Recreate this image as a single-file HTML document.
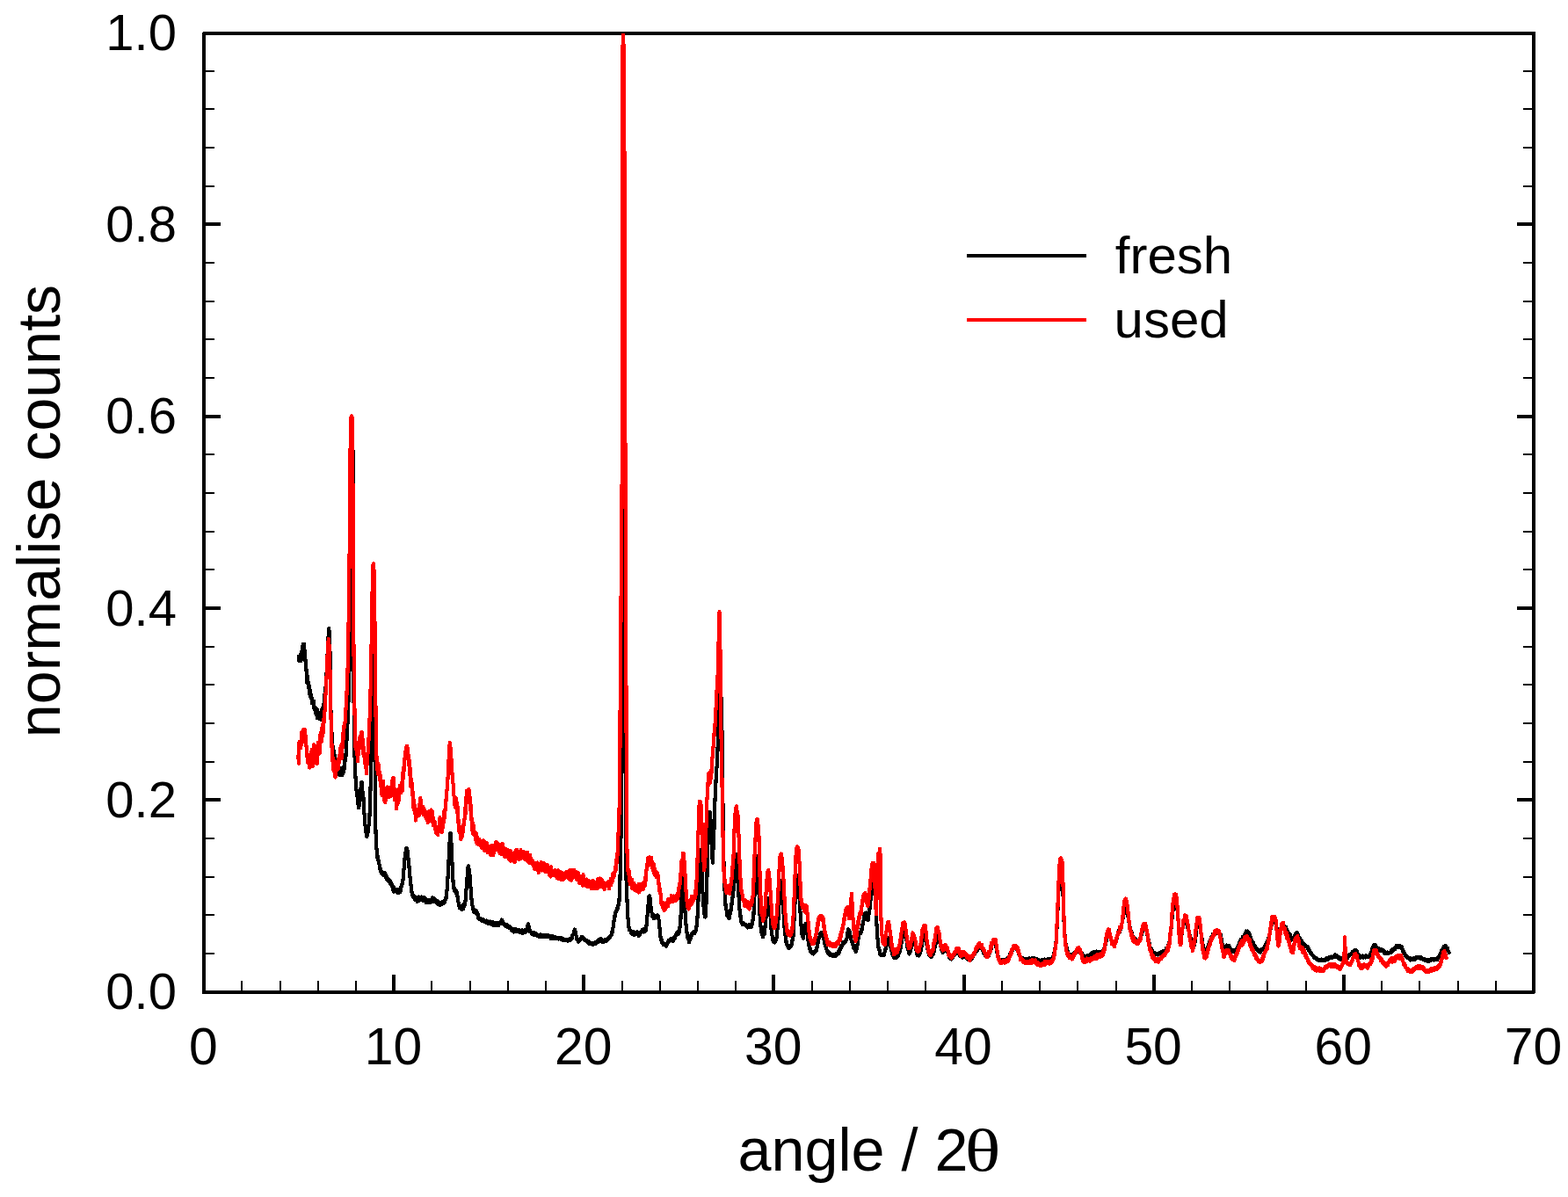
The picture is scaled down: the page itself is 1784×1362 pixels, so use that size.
<!DOCTYPE html>
<html lang="en">
<head>
<meta charset="utf-8">
<title>XRD pattern: fresh vs used</title>
<style>html,body{margin:0;padding:0;background:#fff;}body{width:1784px;height:1362px;overflow:hidden;}svg{display:block;}</style>
</head>
<body>
<svg width="1784" height="1362" viewBox="0 0 1784 1362" role="img" aria-label="XRD patterns: fresh and used">
<rect width="1784" height="1362" fill="#fff"/>
<g stroke="#000" fill="none" shape-rendering="crispEdges"><path d="M232.0 1129.0v-20" stroke-width="4"/><path d="M275.2 1129.0v-12.7" stroke-width="2"/><path d="M318.5 1129.0v-12.7" stroke-width="2"/><path d="M361.7 1129.0v-12.7" stroke-width="2"/><path d="M404.9 1129.0v-12.7" stroke-width="2"/><path d="M448.1 1129.0v-20" stroke-width="4"/><path d="M491.4 1129.0v-12.7" stroke-width="2"/><path d="M534.6 1129.0v-12.7" stroke-width="2"/><path d="M577.8 1129.0v-12.7" stroke-width="2"/><path d="M621.1 1129.0v-12.7" stroke-width="2"/><path d="M664.3 1129.0v-20" stroke-width="4"/><path d="M707.5 1129.0v-12.7" stroke-width="2"/><path d="M750.7 1129.0v-12.7" stroke-width="2"/><path d="M794.0 1129.0v-12.7" stroke-width="2"/><path d="M837.2 1129.0v-12.7" stroke-width="2"/><path d="M880.4 1129.0v-20" stroke-width="4"/><path d="M923.7 1129.0v-12.7" stroke-width="2"/><path d="M966.9 1129.0v-12.7" stroke-width="2"/><path d="M1010.1 1129.0v-12.7" stroke-width="2"/><path d="M1053.3 1129.0v-12.7" stroke-width="2"/><path d="M1096.6 1129.0v-20" stroke-width="4"/><path d="M1139.8 1129.0v-12.7" stroke-width="2"/><path d="M1183.0 1129.0v-12.7" stroke-width="2"/><path d="M1226.3 1129.0v-12.7" stroke-width="2"/><path d="M1269.5 1129.0v-12.7" stroke-width="2"/><path d="M1312.7 1129.0v-20" stroke-width="4"/><path d="M1355.9 1129.0v-12.7" stroke-width="2"/><path d="M1399.2 1129.0v-12.7" stroke-width="2"/><path d="M1442.4 1129.0v-12.7" stroke-width="2"/><path d="M1485.6 1129.0v-12.7" stroke-width="2"/><path d="M1528.9 1129.0v-20" stroke-width="4"/><path d="M1572.1 1129.0v-12.7" stroke-width="2"/><path d="M1615.3 1129.0v-12.7" stroke-width="2"/><path d="M1658.5 1129.0v-12.7" stroke-width="2"/><path d="M1701.8 1129.0v-12.7" stroke-width="2"/><path d="M1745.0 1129.0v-20" stroke-width="4"/><path d="M232.0 1084.9h12.0M1745.0 1084.9h-12.0" stroke-width="2"/><path d="M232.0 1041.3h12.0M1745.0 1041.3h-12.0" stroke-width="2"/><path d="M232.0 997.6h12.0M1745.0 997.6h-12.0" stroke-width="2"/><path d="M232.0 953.9h12.0M1745.0 953.9h-12.0" stroke-width="2"/><path d="M232.0 910.3h19.2M1745.0 910.3h-19.2" stroke-width="4"/><path d="M232.0 866.6h12.0M1745.0 866.6h-12.0" stroke-width="2"/><path d="M232.0 823.0h12.0M1745.0 823.0h-12.0" stroke-width="2"/><path d="M232.0 779.3h12.0M1745.0 779.3h-12.0" stroke-width="2"/><path d="M232.0 735.6h12.0M1745.0 735.6h-12.0" stroke-width="2"/><path d="M232.0 692.0h19.2M1745.0 692.0h-19.2" stroke-width="4"/><path d="M232.0 648.3h12.0M1745.0 648.3h-12.0" stroke-width="2"/><path d="M232.0 604.6h12.0M1745.0 604.6h-12.0" stroke-width="2"/><path d="M232.0 561.0h12.0M1745.0 561.0h-12.0" stroke-width="2"/><path d="M232.0 517.3h12.0M1745.0 517.3h-12.0" stroke-width="2"/><path d="M232.0 473.6h19.2M1745.0 473.6h-19.2" stroke-width="4"/><path d="M232.0 430.0h12.0M1745.0 430.0h-12.0" stroke-width="2"/><path d="M232.0 386.3h12.0M1745.0 386.3h-12.0" stroke-width="2"/><path d="M232.0 342.6h12.0M1745.0 342.6h-12.0" stroke-width="2"/><path d="M232.0 299.0h12.0M1745.0 299.0h-12.0" stroke-width="2"/><path d="M232.0 255.3h19.2M1745.0 255.3h-19.2" stroke-width="4"/><path d="M232.0 211.7h12.0M1745.0 211.7h-12.0" stroke-width="2"/><path d="M232.0 168.0h12.0M1745.0 168.0h-12.0" stroke-width="2"/><path d="M232.0 124.3h12.0M1745.0 124.3h-12.0" stroke-width="2"/><path d="M232.0 80.7h12.0M1745.0 80.7h-12.0" stroke-width="2"/></g>
<rect x="232.0" y="38.0" width="1513.0" height="1091.0" fill="none" stroke="#000" stroke-width="4" stroke-linejoin="round" shape-rendering="crispEdges"/>
<polyline shape-rendering="crispEdges" fill="none" stroke="#000" stroke-width="4.2" stroke-linejoin="round" stroke-linecap="round" points="340.0,751.0 340.0,746.9 340.2,749.2 340.5,752.2 340.8,748.1 341.0,746.3 341.2,748.9 341.5,749.1 341.8,751.7 342.0,744.4 342.2,744.7 342.5,751.9 342.8,749.0 343.0,750.5 343.2,746.6 343.5,740.9 343.8,739.3 344.0,747.8 344.2,737.3 344.5,734.6 344.8,732.9 345.0,735.9 345.2,735.4 345.5,733.0 345.8,733.2 346.0,732.8 346.2,736.1 346.5,740.0 346.8,743.8 347.0,742.7 347.2,744.9 347.5,752.0 347.8,754.1 348.0,759.8 348.2,756.9 348.4,763.3 348.7,762.5 348.9,767.3 349.1,776.3 349.3,769.8 349.6,774.3 349.8,769.2 350.0,774.1 350.2,778.1 350.5,776.8 350.7,779.2 350.9,779.4 351.1,777.0 351.4,782.9 351.6,779.7 351.8,788.9 352.0,782.7 352.3,787.3 352.5,786.3 352.7,789.9 353.0,786.0 353.2,791.6 353.4,789.1 353.6,794.0 353.9,792.9 354.1,792.2 354.3,790.3 354.5,795.7 354.8,795.6 355.0,799.9 355.2,794.6 355.5,798.0 355.7,798.5 355.9,798.6 356.1,799.0 356.4,799.6 356.6,798.0 356.8,797.5 357.0,800.0 357.3,803.5 357.5,806.9 357.7,805.9 358.0,806.7 358.2,806.4 358.4,806.8 358.6,805.9 358.9,808.1 359.1,811.6 359.3,806.1 359.5,805.6 359.8,813.8 360.0,809.4 360.2,812.0 360.5,812.1 360.7,806.9 360.9,817.4 361.1,816.0 361.4,812.0 361.6,814.1 361.8,812.7 362.0,810.4 362.3,813.0 362.5,814.8 362.7,817.1 363.0,816.2 363.2,814.6 363.4,818.4 363.6,812.8 363.9,817.3 364.1,818.4 364.3,814.8 364.5,810.8 364.8,813.5 365.0,816.9 365.2,817.2 365.5,819.4 365.7,811.7 365.9,814.0 366.1,815.2 366.4,812.4 366.6,805.6 366.8,814.0 367.0,817.7 367.3,813.4 367.5,807.4 367.7,806.8 367.9,806.6 368.2,811.2 368.4,803.8 368.6,800.3 368.9,802.6 369.1,795.8 369.3,799.5 369.5,790.0 369.8,789.0 370.0,788.7 370.2,787.4 370.5,782.7 370.8,779.0 371.0,771.2 371.2,771.9 371.5,767.0 371.8,762.1 372.0,758.0 372.2,752.3 372.5,746.7 372.8,740.0 373.0,733.6 373.2,727.6 373.5,725.3 373.8,723.2 374.0,717.0 374.2,715.0 374.5,717.6 374.8,718.1 375.0,728.0 375.2,727.6 375.5,746.2 375.8,765.0 376.0,783.7 376.2,802.5 376.5,810.7 376.8,819.3 377.0,826.9 377.2,834.8 377.5,833.0 377.8,843.5 378.0,843.9 378.2,843.3 378.5,849.6 378.8,849.1 379.0,859.7 379.2,858.9 379.5,858.8 379.7,858.1 379.9,854.5 380.1,860.6 380.4,858.4 380.6,864.7 380.8,859.4 381.0,863.5 381.3,869.7 381.5,871.9 381.7,865.8 382.0,865.5 382.2,871.7 382.4,872.1 382.7,868.4 382.9,869.6 383.1,870.2 383.3,869.6 383.6,871.3 383.8,876.3 384.0,875.5 384.3,879.2 384.5,874.8 384.7,875.1 385.0,873.6 385.2,876.0 385.4,873.7 385.7,873.1 385.9,879.1 386.1,881.2 386.3,880.3 386.6,881.8 386.8,879.8 387.0,878.0 387.3,880.3 387.5,879.7 387.7,877.7 388.0,876.2 388.2,876.4 388.4,879.5 388.7,879.6 388.9,877.9 389.1,882.0 389.4,878.9 389.6,879.6 389.8,880.8 390.1,875.9 390.3,873.0 390.5,879.0 390.8,875.4 391.0,878.7 391.2,875.1 391.4,875.4 391.7,873.5 391.9,865.6 392.1,870.8 392.3,866.2 392.6,864.7 392.8,864.1 393.0,865.7 393.2,863.4 393.5,859.6 393.8,853.0 394.0,850.1 394.2,844.4 394.5,842.8 394.8,839.6 395.0,834.7 395.2,828.9 395.5,822.6 395.8,816.7 396.0,809.6 396.2,803.4 396.5,797.3 396.8,788.9 397.0,779.8 397.2,770.5 397.5,761.6 397.8,752.5 398.0,740.0 398.2,727.5 398.5,715.0 398.8,702.3 399.0,690.0 399.2,656.7 399.5,623.3 399.8,590.0 400.0,565.0 400.2,540.0 400.5,515.0 400.8,503.3 401.0,492.0 401.2,503.5 401.5,515.0 401.8,590.0 402.0,690.0 402.2,765.0 402.5,790.0 402.8,815.0 403.0,833.6 403.2,852.5 403.5,858.8 403.8,865.3 404.0,872.0 404.2,878.9 404.5,885.0 404.8,888.0 405.0,890.6 405.2,894.5 405.5,899.0 405.8,900.6 406.0,902.9 406.2,905.9 406.5,906.8 406.8,907.7 407.0,914.2 407.2,914.2 407.5,914.5 407.8,919.4 408.0,916.7 408.2,918.1 408.5,916.9 408.8,910.9 409.0,909.6 409.2,909.5 409.5,911.3 409.8,908.8 410.0,902.2 410.2,902.5 410.5,897.4 410.8,894.4 411.0,893.4 411.2,893.5 411.5,889.9 411.8,891.3 412.0,890.3 412.2,896.4 412.5,902.2 412.8,905.4 413.0,901.9 413.2,903.8 413.5,909.1 413.8,913.1 414.0,919.4 414.2,922.9 414.5,925.3 414.8,930.4 415.0,933.5 415.2,935.0 415.5,939.5 415.8,941.5 416.0,943.8 416.2,945.9 416.5,946.9 416.8,949.7 417.0,950.3 417.2,949.1 417.4,952.4 417.7,949.8 417.9,949.2 418.1,945.1 418.3,946.8 418.6,947.8 418.8,943.5 419.0,946.4 419.2,941.6 419.5,939.7 419.8,936.1 420.0,933.6 420.2,932.0 420.5,927.4 420.8,920.3 421.0,912.3 421.2,904.8 421.5,897.7 421.8,889.9 422.0,877.5 422.2,865.1 422.5,852.6 422.8,839.9 423.0,823.4 423.2,806.8 423.5,790.1 423.8,777.5 424.0,764.9 424.2,752.5 424.5,746.9 424.8,743.5 425.0,739.5 425.2,744.5 425.5,749.7 425.8,755.0 426.0,785.0 426.2,815.0 426.5,852.5 426.8,890.0 427.0,915.0 427.2,940.0 427.5,946.2 427.8,952.2 428.0,958.7 428.2,965.5 428.5,966.1 428.8,968.8 429.0,972.7 429.2,974.1 429.5,976.1 429.8,977.3 430.0,974.1 430.2,976.8 430.5,979.2 430.8,980.7 431.0,983.1 431.2,983.2 431.5,983.4 431.8,985.1 432.0,986.0 432.2,987.8 432.5,989.7 432.7,988.7 433.0,988.6 433.2,989.0 433.4,992.0 433.6,992.7 433.9,992.8 434.1,993.1 434.3,993.5 434.5,992.8 434.8,994.2 435.0,992.4 435.2,993.6 435.5,993.0 435.7,995.0 435.9,993.4 436.1,994.2 436.4,995.0 436.6,996.3 436.8,993.6 437.0,993.5 437.3,996.0 437.5,993.6 437.7,995.8 438.0,994.7 438.2,995.5 438.4,993.5 438.6,997.1 438.9,995.7 439.1,995.4 439.3,999.5 439.5,998.0 439.8,1000.5 440.0,998.0 440.2,997.5 440.5,998.5 440.7,1000.9 440.9,999.3 441.1,1000.3 441.4,1000.9 441.6,999.5 441.8,1001.3 442.0,1001.0 442.3,1000.5 442.5,1003.6 442.7,1003.7 443.0,1003.3 443.2,1002.4 443.4,1001.4 443.6,1004.8 443.9,1004.4 444.1,1002.8 444.3,1005.2 444.5,1003.7 444.8,1005.9 445.0,1006.4 445.2,1007.1 445.5,1007.4 445.7,1007.8 445.9,1006.7 446.1,1008.1 446.4,1008.4 446.6,1009.2 446.8,1010.2 447.0,1011.1 447.3,1012.7 447.5,1008.3 447.7,1011.9 448.0,1011.5 448.2,1014.6 448.4,1013.2 448.6,1010.5 448.9,1013.1 449.1,1012.2 449.3,1014.2 449.5,1012.1 449.8,1013.4 450.0,1013.6 450.2,1013.7 450.4,1013.2 450.7,1011.8 450.9,1014.5 451.1,1015.1 451.3,1013.9 451.5,1012.9 451.8,1014.3 452.0,1014.8 452.2,1014.0 452.4,1014.2 452.6,1015.9 452.9,1013.0 453.1,1013.7 453.3,1012.2 453.5,1013.7 453.8,1013.7 454.0,1013.1 454.2,1013.1 454.4,1015.7 454.7,1013.1 454.9,1012.9 455.1,1015.3 455.3,1012.4 455.6,1010.1 455.8,1012.3 456.0,1010.5 456.2,1013.2 456.5,1008.9 456.8,1008.8 457.0,1006.7 457.2,1007.8 457.5,1005.6 457.8,1005.8 458.0,1004.5 458.2,1001.7 458.5,1001.2 458.8,998.7 459.0,995.1 459.2,991.3 459.5,988.9 459.8,987.4 460.0,986.6 460.2,980.8 460.5,977.5 460.8,974.7 461.0,971.3 461.2,969.8 461.5,969.8 461.8,971.1 462.0,967.7 462.2,965.7 462.5,965.2 462.8,965.7 463.0,967.5 463.2,968.1 463.5,967.2 463.8,968.4 464.0,971.9 464.2,975.5 464.5,976.9 464.8,978.3 465.0,979.7 465.2,983.2 465.5,985.8 465.8,990.9 466.0,990.6 466.2,994.2 466.5,998.7 466.8,999.5 467.0,1003.9 467.2,1004.3 467.5,1006.8 467.8,1008.5 468.0,1009.6 468.2,1011.1 468.4,1015.8 468.7,1014.9 468.9,1015.8 469.1,1017.2 469.3,1017.7 469.6,1019.2 469.8,1018.7 470.0,1019.8 470.2,1021.3 470.5,1020.1 470.7,1019.2 470.9,1020.7 471.1,1020.5 471.4,1022.0 471.6,1020.8 471.8,1020.7 472.0,1021.7 472.3,1024.0 472.5,1022.4 472.7,1022.8 473.0,1022.7 473.2,1023.2 473.4,1024.0 473.6,1024.6 473.9,1021.4 474.1,1024.8 474.3,1023.4 474.5,1023.2 474.8,1026.2 475.0,1023.6 475.2,1025.7 475.4,1024.6 475.7,1022.3 475.9,1023.9 476.1,1024.0 476.3,1023.0 476.5,1020.5 476.8,1022.6 477.0,1022.6 477.2,1021.5 477.4,1024.6 477.6,1022.3 477.9,1022.0 478.1,1022.0 478.3,1021.4 478.5,1021.3 478.8,1022.1 479.0,1022.4 479.2,1021.5 479.4,1022.0 479.6,1020.6 479.9,1022.7 480.1,1021.4 480.3,1022.4 480.5,1021.3 480.7,1021.7 481.0,1022.5 481.2,1021.0 481.4,1025.0 481.6,1022.3 481.8,1022.3 482.1,1021.6 482.3,1024.2 482.5,1024.0 482.7,1023.0 482.9,1021.4 483.2,1022.5 483.4,1023.9 483.6,1022.8 483.8,1022.3 484.0,1022.5 484.3,1023.1 484.5,1024.1 484.7,1023.6 484.9,1024.5 485.1,1027.3 485.4,1026.7 485.6,1023.9 485.8,1025.5 486.0,1025.4 486.2,1025.4 486.5,1026.6 486.7,1025.2 486.9,1025.3 487.1,1025.3 487.4,1025.6 487.6,1027.1 487.8,1026.6 488.0,1024.4 488.2,1025.4 488.5,1025.1 488.7,1026.8 488.9,1026.3 489.1,1027.0 489.3,1026.1 489.6,1024.2 489.8,1026.7 490.0,1026.5 490.2,1026.6 490.5,1024.4 490.7,1025.7 490.9,1024.6 491.1,1024.4 491.4,1025.3 491.6,1025.0 491.8,1023.5 492.0,1022.4 492.3,1021.3 492.5,1023.1 492.7,1025.0 493.0,1023.8 493.2,1021.6 493.4,1023.1 493.6,1024.5 493.9,1025.9 494.1,1025.5 494.3,1024.7 494.5,1024.6 494.8,1023.3 495.0,1024.0 495.2,1024.3 495.4,1024.0 495.7,1025.1 495.9,1024.8 496.1,1025.7 496.3,1027.1 496.5,1026.5 496.8,1026.4 497.0,1025.8 497.2,1024.7 497.4,1026.3 497.6,1027.2 497.9,1025.7 498.1,1028.3 498.3,1026.8 498.5,1027.7 498.8,1027.2 499.0,1026.2 499.2,1029.6 499.4,1026.3 499.6,1028.5 499.9,1026.9 500.1,1027.8 500.3,1026.7 500.5,1027.1 500.7,1028.5 501.0,1029.5 501.2,1026.6 501.4,1027.5 501.6,1028.5 501.8,1026.8 502.1,1028.2 502.3,1026.7 502.5,1028.1 502.7,1027.9 503.0,1028.6 503.2,1027.6 503.4,1025.9 503.7,1027.7 503.9,1025.8 504.1,1027.6 504.3,1028.3 504.6,1027.3 504.8,1026.0 505.0,1027.7 505.3,1026.5 505.5,1024.9 505.7,1025.5 505.9,1026.9 506.2,1024.7 506.4,1024.7 506.6,1023.8 506.8,1021.9 507.1,1022.8 507.3,1023.3 507.5,1022.7 507.8,1019.8 508.0,1015.1 508.2,1016.4 508.5,1013.3 508.8,1011.2 509.0,1008.0 509.2,1002.8 509.5,998.3 509.8,994.1 510.0,990.2 510.2,984.4 510.5,979.9 510.8,974.7 511.0,970.2 511.2,965.6 511.5,959.9 511.8,955.6 512.0,953.9 512.2,950.5 512.5,947.8 512.8,949.1 513.0,954.8 513.2,956.4 513.5,960.2 513.8,965.2 514.0,971.6 514.2,976.5 514.5,982.8 514.8,986.9 515.0,993.0 515.2,997.4 515.5,1002.0 515.8,1007.4 516.0,1009.2 516.2,1008.8 516.5,1010.7 516.8,1012.8 517.0,1013.6 517.2,1010.8 517.5,1013.2 517.8,1014.1 518.0,1013.9 518.2,1014.7 518.5,1012.7 518.8,1016.4 519.0,1014.7 519.2,1014.5 519.5,1015.6 519.8,1015.8 520.0,1015.1 520.2,1016.3 520.5,1020.1 520.8,1021.5 521.0,1021.0 521.2,1023.8 521.5,1026.7 521.8,1027.6 522.0,1029.0 522.2,1030.7 522.5,1031.4 522.7,1033.0 523.0,1031.0 523.2,1031.3 523.4,1032.2 523.6,1032.8 523.9,1033.0 524.1,1033.8 524.3,1032.0 524.5,1033.8 524.8,1033.3 525.0,1032.0 525.2,1032.8 525.5,1034.9 525.7,1033.5 525.9,1032.2 526.1,1030.2 526.4,1031.7 526.6,1031.7 526.8,1032.3 527.0,1034.5 527.3,1032.8 527.5,1032.3 527.7,1030.3 527.9,1029.2 528.2,1029.5 528.4,1028.4 528.6,1030.7 528.8,1026.9 529.1,1025.9 529.3,1027.0 529.5,1025.1 529.8,1021.1 530.0,1020.0 530.2,1015.8 530.5,1011.9 530.8,1010.2 531.0,1006.8 531.2,1002.8 531.5,1000.0 531.8,996.5 532.0,991.9 532.2,988.3 532.5,986.4 532.8,988.0 533.0,988.4 533.2,985.2 533.5,988.4 533.8,990.8 534.0,993.2 534.2,992.5 534.5,996.7 534.8,998.5 535.0,1003.4 535.2,1006.7 535.5,1009.9 535.8,1012.6 536.0,1015.1 536.2,1019.1 536.5,1023.0 536.8,1024.7 537.0,1027.3 537.2,1027.8 537.5,1030.5 537.8,1031.0 538.0,1034.1 538.2,1034.0 538.4,1034.9 538.7,1034.4 538.9,1034.3 539.1,1035.5 539.3,1037.3 539.6,1038.2 539.8,1036.8 540.0,1038.3 540.2,1038.4 540.5,1038.2 540.7,1036.5 540.9,1038.4 541.2,1037.3 541.4,1039.5 541.6,1039.2 541.9,1039.2 542.1,1036.4 542.3,1039.5 542.6,1039.7 542.8,1038.0 543.0,1040.3 543.2,1039.6 543.5,1040.1 543.8,1040.4 544.0,1040.9 544.2,1042.2 544.5,1045.7 544.8,1044.4 545.0,1045.2 545.2,1044.5 545.5,1044.7 545.7,1044.8 545.9,1044.7 546.1,1046.3 546.4,1045.4 546.6,1046.6 546.8,1044.9 547.0,1046.8 547.3,1046.1 547.5,1046.8 547.7,1046.3 548.0,1045.7 548.2,1047.7 548.4,1046.3 548.6,1046.7 548.9,1046.2 549.1,1047.2 549.3,1046.8 549.5,1047.5 549.8,1047.7 550.0,1046.9 550.2,1046.4 550.5,1048.1 550.7,1048.6 550.9,1048.6 551.1,1047.1 551.4,1048.7 551.6,1048.6 551.8,1048.7 552.0,1048.9 552.3,1048.4 552.5,1048.9 552.7,1049.6 553.0,1048.4 553.2,1047.7 553.4,1048.9 553.6,1049.2 553.9,1047.5 554.1,1048.6 554.3,1049.7 554.5,1049.1 554.8,1049.4 555.0,1048.3 555.2,1050.2 555.5,1051.0 555.7,1049.4 555.9,1049.0 556.1,1048.7 556.4,1050.5 556.6,1049.9 556.8,1049.2 557.0,1050.9 557.3,1050.6 557.5,1050.5 557.7,1048.6 558.0,1050.0 558.2,1050.7 558.4,1049.2 558.6,1051.1 558.9,1051.6 559.1,1051.3 559.3,1049.8 559.5,1049.9 559.8,1051.4 560.0,1051.5 560.2,1051.7 560.5,1051.8 560.7,1050.7 560.9,1050.5 561.1,1049.3 561.4,1051.6 561.6,1052.9 561.8,1050.7 562.0,1050.7 562.3,1051.7 562.5,1051.6 562.7,1050.1 563.0,1050.6 563.2,1050.3 563.4,1053.0 563.6,1050.6 563.9,1052.0 564.1,1052.9 564.3,1052.8 564.5,1052.4 564.8,1052.6 565.0,1050.2 565.2,1051.0 565.5,1050.6 565.7,1051.0 565.9,1053.4 566.1,1049.8 566.4,1051.7 566.6,1050.2 566.8,1052.4 567.0,1052.3 567.3,1050.8 567.5,1053.0 567.7,1051.1 568.0,1051.9 568.2,1050.8 568.4,1049.9 568.6,1049.8 568.9,1049.8 569.1,1050.2 569.3,1049.5 569.5,1051.2 569.8,1048.8 570.0,1048.3 570.2,1047.8 570.5,1047.5 570.8,1046.6 571.0,1046.7 571.2,1048.0 571.5,1047.9 571.8,1048.2 572.0,1049.3 572.2,1050.4 572.5,1050.6 572.8,1051.3 573.0,1050.8 573.2,1051.2 573.4,1051.0 573.7,1051.8 573.9,1051.3 574.1,1051.9 574.3,1052.3 574.6,1052.4 574.8,1052.6 575.0,1052.6 575.2,1054.2 575.4,1053.0 575.7,1052.5 575.9,1053.6 576.1,1052.7 576.3,1052.8 576.5,1053.9 576.8,1052.6 577.0,1052.0 577.2,1054.4 577.4,1055.1 577.6,1053.0 577.9,1053.8 578.1,1055.1 578.3,1053.2 578.5,1054.2 578.8,1054.0 579.0,1055.0 579.2,1053.7 579.4,1056.2 579.7,1055.6 579.9,1056.1 580.1,1055.8 580.3,1054.5 580.6,1056.2 580.8,1055.5 581.0,1056.7 581.2,1056.2 581.5,1056.8 581.7,1057.0 581.9,1058.0 582.2,1058.2 582.4,1056.9 582.6,1057.9 582.8,1059.2 583.1,1058.6 583.3,1057.8 583.5,1058.5 583.8,1058.5 584.0,1059.5 584.2,1058.8 584.4,1059.0 584.7,1060.4 584.9,1057.6 585.1,1057.9 585.3,1057.3 585.6,1057.4 585.8,1059.3 586.0,1058.9 586.2,1059.9 586.5,1057.1 586.7,1057.9 586.9,1059.7 587.2,1059.4 587.4,1059.3 587.6,1059.2 587.8,1058.6 588.1,1058.5 588.3,1058.5 588.5,1059.2 588.8,1058.4 589.0,1058.8 589.2,1059.8 589.4,1057.8 589.7,1058.2 589.9,1059.3 590.1,1058.7 590.3,1058.9 590.6,1060.7 590.8,1059.4 591.0,1058.9 591.2,1060.1 591.5,1061.3 591.7,1058.5 591.9,1058.9 592.2,1059.6 592.4,1059.1 592.6,1061.3 592.8,1060.1 593.1,1059.5 593.3,1060.2 593.5,1059.3 593.8,1059.5 594.0,1060.1 594.2,1061.8 594.4,1058.3 594.7,1060.3 594.9,1061.0 595.1,1060.6 595.3,1061.5 595.6,1060.3 595.8,1060.1 596.0,1059.9 596.2,1059.3 596.5,1061.3 596.7,1059.1 596.9,1059.9 597.2,1059.6 597.4,1059.4 597.6,1058.3 597.8,1059.7 598.1,1060.1 598.3,1060.1 598.5,1060.6 598.8,1059.9 599.0,1058.5 599.2,1058.2 599.5,1057.4 599.8,1055.1 600.0,1053.6 600.2,1052.9 600.5,1054.1 600.8,1053.5 601.0,1051.3 601.2,1051.6 601.5,1053.4 601.8,1055.0 602.0,1054.6 602.2,1056.1 602.5,1058.6 602.8,1060.0 603.0,1059.9 603.2,1058.4 603.5,1060.2 603.8,1060.3 604.0,1060.6 604.2,1060.2 604.4,1060.5 604.6,1061.0 604.9,1062.5 605.1,1061.7 605.3,1061.6 605.5,1061.5 605.7,1061.0 606.0,1061.5 606.2,1062.7 606.4,1062.5 606.6,1063.5 606.8,1062.3 607.1,1062.2 607.3,1061.2 607.5,1062.8 607.7,1061.3 608.0,1063.9 608.2,1062.4 608.4,1063.0 608.6,1062.1 608.9,1062.8 609.1,1062.6 609.3,1064.2 609.5,1063.7 609.8,1062.8 610.0,1062.3 610.2,1063.8 610.5,1063.6 610.7,1063.3 610.9,1064.6 611.1,1064.2 611.4,1064.5 611.6,1064.1 611.8,1064.2 612.0,1064.4 612.3,1063.7 612.5,1065.5 612.7,1065.3 613.0,1063.7 613.2,1065.0 613.4,1065.8 613.6,1065.1 613.9,1065.9 614.1,1064.7 614.3,1064.9 614.5,1064.0 614.8,1064.2 615.0,1063.5 615.2,1064.2 615.5,1065.0 615.7,1065.2 615.9,1065.7 616.1,1064.9 616.4,1064.1 616.6,1065.1 616.8,1064.7 617.0,1066.1 617.3,1066.2 617.5,1065.5 617.7,1063.9 618.0,1064.4 618.2,1064.9 618.4,1064.3 618.6,1065.2 618.9,1065.3 619.1,1065.4 619.3,1065.0 619.5,1064.2 619.8,1064.2 620.0,1064.8 620.2,1065.9 620.5,1066.0 620.7,1065.6 620.9,1065.2 621.1,1065.4 621.4,1065.5 621.6,1065.9 621.8,1065.6 622.0,1063.9 622.3,1065.7 622.5,1065.3 622.7,1064.7 623.0,1065.5 623.2,1065.4 623.4,1065.2 623.6,1064.1 623.9,1065.4 624.1,1065.8 624.3,1065.4 624.5,1064.4 624.8,1065.9 625.0,1066.1 625.2,1065.8 625.5,1066.0 625.7,1065.5 625.9,1065.4 626.1,1066.3 626.4,1065.7 626.6,1066.2 626.8,1067.9 627.0,1066.6 627.3,1066.3 627.5,1065.1 627.7,1066.4 628.0,1066.9 628.2,1065.9 628.4,1066.3 628.6,1064.9 628.9,1067.0 629.1,1066.2 629.3,1067.2 629.5,1067.7 629.8,1066.7 630.0,1067.6 630.2,1067.1 630.5,1066.8 630.7,1066.8 630.9,1066.5 631.1,1068.1 631.4,1067.8 631.6,1066.6 631.8,1067.9 632.0,1066.9 632.3,1066.4 632.5,1068.3 632.7,1066.6 632.9,1068.3 633.2,1067.6 633.4,1068.1 633.6,1067.8 633.8,1068.2 634.0,1067.6 634.3,1067.8 634.5,1067.5 634.7,1068.1 634.9,1067.1 635.1,1068.0 635.4,1068.4 635.6,1067.2 635.8,1067.6 636.0,1066.9 636.2,1067.0 636.5,1067.5 636.7,1067.2 636.9,1066.9 637.1,1067.6 637.4,1067.8 637.6,1068.0 637.8,1068.4 638.0,1066.7 638.2,1069.0 638.5,1068.0 638.7,1067.7 638.9,1068.0 639.1,1068.7 639.3,1069.1 639.6,1068.3 639.8,1068.8 640.0,1067.6 640.2,1068.9 640.5,1068.8 640.7,1068.6 640.9,1069.6 641.1,1070.3 641.4,1069.8 641.6,1068.6 641.8,1070.3 642.0,1069.0 642.3,1069.3 642.5,1069.0 642.7,1069.7 643.0,1069.9 643.2,1069.6 643.4,1069.5 643.6,1069.6 643.9,1069.4 644.1,1070.4 644.3,1069.5 644.5,1069.8 644.8,1069.8 645.0,1069.5 645.2,1069.8 645.5,1068.9 645.7,1070.1 645.9,1070.1 646.1,1069.5 646.4,1070.7 646.6,1069.0 646.8,1069.9 647.0,1069.8 647.3,1069.1 647.5,1069.2 647.7,1069.9 648.0,1069.3 648.2,1069.4 648.4,1070.1 648.6,1069.2 648.9,1067.9 649.1,1068.5 649.3,1069.5 649.5,1068.8 649.8,1068.1 650.0,1067.4 650.2,1068.4 650.4,1068.7 650.7,1066.2 650.9,1065.0 651.1,1066.3 651.3,1065.0 651.6,1064.6 651.8,1064.1 652.0,1063.1 652.2,1063.1 652.5,1062.4 652.8,1061.0 653.0,1059.3 653.2,1059.6 653.5,1058.5 653.8,1058.8 654.0,1057.5 654.2,1058.5 654.5,1060.0 654.8,1061.8 655.0,1062.2 655.2,1063.9 655.5,1064.6 655.8,1066.5 656.0,1067.4 656.2,1068.5 656.5,1068.3 656.8,1068.7 657.0,1069.6 657.2,1069.7 657.4,1069.6 657.6,1070.7 657.9,1071.1 658.1,1070.9 658.3,1071.6 658.5,1071.3 658.8,1070.6 659.0,1070.5 659.2,1070.3 659.4,1070.6 659.6,1070.4 659.9,1069.5 660.1,1069.8 660.3,1068.2 660.5,1068.3 660.8,1069.0 661.0,1068.1 661.2,1068.4 661.5,1066.1 661.8,1066.1 662.0,1066.5 662.2,1067.6 662.5,1067.9 662.7,1066.5 662.9,1066.3 663.2,1066.5 663.4,1066.7 663.6,1067.8 663.8,1067.4 664.1,1069.0 664.3,1068.4 664.5,1067.5 664.8,1068.5 665.0,1068.5 665.2,1069.4 665.5,1069.8 665.8,1069.2 666.0,1070.3 666.2,1070.4 666.5,1070.1 666.7,1070.5 666.9,1070.9 667.1,1070.4 667.4,1070.3 667.6,1071.7 667.8,1071.0 668.0,1070.8 668.2,1071.6 668.5,1070.5 668.7,1071.7 668.9,1070.9 669.1,1071.6 669.3,1070.9 669.6,1071.7 669.8,1072.9 670.0,1072.4 670.2,1071.8 670.4,1073.8 670.7,1072.4 670.9,1073.9 671.1,1072.7 671.3,1072.2 671.5,1074.4 671.8,1073.0 672.0,1073.9 672.2,1074.3 672.4,1072.8 672.6,1073.8 672.9,1073.5 673.1,1074.3 673.3,1074.0 673.5,1073.3 673.8,1074.3 674.0,1074.7 674.2,1073.9 674.4,1074.4 674.6,1073.6 674.9,1073.9 675.1,1074.0 675.3,1073.8 675.5,1074.5 675.7,1074.2 676.0,1074.1 676.2,1073.9 676.4,1073.5 676.6,1072.5 676.8,1073.9 677.1,1074.3 677.3,1073.2 677.5,1072.8 677.7,1072.8 677.9,1073.5 678.2,1072.7 678.4,1071.8 678.6,1072.2 678.8,1071.6 679.0,1071.8 679.3,1071.2 679.5,1071.1 679.7,1072.5 679.9,1072.1 680.1,1070.2 680.4,1070.4 680.6,1070.6 680.8,1070.5 681.0,1069.7 681.2,1071.1 681.5,1069.3 681.7,1070.7 681.9,1070.6 682.2,1069.7 682.4,1069.4 682.6,1069.7 682.8,1069.7 683.1,1068.0 683.3,1068.4 683.5,1069.5 683.8,1068.9 684.0,1068.9 684.2,1068.7 684.4,1069.1 684.7,1069.3 684.9,1071.7 685.1,1069.4 685.3,1071.5 685.6,1071.0 685.8,1071.0 686.0,1071.2 686.2,1071.0 686.5,1072.2 686.7,1071.4 686.9,1071.0 687.1,1070.9 687.4,1071.0 687.6,1070.1 687.8,1070.5 688.0,1070.3 688.2,1071.0 688.5,1070.9 688.7,1069.2 688.9,1070.2 689.1,1071.0 689.3,1069.4 689.6,1069.4 689.8,1070.8 690.0,1069.9 690.2,1069.5 690.4,1068.7 690.7,1069.5 690.9,1068.7 691.1,1069.0 691.3,1069.0 691.5,1068.9 691.8,1068.0 692.0,1067.7 692.2,1067.8 692.4,1067.5 692.6,1067.5 692.9,1066.8 693.1,1066.8 693.3,1066.3 693.5,1066.1 693.8,1066.4 694.0,1066.7 694.2,1065.2 694.4,1065.6 694.7,1065.1 694.9,1064.6 695.1,1064.7 695.3,1063.5 695.6,1063.9 695.8,1063.4 696.0,1061.0 696.2,1062.8 696.5,1061.5 696.8,1061.1 697.0,1057.4 697.2,1056.9 697.5,1055.6 697.8,1053.2 698.0,1053.5 698.2,1051.0 698.5,1048.1 698.8,1045.9 699.0,1044.6 699.2,1045.2 699.5,1043.2 699.8,1038.3 700.0,1038.2 700.2,1039.7 700.5,1038.3 700.8,1037.1 701.0,1037.5 701.2,1036.3 701.5,1036.0 701.8,1035.4 702.0,1033.6 702.2,1035.4 702.5,1033.1 702.8,1034.1 703.0,1033.2 703.2,1031.3 703.5,1030.1 703.8,1028.7 704.0,1025.6 704.2,1025.9 704.5,1025.1 704.8,1018.5 705.0,1012.2 705.2,1006.5 705.5,1000.0 705.8,987.4 706.0,975.0 706.2,962.5 706.5,950.0 706.8,931.2 707.0,912.5 707.2,893.7 707.5,875.0 707.8,816.7 708.0,758.3 708.3,700.0 708.7,400.0 709.0,100.0 709.2,48.0 709.5,100.0 709.8,200.0 710.0,300.0 710.3,400.0 710.5,475.0 710.8,550.0 711.0,625.0 711.2,700.0 711.5,766.7 711.7,833.3 712.0,900.0 712.2,950.0 712.5,1000.0 712.8,1006.1 713.0,1012.4 713.2,1018.6 713.5,1025.1 713.8,1029.7 714.0,1034.6 714.2,1039.8 714.5,1045.2 714.8,1047.1 715.0,1050.5 715.2,1053.1 715.5,1054.6 715.8,1058.1 716.0,1058.2 716.2,1058.0 716.4,1057.8 716.7,1058.6 716.9,1058.0 717.1,1059.0 717.4,1059.1 717.6,1060.1 717.8,1060.4 718.1,1059.9 718.3,1061.3 718.5,1061.9 718.8,1061.3 719.0,1060.8 719.2,1061.8 719.4,1059.7 719.6,1061.1 719.9,1062.1 720.1,1063.2 720.3,1061.2 720.5,1063.0 720.7,1063.6 721.0,1063.4 721.2,1060.3 721.4,1063.0 721.6,1062.4 721.8,1063.0 722.1,1062.2 722.3,1062.0 722.5,1062.3 722.7,1063.5 723.0,1062.9 723.2,1061.9 723.4,1062.2 723.6,1062.5 723.9,1062.1 724.1,1061.5 724.3,1060.9 724.5,1060.7 724.8,1060.8 725.0,1060.6 725.2,1060.2 725.4,1060.7 725.7,1062.8 725.9,1061.7 726.1,1062.0 726.3,1063.3 726.6,1064.8 726.8,1065.0 727.0,1064.2 727.2,1063.4 727.5,1063.4 727.7,1062.8 727.9,1062.7 728.2,1063.1 728.4,1061.6 728.6,1061.5 728.8,1061.5 729.1,1061.4 729.3,1060.5 729.5,1060.1 729.8,1059.5 730.0,1059.4 730.2,1060.3 730.5,1059.6 730.7,1057.8 730.9,1060.1 731.2,1059.5 731.4,1058.8 731.6,1059.1 731.8,1057.3 732.1,1057.9 732.3,1059.9 732.5,1060.6 732.8,1060.5 733.0,1058.2 733.2,1058.8 733.4,1059.4 733.7,1057.8 733.9,1060.1 734.1,1058.2 734.3,1059.0 734.6,1057.9 734.8,1059.0 735.0,1058.7 735.2,1057.1 735.5,1052.8 735.8,1051.2 736.0,1050.3 736.2,1045.8 736.5,1042.4 736.8,1038.5 737.0,1034.2 737.2,1030.4 737.5,1029.6 737.8,1027.1 738.0,1024.2 738.2,1021.5 738.5,1019.5 738.8,1020.4 739.0,1021.7 739.2,1019.2 739.5,1022.8 739.8,1022.6 740.0,1024.3 740.2,1028.2 740.5,1031.4 740.8,1032.4 741.0,1034.3 741.2,1036.6 741.5,1038.8 741.8,1039.8 742.0,1042.4 742.2,1040.2 742.5,1042.1 742.7,1042.3 742.9,1040.8 743.1,1043.5 743.4,1041.2 743.6,1041.5 743.8,1045.3 744.0,1044.5 744.3,1043.9 744.5,1045.0 744.7,1044.7 745.0,1042.6 745.2,1044.0 745.4,1044.7 745.6,1043.3 745.9,1043.4 746.1,1042.9 746.3,1043.9 746.5,1042.6 746.8,1042.5 747.0,1041.9 747.2,1042.0 747.5,1042.9 747.8,1043.0 748.0,1042.1 748.2,1041.3 748.5,1042.5 748.8,1042.3 749.0,1044.8 749.2,1044.8 749.5,1046.4 749.8,1048.8 750.0,1050.9 750.2,1053.0 750.5,1056.0 750.8,1058.5 751.0,1061.8 751.2,1065.5 751.5,1066.5 751.7,1067.5 751.9,1066.3 752.1,1068.9 752.4,1068.5 752.6,1070.4 752.8,1069.2 753.0,1071.6 753.2,1071.9 753.5,1073.5 753.8,1072.9 754.0,1073.9 754.2,1072.9 754.5,1074.7 754.8,1073.3 755.0,1075.0 755.2,1073.6 755.5,1073.5 755.7,1074.9 755.9,1074.3 756.2,1074.7 756.4,1074.0 756.6,1074.9 756.8,1075.4 757.1,1075.0 757.3,1075.9 757.5,1074.4 757.8,1076.6 758.0,1076.0 758.2,1076.8 758.5,1075.1 758.7,1074.5 758.9,1074.2 759.2,1074.2 759.4,1074.0 759.6,1072.8 759.9,1072.1 760.1,1072.5 760.3,1072.3 760.6,1070.1 760.8,1070.2 761.0,1070.0 761.2,1071.2 761.5,1070.7 761.7,1070.3 761.9,1069.9 762.2,1068.7 762.4,1070.1 762.6,1068.9 762.8,1068.5 763.1,1070.3 763.3,1067.8 763.5,1069.6 763.8,1068.6 764.0,1068.0 764.2,1068.9 764.4,1068.3 764.7,1069.2 764.9,1068.7 765.1,1068.5 765.3,1071.2 765.6,1069.2 765.8,1070.4 766.0,1069.8 766.2,1070.5 766.5,1068.6 766.7,1068.2 766.9,1066.6 767.2,1068.6 767.4,1067.6 767.6,1065.9 767.9,1066.9 768.1,1066.1 768.3,1067.0 768.6,1064.8 768.8,1064.8 769.0,1064.0 769.3,1063.6 769.5,1062.5 769.7,1062.1 770.0,1062.8 770.2,1063.2 770.4,1061.2 770.7,1061.2 770.9,1061.9 771.1,1063.2 771.3,1061.6 771.6,1060.3 771.8,1062.2 772.0,1062.0 772.3,1062.8 772.5,1061.4 772.8,1061.2 773.0,1057.5 773.2,1057.2 773.5,1054.9 773.8,1052.2 774.0,1051.4 774.2,1050.2 774.5,1043.9 774.8,1037.4 775.0,1031.4 775.2,1025.2 775.5,1018.9 775.8,1012.6 776.0,1006.3 776.2,999.8 776.5,998.5 776.8,997.3 777.0,995.8 777.2,996.2 777.5,998.2 777.8,1000.0 778.0,1006.3 778.2,1012.7 778.5,1018.6 778.8,1024.9 779.0,1029.3 779.2,1033.2 779.5,1037.6 779.8,1041.5 780.0,1046.2 780.2,1049.9 780.5,1051.2 780.8,1054.9 781.0,1057.8 781.2,1057.1 781.5,1060.6 781.8,1062.9 782.0,1065.8 782.2,1066.7 782.5,1066.1 782.7,1065.8 782.9,1068.0 783.1,1068.8 783.4,1069.1 783.6,1069.4 783.8,1069.4 784.0,1072.3 784.2,1070.4 784.5,1069.5 784.7,1070.5 784.9,1069.4 785.1,1069.0 785.4,1068.0 785.6,1068.3 785.8,1067.4 786.0,1065.3 786.2,1065.7 786.5,1063.8 786.7,1063.1 786.9,1064.9 787.2,1063.3 787.4,1061.7 787.6,1062.9 787.8,1062.1 788.1,1062.7 788.3,1061.9 788.5,1061.0 788.8,1060.7 789.0,1061.7 789.2,1060.3 789.4,1061.0 789.7,1060.0 789.9,1061.0 790.1,1062.0 790.3,1060.9 790.6,1061.2 790.8,1060.6 791.0,1059.4 791.2,1059.8 791.5,1059.0 791.8,1058.2 792.0,1056.3 792.2,1056.2 792.5,1054.1 792.8,1053.6 793.0,1052.5 793.2,1047.6 793.5,1043.6 793.8,1038.8 794.0,1034.2 794.2,1029.6 794.5,1024.8 794.8,1017.3 795.0,1009.9 795.2,1002.6 795.5,994.9 795.8,987.6 796.0,982.9 796.2,978.8 796.5,974.9 796.8,971.7 797.0,967.0 797.2,968.8 797.5,973.4 797.8,977.1 798.0,980.0 798.2,986.5 798.5,993.2 798.8,999.6 799.0,1005.8 799.2,1012.6 799.5,1015.6 799.8,1019.5 800.0,1024.0 800.2,1028.0 800.5,1031.1 800.8,1034.1 801.0,1037.1 801.2,1037.7 801.5,1040.9 801.8,1040.6 802.0,1039.9 802.2,1043.5 802.5,1043.3 802.8,1040.0 803.0,1036.0 803.2,1031.2 803.5,1028.2 803.8,1025.0 804.0,1015.0 804.2,1005.1 804.5,994.9 804.8,985.0 805.0,975.0 805.2,967.0 805.5,958.8 805.8,950.8 806.0,942.6 806.2,935.1 806.5,933.1 806.8,932.4 807.0,928.6 807.2,929.0 807.5,925.7 807.8,924.1 808.0,924.7 808.2,929.2 808.5,933.4 808.8,937.2 809.0,941.3 809.2,946.6 809.5,950.3 809.8,956.2 810.0,962.5 810.2,969.3 810.5,975.7 810.8,981.8 811.0,977.4 811.2,970.6 811.5,965.7 811.8,960.8 812.0,955.7 812.2,949.7 812.5,941.9 812.8,934.3 813.0,926.3 813.2,918.0 813.5,910.0 813.8,904.5 814.0,900.2 814.2,894.4 814.5,888.9 814.8,884.2 815.0,880.9 815.2,875.6 815.5,873.4 815.8,869.4 816.0,865.0 816.2,860.2 816.5,852.8 816.8,845.1 817.0,837.8 817.2,830.1 817.5,822.7 817.8,815.6 818.0,809.2 818.2,802.6 818.5,796.9 818.8,790.2 819.0,786.3 819.2,784.3 819.5,784.2 819.8,787.3 820.0,783.2 820.2,788.8 820.5,794.3 820.8,799.9 821.0,811.7 821.2,823.5 821.5,835.0 821.8,860.0 822.0,885.0 822.2,901.7 822.5,918.3 822.8,935.0 823.0,951.6 823.2,968.4 823.5,984.9 823.8,991.5 824.0,998.5 824.2,1004.9 824.5,1011.5 824.8,1018.3 825.0,1025.0 825.2,1026.2 825.4,1027.6 825.7,1031.8 825.9,1033.2 826.1,1033.7 826.3,1033.9 826.6,1036.2 826.8,1038.1 827.0,1040.5 827.2,1042.0 827.5,1040.4 827.7,1041.5 827.9,1041.4 828.1,1042.4 828.4,1042.1 828.6,1043.5 828.8,1044.7 829.0,1043.7 829.3,1044.3 829.5,1045.1 829.7,1042.7 830.0,1044.4 830.2,1040.4 830.4,1040.1 830.6,1038.5 830.9,1039.6 831.1,1036.6 831.3,1035.4 831.5,1036.6 831.8,1033.5 832.0,1031.7 832.2,1030.7 832.5,1029.1 832.7,1026.3 832.9,1025.0 833.1,1023.2 833.4,1022.4 833.6,1020.6 833.8,1018.9 834.0,1016.0 834.3,1015.2 834.5,1012.4 834.8,1009.6 835.0,1005.6 835.2,1001.5 835.5,999.0 835.8,993.7 836.0,990.4 836.2,987.0 836.5,984.3 836.8,980.2 837.0,977.1 837.2,973.3 837.5,972.0 837.8,975.2 838.0,977.5 838.2,983.3 838.5,985.1 838.8,987.1 839.0,992.9 839.2,997.5 839.5,1002.8 839.8,1007.2 840.0,1012.8 840.2,1016.7 840.5,1019.4 840.8,1022.8 841.0,1026.6 841.2,1030.5 841.5,1035.1 841.8,1038.4 842.0,1040.3 842.2,1040.1 842.4,1041.4 842.6,1043.4 842.9,1044.2 843.1,1045.4 843.3,1047.0 843.5,1049.4 843.8,1049.9 844.0,1050.4 844.2,1050.1 844.4,1050.3 844.6,1050.3 844.9,1051.8 845.1,1051.1 845.3,1052.3 845.5,1051.0 845.7,1052.2 846.0,1050.3 846.2,1051.3 846.4,1051.7 846.6,1051.4 846.8,1052.0 847.1,1051.4 847.3,1052.2 847.5,1051.9 847.7,1052.6 847.9,1052.4 848.2,1051.9 848.4,1052.5 848.6,1052.9 848.8,1051.9 849.0,1053.1 849.3,1054.1 849.5,1053.0 849.7,1053.7 849.9,1053.8 850.1,1052.7 850.4,1054.6 850.6,1055.6 850.8,1052.8 851.0,1055.5 851.2,1053.2 851.5,1055.0 851.7,1052.3 851.9,1054.7 852.1,1053.9 852.4,1052.7 852.6,1053.1 852.8,1052.9 853.0,1053.0 853.2,1054.1 853.5,1053.6 853.7,1051.7 853.9,1053.5 854.1,1054.1 854.3,1053.8 854.6,1055.2 854.8,1052.2 855.0,1054.0 855.2,1052.9 855.5,1052.6 855.7,1050.0 855.9,1049.1 856.1,1049.2 856.4,1048.6 856.6,1046.0 856.8,1047.1 857.0,1045.9 857.2,1045.1 857.5,1039.1 857.8,1034.3 858.0,1028.6 858.2,1023.2 858.5,1018.1 858.8,1012.9 859.0,1007.1 859.2,1001.6 859.5,996.6 859.8,990.6 860.0,985.4 860.2,979.8 860.5,977.7 860.8,978.5 861.0,980.2 861.2,976.7 861.5,976.2 861.8,974.5 862.0,979.6 862.2,985.1 862.5,989.9 862.8,994.6 863.0,1000.0 863.2,1007.7 863.5,1015.0 863.8,1022.6 864.0,1030.0 864.2,1037.7 864.5,1041.0 864.8,1044.5 865.0,1047.4 865.2,1051.2 865.5,1054.1 865.8,1056.8 866.0,1058.5 866.2,1058.1 866.4,1060.9 866.6,1061.1 866.9,1061.3 867.1,1062.5 867.3,1060.9 867.5,1064.6 867.8,1063.8 868.0,1065.5 868.2,1066.4 868.4,1063.0 868.7,1063.4 868.9,1063.6 869.1,1063.2 869.3,1061.2 869.6,1061.4 869.8,1062.8 870.0,1060.9 870.2,1058.5 870.5,1054.4 870.8,1051.6 871.0,1048.0 871.2,1046.2 871.5,1043.8 871.8,1040.1 872.0,1037.2 872.2,1035.2 872.5,1033.0 872.8,1029.7 873.0,1028.1 873.2,1027.1 873.5,1026.9 873.8,1023.4 874.0,1022.1 874.2,1025.1 874.5,1023.6 874.8,1022.0 875.0,1025.8 875.2,1027.8 875.5,1029.5 875.8,1033.3 876.0,1036.0 876.2,1038.0 876.5,1040.8 876.8,1045.4 877.0,1048.6 877.2,1052.4 877.5,1056.4 877.8,1059.9 878.0,1063.2 878.2,1063.3 878.5,1064.5 878.8,1065.6 879.0,1067.3 879.2,1068.4 879.5,1070.4 879.7,1070.9 879.9,1071.1 880.2,1070.0 880.4,1070.9 880.6,1071.5 880.8,1070.8 881.1,1072.2 881.3,1072.1 881.5,1072.5 881.7,1072.2 881.9,1071.0 882.2,1071.9 882.4,1071.0 882.6,1069.3 882.8,1069.5 883.1,1069.1 883.3,1067.5 883.5,1067.3 883.7,1065.4 883.9,1061.0 884.2,1059.2 884.4,1057.7 884.6,1055.4 884.8,1051.9 885.1,1050.6 885.3,1049.0 885.5,1045.1 885.8,1040.8 886.0,1036.7 886.2,1032.1 886.5,1028.5 886.8,1024.2 887.0,1020.3 887.2,1019.0 887.5,1014.9 887.8,1012.5 888.0,1010.1 888.2,1009.1 888.5,1002.9 888.8,1002.0 889.0,1004.6 889.2,1006.5 889.4,1009.8 889.6,1013.0 889.9,1014.8 890.1,1018.0 890.3,1020.1 890.5,1021.9 890.8,1024.8 891.0,1028.8 891.2,1033.7 891.5,1037.7 891.8,1042.4 892.0,1046.7 892.2,1050.5 892.5,1054.7 892.7,1057.4 892.9,1058.2 893.2,1061.0 893.4,1063.2 893.6,1064.4 893.8,1068.0 894.1,1068.1 894.3,1070.9 894.5,1072.2 894.7,1071.3 895.0,1073.4 895.2,1073.8 895.4,1074.8 895.7,1074.8 895.9,1074.9 896.1,1075.5 896.3,1076.2 896.6,1077.3 896.8,1077.1 897.0,1078.6 897.3,1078.8 897.5,1078.3 897.7,1079.1 898.0,1076.8 898.2,1077.9 898.4,1077.0 898.7,1077.3 898.9,1077.8 899.1,1076.7 899.3,1076.3 899.6,1077.0 899.8,1075.4 900.0,1075.1 900.3,1075.9 900.5,1075.4 900.7,1073.0 900.9,1072.9 901.2,1072.2 901.4,1070.5 901.6,1069.2 901.8,1068.4 902.1,1067.4 902.3,1065.6 902.5,1065.2 902.8,1060.1 903.0,1055.8 903.2,1051.8 903.5,1046.4 903.8,1042.1 904.0,1037.0 904.2,1032.3 904.5,1027.2 904.8,1022.5 905.0,1017.4 905.2,1013.0 905.5,1007.2 905.8,1005.5 906.0,1003.9 906.2,1002.4 906.5,1000.8 906.8,995.8 907.0,995.8 907.2,1000.6 907.5,999.4 907.8,1001.0 908.0,1001.9 908.2,1005.4 908.5,1005.8 908.8,1010.1 909.0,1013.7 909.2,1018.0 909.5,1021.4 909.8,1025.7 910.0,1030.6 910.2,1034.0 910.5,1037.6 910.8,1040.8 911.0,1045.6 911.2,1048.1 911.5,1052.0 911.8,1056.7 912.0,1059.8 912.2,1061.9 912.4,1062.1 912.7,1064.1 912.9,1064.7 913.1,1064.6 913.3,1064.5 913.6,1066.3 913.8,1067.7 914.0,1067.6 914.2,1063.6 914.5,1063.1 914.8,1061.0 915.0,1059.1 915.2,1056.8 915.5,1055.9 915.8,1053.5 916.0,1054.4 916.2,1051.9 916.5,1051.2 916.8,1051.7 917.0,1051.4 917.2,1052.6 917.5,1054.1 917.8,1056.5 918.0,1057.8 918.2,1058.7 918.5,1060.2 918.8,1062.0 919.0,1064.3 919.2,1066.5 919.5,1069.7 919.8,1071.7 920.0,1074.8 920.2,1076.1 920.5,1076.7 920.7,1077.9 920.9,1077.1 921.1,1077.1 921.4,1078.4 921.6,1081.0 921.8,1080.9 922.0,1080.9 922.3,1082.6 922.5,1082.3 922.7,1083.7 923.0,1082.7 923.2,1082.8 923.4,1083.7 923.7,1082.8 923.9,1083.6 924.1,1085.0 924.3,1084.3 924.6,1083.6 924.8,1084.3 925.0,1084.6 925.3,1084.4 925.5,1085.2 925.7,1085.4 926.0,1084.5 926.2,1084.7 926.4,1084.1 926.7,1083.7 926.9,1083.0 927.1,1083.7 927.4,1083.6 927.6,1082.3 927.8,1081.8 928.1,1082.4 928.3,1081.8 928.5,1082.2 928.8,1081.5 929.0,1080.1 929.2,1078.4 929.4,1078.6 929.7,1077.2 929.9,1075.3 930.1,1074.2 930.3,1072.9 930.6,1073.5 930.8,1071.8 931.0,1069.3 931.2,1069.4 931.5,1068.7 931.7,1068.3 931.9,1067.5 932.1,1066.4 932.4,1066.4 932.6,1065.7 932.8,1064.0 933.0,1064.5 933.2,1062.4 933.5,1061.6 933.8,1062.2 934.0,1061.1 934.2,1061.4 934.5,1061.1 934.8,1061.0 935.0,1061.0 935.2,1061.7 935.5,1061.2 935.8,1063.0 936.0,1063.5 936.2,1063.7 936.5,1065.0 936.8,1065.2 937.0,1065.8 937.2,1066.5 937.4,1068.8 937.6,1070.0 937.9,1069.5 938.1,1071.2 938.3,1072.0 938.5,1074.4 938.8,1074.6 939.0,1074.9 939.2,1077.3 939.4,1077.3 939.7,1077.9 939.9,1078.6 940.1,1079.0 940.3,1079.8 940.6,1081.0 940.8,1081.4 941.0,1081.5 941.2,1082.6 941.5,1083.8 941.7,1082.6 941.9,1082.4 942.1,1083.4 942.4,1082.9 942.6,1085.3 942.8,1084.4 943.0,1084.6 943.2,1084.7 943.5,1085.8 943.7,1084.3 943.9,1085.1 944.1,1084.4 944.3,1086.3 944.6,1085.8 944.8,1087.0 945.0,1086.1 945.2,1085.7 945.5,1086.0 945.7,1086.9 945.9,1086.0 946.1,1086.7 946.4,1086.2 946.6,1086.3 946.8,1086.4 947.0,1087.7 947.3,1086.2 947.5,1087.0 947.7,1087.4 948.0,1086.6 948.2,1086.2 948.4,1087.9 948.6,1088.1 948.9,1087.1 949.1,1086.6 949.3,1087.8 949.5,1087.4 949.8,1087.0 950.0,1087.3 950.2,1086.0 950.4,1086.8 950.7,1086.4 950.9,1086.2 951.1,1087.1 951.3,1086.8 951.5,1087.4 951.8,1084.9 952.0,1085.8 952.2,1085.6 952.4,1086.6 952.6,1086.3 952.9,1085.6 953.1,1085.5 953.3,1084.9 953.5,1084.8 953.8,1084.7 954.0,1083.0 954.2,1085.0 954.4,1083.8 954.7,1084.1 954.9,1083.0 955.1,1082.1 955.4,1081.7 955.6,1079.7 955.8,1079.6 956.1,1080.2 956.3,1078.9 956.5,1077.6 956.8,1078.0 957.0,1076.7 957.2,1077.1 957.5,1077.7 957.7,1075.6 957.9,1075.7 958.2,1075.9 958.4,1075.2 958.6,1074.9 958.8,1073.9 959.1,1073.8 959.3,1072.1 959.5,1073.1 959.8,1073.7 960.0,1071.7 960.2,1072.2 960.5,1072.6 960.7,1072.8 960.9,1072.6 961.2,1071.0 961.4,1071.1 961.6,1072.4 961.9,1070.7 962.1,1071.1 962.3,1070.1 962.6,1070.1 962.8,1068.6 963.0,1069.8 963.2,1068.5 963.5,1067.5 963.8,1065.7 964.0,1065.6 964.2,1063.4 964.5,1061.4 964.8,1058.9 965.0,1057.5 965.2,1057.7 965.5,1058.7 965.8,1058.1 966.0,1059.1 966.2,1060.3 966.5,1059.8 966.7,1061.0 967.0,1061.2 967.2,1063.8 967.4,1064.4 967.6,1065.5 967.9,1067.2 968.1,1065.8 968.3,1068.0 968.5,1069.4 968.8,1070.2 969.0,1070.9 969.2,1071.7 969.4,1071.0 969.7,1072.7 969.9,1074.2 970.1,1074.0 970.3,1074.6 970.6,1076.0 970.8,1075.0 971.0,1077.1 971.2,1078.4 971.5,1077.8 971.7,1077.9 971.9,1079.2 972.2,1079.0 972.4,1079.3 972.6,1080.3 972.8,1079.7 973.1,1081.5 973.3,1080.9 973.5,1081.7 973.8,1082.9 974.0,1081.4 974.2,1080.5 974.5,1080.1 974.8,1079.2 975.0,1078.5 975.2,1075.7 975.5,1075.6 975.7,1072.5 975.9,1072.7 976.2,1071.7 976.4,1068.9 976.6,1068.4 976.8,1067.3 977.1,1065.1 977.3,1063.4 977.5,1063.6 977.7,1061.2 978.0,1062.2 978.2,1062.5 978.4,1061.8 978.6,1062.6 978.9,1062.3 979.1,1061.3 979.3,1062.0 979.5,1061.0 979.8,1059.2 980.0,1059.7 980.2,1059.1 980.4,1057.9 980.7,1055.3 980.9,1057.4 981.1,1053.1 981.3,1052.4 981.6,1052.6 981.8,1051.3 982.0,1051.3 982.2,1048.7 982.5,1047.5 982.8,1046.3 983.0,1043.6 983.2,1041.6 983.5,1041.0 983.8,1040.9 984.0,1039.5 984.2,1040.7 984.5,1038.8 984.8,1039.8 985.0,1038.9 985.2,1039.5 985.5,1038.5 985.7,1039.7 985.9,1040.0 986.2,1042.6 986.4,1042.4 986.6,1043.9 986.8,1045.1 987.1,1044.7 987.3,1045.7 987.5,1047.4 987.8,1047.1 988.0,1043.5 988.2,1042.0 988.5,1040.6 988.8,1039.6 989.0,1036.8 989.2,1034.9 989.5,1034.1 989.8,1030.3 990.0,1029.3 990.2,1025.9 990.5,1024.8 990.8,1023.9 991.0,1019.4 991.2,1020.0 991.5,1018.6 991.8,1016.6 992.0,1015.3 992.2,1014.0 992.5,1010.4 992.8,1010.3 993.0,1009.8 993.2,1009.1 993.5,1005.9 993.8,1005.8 994.0,1005.8 994.2,1006.2 994.5,1006.3 994.8,1005.9 995.0,1005.8 995.2,1008.1 995.5,1008.0 995.8,1013.1 996.0,1019.8 996.2,1025.3 996.5,1031.6 996.8,1037.6 997.0,1042.8 997.2,1047.5 997.5,1052.3 997.8,1057.5 998.0,1062.6 998.2,1064.3 998.5,1067.8 998.8,1070.0 999.0,1072.6 999.2,1075.0 999.5,1077.9 999.8,1079.1 1000.0,1079.5 1000.2,1080.5 1000.5,1080.5 1000.8,1082.3 1001.0,1083.0 1001.2,1085.4 1001.5,1084.6 1001.7,1085.1 1001.9,1086.0 1002.2,1086.5 1002.4,1086.8 1002.6,1085.9 1002.8,1086.7 1003.1,1087.4 1003.3,1086.6 1003.5,1087.1 1003.8,1086.8 1004.0,1086.9 1004.2,1087.4 1004.4,1086.9 1004.7,1086.4 1004.9,1086.0 1005.1,1087.0 1005.3,1086.3 1005.6,1085.0 1005.8,1086.7 1006.0,1085.0 1006.2,1084.9 1006.5,1083.8 1006.7,1082.8 1006.9,1082.6 1007.2,1080.5 1007.4,1080.5 1007.6,1079.3 1007.8,1079.7 1008.1,1078.0 1008.3,1077.1 1008.5,1076.2 1008.8,1075.4 1009.0,1074.3 1009.2,1071.9 1009.4,1073.1 1009.7,1071.9 1009.9,1071.8 1010.1,1070.8 1010.3,1069.5 1010.6,1068.5 1010.8,1067.7 1011.0,1067.9 1011.2,1066.9 1011.5,1067.5 1011.8,1069.0 1012.0,1070.7 1012.2,1071.1 1012.5,1072.6 1012.8,1073.4 1013.0,1073.4 1013.2,1076.2 1013.4,1077.3 1013.7,1078.8 1013.9,1080.2 1014.1,1080.1 1014.3,1082.0 1014.6,1082.9 1014.8,1083.9 1015.0,1085.5 1015.2,1085.9 1015.5,1085.2 1015.7,1087.2 1015.9,1086.7 1016.1,1086.9 1016.4,1087.3 1016.6,1088.1 1016.8,1088.0 1017.0,1089.7 1017.3,1089.8 1017.5,1089.5 1017.7,1090.3 1018.0,1089.9 1018.2,1089.7 1018.4,1090.1 1018.7,1089.5 1018.9,1089.3 1019.1,1089.6 1019.3,1088.3 1019.6,1088.5 1019.8,1089.3 1020.0,1089.5 1020.3,1087.9 1020.5,1088.8 1020.7,1087.9 1021.0,1087.7 1021.2,1087.7 1021.4,1087.8 1021.7,1087.5 1021.9,1086.6 1022.1,1086.0 1022.4,1085.3 1022.6,1083.7 1022.8,1084.5 1023.1,1083.1 1023.3,1082.7 1023.5,1083.0 1023.8,1081.6 1024.0,1082.4 1024.2,1080.6 1024.4,1079.4 1024.6,1078.4 1024.9,1077.1 1025.1,1075.9 1025.3,1075.2 1025.5,1073.2 1025.8,1072.7 1026.0,1071.2 1026.2,1070.2 1026.5,1067.4 1026.8,1067.0 1027.0,1065.3 1027.2,1064.4 1027.5,1062.9 1027.8,1062.1 1028.0,1061.8 1028.2,1061.3 1028.5,1061.5 1028.8,1060.2 1029.0,1059.5 1029.2,1060.7 1029.5,1060.4 1029.8,1061.7 1030.0,1063.2 1030.2,1064.2 1030.5,1063.5 1030.8,1065.0 1031.0,1066.6 1031.2,1068.6 1031.5,1070.0 1031.8,1071.9 1032.0,1073.9 1032.2,1075.8 1032.5,1078.1 1032.7,1077.8 1032.9,1078.6 1033.2,1080.5 1033.4,1081.1 1033.6,1081.6 1033.8,1081.8 1034.1,1083.9 1034.3,1083.5 1034.5,1085.6 1034.8,1084.6 1035.0,1083.8 1035.2,1083.3 1035.5,1083.3 1035.8,1082.3 1036.0,1080.8 1036.2,1080.8 1036.5,1078.7 1036.8,1079.0 1037.0,1078.1 1037.2,1076.9 1037.5,1074.1 1037.8,1075.1 1038.0,1073.7 1038.2,1072.1 1038.5,1070.6 1038.8,1071.0 1039.0,1072.0 1039.2,1072.4 1039.5,1070.4 1039.8,1070.1 1040.0,1071.3 1040.2,1073.8 1040.5,1073.2 1040.8,1072.9 1041.0,1073.0 1041.2,1075.4 1041.5,1076.6 1041.7,1076.9 1041.9,1078.2 1042.1,1079.5 1042.4,1080.3 1042.6,1081.3 1042.8,1082.4 1043.0,1083.5 1043.2,1085.7 1043.5,1085.5 1043.7,1086.1 1043.9,1086.8 1044.2,1084.7 1044.4,1086.2 1044.6,1087.0 1044.8,1086.6 1045.0,1086.7 1045.3,1087.5 1045.5,1087.2 1045.7,1086.5 1046.0,1086.2 1046.2,1085.8 1046.4,1085.2 1046.6,1085.2 1046.9,1084.1 1047.1,1083.2 1047.3,1084.4 1047.5,1082.2 1047.8,1081.7 1048.0,1081.2 1048.2,1079.3 1048.4,1077.2 1048.7,1076.8 1048.9,1076.1 1049.1,1072.4 1049.3,1071.6 1049.6,1070.8 1049.8,1068.5 1050.0,1067.9 1050.2,1066.7 1050.5,1065.3 1050.8,1065.2 1051.0,1064.3 1051.2,1064.4 1051.5,1063.2 1051.8,1063.6 1052.0,1064.8 1052.2,1066.0 1052.5,1065.8 1052.8,1066.4 1053.0,1066.5 1053.2,1067.7 1053.5,1068.8 1053.8,1069.5 1054.0,1071.0 1054.2,1071.7 1054.5,1074.9 1054.8,1076.2 1055.0,1078.2 1055.2,1078.6 1055.4,1079.9 1055.7,1079.6 1055.9,1080.3 1056.1,1082.0 1056.3,1083.1 1056.6,1084.5 1056.8,1085.2 1057.0,1086.2 1057.2,1086.5 1057.5,1086.8 1057.7,1087.0 1057.9,1087.3 1058.1,1087.1 1058.4,1087.6 1058.6,1087.0 1058.8,1087.5 1059.0,1088.1 1059.3,1088.7 1059.5,1088.3 1059.7,1087.6 1060.0,1088.6 1060.2,1087.3 1060.4,1086.4 1060.6,1086.5 1060.9,1086.0 1061.1,1085.0 1061.3,1085.8 1061.5,1086.6 1061.8,1084.9 1062.0,1084.5 1062.2,1084.6 1062.5,1083.0 1062.7,1081.9 1062.9,1081.8 1063.1,1079.3 1063.3,1079.0 1063.6,1078.3 1063.8,1077.1 1064.0,1075.2 1064.2,1074.4 1064.5,1074.7 1064.8,1072.1 1065.0,1070.5 1065.2,1070.0 1065.5,1066.6 1065.8,1066.4 1066.0,1063.7 1066.2,1065.7 1066.5,1063.7 1066.8,1064.2 1067.0,1063.6 1067.2,1063.5 1067.5,1064.5 1067.8,1065.6 1068.0,1066.3 1068.2,1067.0 1068.5,1068.3 1068.8,1068.9 1069.0,1069.6 1069.2,1071.5 1069.4,1072.8 1069.7,1072.4 1069.9,1073.8 1070.1,1075.1 1070.3,1076.8 1070.6,1076.9 1070.8,1079.8 1071.0,1080.0 1071.2,1080.5 1071.4,1081.4 1071.7,1080.8 1071.9,1081.9 1072.1,1082.3 1072.3,1083.2 1072.6,1082.3 1072.8,1084.1 1073.0,1084.1 1073.2,1083.3 1073.5,1083.1 1073.8,1081.7 1074.0,1081.1 1074.2,1081.1 1074.5,1079.8 1074.8,1080.4 1075.0,1080.4 1075.2,1079.5 1075.5,1079.2 1075.8,1078.5 1076.0,1078.1 1076.2,1079.4 1076.5,1078.4 1076.8,1079.5 1077.0,1080.2 1077.2,1080.0 1077.5,1080.6 1077.8,1081.1 1078.0,1083.2 1078.2,1083.0 1078.4,1084.3 1078.7,1085.4 1078.9,1085.6 1079.1,1086.5 1079.3,1086.3 1079.6,1086.9 1079.8,1088.8 1080.0,1089.5 1080.2,1088.4 1080.5,1089.8 1080.7,1089.6 1080.9,1090.1 1081.1,1090.4 1081.4,1091.1 1081.6,1090.0 1081.8,1090.6 1082.0,1091.4 1082.3,1090.9 1082.5,1091.5 1082.7,1090.9 1083.0,1089.7 1083.2,1089.9 1083.4,1090.4 1083.6,1089.3 1083.9,1088.4 1084.1,1088.6 1084.3,1088.6 1084.5,1088.5 1084.8,1088.0 1085.0,1087.8 1085.2,1086.6 1085.5,1086.5 1085.7,1086.1 1085.9,1085.9 1086.1,1086.0 1086.4,1086.2 1086.6,1085.0 1086.8,1085.4 1087.0,1085.1 1087.3,1083.4 1087.5,1083.3 1087.7,1083.8 1088.0,1082.9 1088.2,1084.8 1088.4,1082.6 1088.6,1082.9 1088.9,1084.1 1089.1,1083.2 1089.3,1084.0 1089.5,1083.0 1089.8,1084.1 1090.0,1083.2 1090.2,1084.3 1090.5,1084.8 1090.7,1083.8 1090.9,1084.5 1091.1,1084.4 1091.4,1085.1 1091.6,1086.6 1091.8,1086.4 1092.0,1087.3 1092.3,1087.9 1092.5,1088.1 1092.7,1088.0 1093.0,1087.5 1093.2,1087.6 1093.4,1088.1 1093.6,1088.5 1093.9,1088.8 1094.1,1088.5 1094.3,1088.3 1094.5,1088.5 1094.8,1089.5 1095.0,1088.9 1095.2,1089.7 1095.5,1088.1 1095.7,1088.8 1095.9,1088.3 1096.1,1088.5 1096.4,1087.5 1096.6,1088.0 1096.8,1087.6 1097.0,1087.4 1097.3,1086.8 1097.5,1086.5 1097.7,1087.3 1098.0,1088.1 1098.2,1088.2 1098.4,1088.4 1098.6,1088.7 1098.9,1088.1 1099.1,1089.6 1099.3,1089.3 1099.5,1089.1 1099.8,1089.5 1100.0,1090.5 1100.2,1090.3 1100.5,1089.5 1100.7,1091.7 1100.9,1090.0 1101.2,1091.9 1101.4,1091.6 1101.6,1090.9 1101.8,1092.2 1102.1,1092.4 1102.3,1092.5 1102.5,1092.5 1102.8,1092.5 1103.0,1092.6 1103.2,1092.1 1103.5,1092.3 1103.7,1092.6 1103.9,1091.8 1104.2,1092.6 1104.4,1090.7 1104.6,1091.3 1104.9,1090.3 1105.1,1090.0 1105.3,1090.9 1105.6,1090.4 1105.8,1090.1 1106.0,1089.7 1106.2,1089.9 1106.5,1088.7 1106.7,1089.0 1106.9,1088.4 1107.2,1087.5 1107.4,1088.0 1107.6,1086.3 1107.8,1087.1 1108.1,1086.5 1108.3,1086.2 1108.5,1085.6 1108.8,1085.5 1109.0,1084.5 1109.2,1083.7 1109.4,1084.2 1109.7,1083.2 1109.9,1083.1 1110.1,1083.0 1110.3,1082.1 1110.6,1082.9 1110.8,1081.1 1111.0,1082.3 1111.2,1081.3 1111.5,1082.0 1111.7,1081.4 1111.9,1080.9 1112.2,1080.4 1112.4,1080.0 1112.6,1078.8 1112.8,1079.0 1113.1,1078.5 1113.3,1078.4 1113.5,1078.5 1113.8,1077.8 1114.0,1078.3 1114.2,1078.0 1114.4,1077.8 1114.7,1078.2 1114.9,1078.2 1115.1,1077.0 1115.3,1077.6 1115.6,1079.3 1115.8,1077.7 1116.0,1077.9 1116.2,1077.0 1116.5,1078.6 1116.7,1079.4 1116.9,1079.2 1117.2,1079.3 1117.4,1079.8 1117.6,1079.1 1117.8,1081.1 1118.1,1081.0 1118.3,1081.8 1118.5,1082.3 1118.8,1082.6 1119.0,1084.2 1119.2,1084.0 1119.4,1083.5 1119.7,1084.7 1119.9,1085.2 1120.1,1085.3 1120.3,1086.5 1120.6,1086.0 1120.8,1085.7 1121.0,1086.5 1121.2,1087.7 1121.5,1087.1 1121.7,1087.8 1121.9,1087.1 1122.2,1088.2 1122.4,1088.0 1122.6,1087.7 1122.8,1088.0 1123.1,1088.3 1123.3,1089.0 1123.5,1088.8 1123.8,1088.7 1124.0,1088.4 1124.2,1088.3 1124.4,1087.7 1124.7,1087.9 1124.9,1086.1 1125.1,1086.5 1125.3,1085.7 1125.6,1084.8 1125.8,1085.0 1126.0,1084.7 1126.2,1084.3 1126.5,1083.2 1126.7,1081.6 1126.9,1081.4 1127.1,1080.7 1127.4,1080.6 1127.6,1078.8 1127.8,1078.0 1128.0,1078.1 1128.2,1076.3 1128.5,1075.3 1128.8,1075.0 1129.0,1074.6 1129.2,1073.5 1129.5,1071.6 1129.8,1071.7 1130.0,1072.0 1130.2,1070.8 1130.5,1071.7 1130.8,1071.2 1131.0,1070.8 1131.2,1071.5 1131.5,1071.2 1131.8,1070.8 1132.0,1070.9 1132.2,1071.6 1132.5,1073.9 1132.8,1074.3 1133.0,1075.8 1133.2,1076.2 1133.5,1078.0 1133.8,1079.2 1134.0,1080.9 1134.2,1083.3 1134.5,1084.7 1134.8,1085.2 1135.0,1087.8 1135.2,1089.1 1135.5,1088.8 1135.7,1088.4 1135.9,1089.7 1136.1,1089.9 1136.4,1090.1 1136.6,1091.2 1136.8,1091.8 1137.0,1091.3 1137.3,1092.1 1137.5,1092.3 1137.7,1092.6 1138.0,1093.4 1138.2,1092.4 1138.4,1093.0 1138.6,1092.9 1138.9,1092.8 1139.1,1092.3 1139.3,1093.2 1139.5,1092.4 1139.8,1093.3 1140.0,1093.0 1140.2,1093.0 1140.5,1092.7 1140.7,1092.4 1140.9,1092.2 1141.1,1092.7 1141.4,1092.6 1141.6,1092.7 1141.8,1092.3 1142.0,1092.8 1142.3,1092.4 1142.5,1092.3 1142.7,1092.2 1143.0,1092.3 1143.2,1092.7 1143.4,1092.0 1143.6,1091.8 1143.9,1092.6 1144.1,1092.6 1144.3,1092.5 1144.5,1092.6 1144.8,1091.9 1145.0,1092.0 1145.2,1092.3 1145.5,1092.1 1145.7,1091.2 1145.9,1091.8 1146.1,1090.4 1146.4,1091.8 1146.6,1090.4 1146.8,1090.4 1147.0,1089.9 1147.3,1089.6 1147.5,1089.9 1147.7,1088.6 1148.0,1088.9 1148.2,1088.7 1148.4,1088.0 1148.6,1087.7 1148.9,1086.5 1149.1,1085.8 1149.3,1085.7 1149.5,1086.5 1149.8,1085.6 1150.0,1084.0 1150.2,1085.5 1150.5,1084.4 1150.7,1084.1 1150.9,1083.6 1151.1,1083.3 1151.4,1081.0 1151.6,1081.6 1151.8,1080.6 1152.0,1081.7 1152.3,1080.4 1152.5,1079.5 1152.7,1079.2 1153.0,1077.8 1153.2,1079.0 1153.4,1078.2 1153.6,1079.3 1153.9,1078.7 1154.1,1078.0 1154.3,1077.6 1154.5,1078.4 1154.8,1077.3 1155.0,1077.2 1155.2,1078.1 1155.4,1077.7 1155.7,1077.6 1155.9,1078.2 1156.1,1079.2 1156.3,1077.3 1156.6,1078.9 1156.8,1079.1 1157.0,1078.6 1157.2,1080.4 1157.5,1080.6 1157.8,1081.2 1158.0,1081.0 1158.2,1082.7 1158.5,1082.3 1158.8,1084.1 1159.0,1085.5 1159.2,1084.3 1159.4,1086.2 1159.7,1085.3 1159.9,1086.4 1160.1,1087.3 1160.3,1086.7 1160.6,1088.1 1160.8,1088.1 1161.0,1088.7 1161.2,1090.0 1161.5,1089.6 1161.7,1090.0 1161.9,1090.0 1162.2,1090.3 1162.4,1091.1 1162.6,1090.5 1162.8,1090.5 1163.1,1090.8 1163.3,1091.3 1163.5,1091.3 1163.8,1090.2 1164.0,1091.3 1164.2,1091.6 1164.4,1092.7 1164.6,1091.1 1164.9,1091.4 1165.1,1091.0 1165.3,1091.5 1165.5,1090.7 1165.7,1091.2 1166.0,1091.7 1166.2,1091.0 1166.4,1091.7 1166.6,1091.5 1166.8,1092.5 1167.1,1092.7 1167.3,1093.0 1167.5,1092.1 1167.7,1092.3 1167.9,1093.1 1168.2,1091.6 1168.4,1092.8 1168.6,1091.4 1168.8,1092.4 1169.0,1091.0 1169.3,1091.6 1169.5,1091.7 1169.7,1091.6 1169.9,1090.7 1170.2,1091.7 1170.4,1091.5 1170.6,1092.4 1170.8,1091.9 1171.0,1090.5 1171.3,1091.6 1171.5,1092.0 1171.7,1091.4 1171.9,1091.1 1172.1,1090.7 1172.4,1091.2 1172.6,1090.9 1172.8,1091.2 1173.0,1091.1 1173.2,1091.9 1173.5,1090.7 1173.7,1091.3 1173.9,1090.5 1174.2,1091.2 1174.4,1091.5 1174.6,1090.6 1174.9,1090.3 1175.1,1090.8 1175.3,1090.8 1175.6,1090.4 1175.8,1090.8 1176.0,1090.6 1176.2,1090.9 1176.5,1089.9 1176.7,1091.1 1176.9,1091.5 1177.1,1090.6 1177.4,1092.1 1177.6,1091.3 1177.8,1090.7 1178.0,1090.9 1178.2,1091.2 1178.5,1091.4 1178.7,1091.7 1178.9,1092.1 1179.1,1091.9 1179.3,1092.0 1179.6,1091.8 1179.8,1091.4 1180.0,1092.2 1180.2,1092.0 1180.4,1093.1 1180.7,1091.5 1180.9,1093.4 1181.1,1091.6 1181.3,1092.9 1181.5,1093.0 1181.8,1092.6 1182.0,1092.7 1182.2,1093.7 1182.4,1092.8 1182.6,1093.4 1182.9,1093.5 1183.1,1093.9 1183.3,1093.0 1183.5,1094.3 1183.8,1093.7 1184.0,1094.2 1184.2,1092.9 1184.4,1094.1 1184.6,1093.4 1184.9,1093.8 1185.1,1093.0 1185.3,1093.7 1185.5,1093.2 1185.7,1092.2 1186.0,1094.3 1186.2,1092.6 1186.4,1093.1 1186.6,1092.7 1186.8,1092.5 1187.1,1092.5 1187.3,1093.0 1187.5,1093.0 1187.7,1092.9 1187.9,1091.6 1188.2,1092.8 1188.4,1091.6 1188.6,1093.5 1188.8,1092.5 1189.0,1092.9 1189.3,1092.3 1189.5,1092.3 1189.7,1091.9 1189.9,1093.2 1190.1,1092.0 1190.4,1092.7 1190.6,1091.7 1190.8,1092.0 1191.0,1091.8 1191.2,1092.0 1191.5,1091.8 1191.7,1092.3 1191.9,1092.3 1192.1,1091.2 1192.4,1091.8 1192.6,1091.4 1192.8,1092.6 1193.0,1091.4 1193.2,1092.3 1193.5,1092.1 1193.7,1092.0 1193.9,1091.0 1194.1,1092.9 1194.3,1091.9 1194.6,1092.4 1194.8,1092.5 1195.0,1091.5 1195.2,1091.3 1195.5,1092.5 1195.7,1092.4 1195.9,1090.8 1196.2,1091.0 1196.4,1091.3 1196.6,1090.6 1196.8,1091.2 1197.1,1090.6 1197.3,1090.1 1197.5,1090.3 1197.8,1089.5 1198.0,1090.2 1198.2,1088.4 1198.4,1088.7 1198.7,1088.5 1198.9,1085.4 1199.1,1086.6 1199.3,1084.0 1199.6,1084.0 1199.8,1084.4 1200.0,1083.2 1200.2,1081.1 1200.5,1079.2 1200.8,1077.3 1201.0,1075.7 1201.2,1073.5 1201.5,1071.6 1201.8,1069.8 1202.0,1065.3 1202.2,1060.0 1202.5,1055.4 1202.8,1050.2 1203.0,1045.1 1203.2,1039.8 1203.5,1034.5 1203.8,1029.0 1204.0,1023.5 1204.2,1017.9 1204.5,1012.0 1204.8,1008.3 1205.0,1004.4 1205.2,1000.3 1205.5,996.4 1205.8,991.7 1206.0,990.8 1206.2,993.3 1206.5,989.5 1206.8,989.5 1207.0,989.5 1207.2,989.6 1207.5,990.5 1207.8,990.7 1208.0,994.6 1208.2,992.2 1208.5,997.9 1208.8,1002.4 1209.0,1007.6 1209.2,1013.2 1209.5,1017.5 1209.8,1025.0 1210.0,1032.2 1210.2,1040.0 1210.5,1047.5 1210.8,1051.8 1211.0,1056.1 1211.2,1060.0 1211.5,1064.3 1211.8,1068.9 1212.0,1069.8 1212.2,1071.3 1212.4,1073.0 1212.6,1073.8 1212.9,1075.1 1213.1,1075.6 1213.3,1077.5 1213.5,1077.7 1213.8,1081.1 1214.0,1080.1 1214.2,1082.2 1214.4,1081.4 1214.7,1082.2 1214.9,1083.6 1215.1,1083.6 1215.3,1084.1 1215.6,1084.4 1215.8,1085.0 1216.0,1085.3 1216.2,1085.8 1216.5,1085.4 1216.7,1086.3 1216.9,1086.1 1217.1,1087.3 1217.4,1087.8 1217.6,1087.8 1217.8,1086.1 1218.0,1086.7 1218.2,1086.9 1218.5,1086.2 1218.7,1087.9 1218.9,1087.5 1219.1,1087.4 1219.3,1088.4 1219.6,1087.6 1219.8,1087.3 1220.0,1087.7 1220.2,1087.0 1220.5,1087.3 1220.7,1086.1 1220.9,1086.9 1221.2,1086.2 1221.4,1085.9 1221.6,1085.7 1221.8,1085.6 1222.1,1084.5 1222.3,1085.6 1222.5,1084.9 1222.8,1085.8 1223.0,1084.5 1223.2,1084.8 1223.5,1084.1 1223.7,1083.8 1223.9,1082.9 1224.1,1083.1 1224.4,1082.8 1224.6,1081.5 1224.8,1082.5 1225.0,1082.1 1225.3,1082.4 1225.5,1082.6 1225.7,1081.8 1226.0,1082.6 1226.2,1082.6 1226.4,1082.2 1226.6,1081.5 1226.9,1081.7 1227.1,1082.5 1227.3,1082.4 1227.5,1082.1 1227.8,1080.3 1228.0,1079.9 1228.2,1082.6 1228.5,1082.3 1228.7,1083.0 1228.9,1082.8 1229.1,1082.6 1229.4,1083.3 1229.6,1083.3 1229.8,1084.5 1230.0,1084.4 1230.3,1083.7 1230.5,1084.1 1230.7,1085.6 1230.9,1086.0 1231.2,1086.1 1231.4,1086.6 1231.6,1086.2 1231.8,1086.9 1232.1,1088.1 1232.3,1087.3 1232.5,1089.0 1232.7,1089.2 1233.0,1089.4 1233.2,1089.6 1233.4,1090.3 1233.6,1089.5 1233.9,1089.0 1234.1,1088.7 1234.3,1088.5 1234.5,1089.9 1234.8,1090.4 1235.0,1089.2 1235.2,1089.9 1235.5,1089.3 1235.7,1089.3 1235.9,1089.4 1236.2,1089.1 1236.4,1088.2 1236.6,1089.1 1236.8,1088.4 1237.1,1087.3 1237.3,1088.5 1237.5,1088.8 1237.8,1087.5 1238.0,1088.4 1238.2,1086.6 1238.5,1087.3 1238.7,1088.1 1238.9,1088.1 1239.1,1087.6 1239.4,1087.8 1239.6,1087.0 1239.8,1087.6 1240.0,1087.7 1240.3,1087.6 1240.5,1087.2 1240.7,1087.3 1241.0,1086.8 1241.2,1086.7 1241.4,1085.2 1241.7,1086.2 1241.9,1085.1 1242.1,1085.2 1242.4,1085.2 1242.6,1085.1 1242.8,1084.0 1243.1,1084.2 1243.3,1084.4 1243.5,1083.8 1243.8,1083.8 1244.0,1083.9 1244.2,1083.9 1244.4,1083.4 1244.6,1083.8 1244.9,1084.0 1245.1,1083.0 1245.3,1084.1 1245.5,1083.1 1245.7,1083.9 1246.0,1084.0 1246.2,1084.0 1246.4,1082.9 1246.6,1083.1 1246.8,1082.9 1247.1,1083.9 1247.3,1083.6 1247.5,1082.5 1247.7,1084.0 1247.9,1084.3 1248.2,1083.3 1248.4,1083.5 1248.6,1083.8 1248.8,1083.0 1249.0,1083.4 1249.3,1084.0 1249.5,1083.5 1249.7,1083.7 1249.9,1083.8 1250.1,1084.7 1250.4,1083.9 1250.6,1083.9 1250.8,1083.5 1251.0,1084.5 1251.2,1083.8 1251.5,1083.8 1251.7,1084.5 1251.9,1084.6 1252.2,1083.2 1252.4,1083.6 1252.6,1084.5 1252.9,1083.5 1253.1,1084.7 1253.3,1083.7 1253.6,1084.9 1253.8,1083.2 1254.0,1082.7 1254.3,1082.9 1254.5,1084.9 1254.7,1082.9 1255.0,1082.5 1255.2,1081.9 1255.4,1081.3 1255.6,1081.4 1255.8,1080.9 1256.1,1079.9 1256.3,1079.5 1256.5,1080.1 1256.8,1079.4 1257.0,1078.2 1257.2,1077.1 1257.5,1074.9 1257.8,1074.4 1258.0,1073.6 1258.2,1070.7 1258.5,1071.2 1258.8,1067.4 1259.0,1066.7 1259.2,1066.0 1259.5,1065.2 1259.8,1064.2 1260.0,1063.4 1260.2,1064.3 1260.5,1063.0 1260.8,1063.1 1261.0,1062.3 1261.2,1062.0 1261.5,1062.9 1261.8,1063.0 1262.0,1064.8 1262.2,1064.7 1262.5,1063.9 1262.8,1066.3 1263.0,1065.4 1263.2,1066.6 1263.4,1066.7 1263.7,1067.4 1263.9,1068.1 1264.1,1068.2 1264.3,1069.1 1264.6,1070.0 1264.8,1071.2 1265.0,1071.8 1265.2,1072.6 1265.5,1070.4 1265.7,1071.4 1265.9,1072.6 1266.1,1071.1 1266.4,1071.8 1266.6,1072.6 1266.8,1073.2 1267.0,1072.7 1267.3,1072.6 1267.5,1072.4 1267.7,1072.7 1268.0,1072.0 1268.2,1071.9 1268.4,1071.0 1268.6,1071.1 1268.9,1070.3 1269.1,1069.9 1269.3,1069.8 1269.5,1069.5 1269.8,1069.3 1270.0,1069.1 1270.2,1067.7 1270.4,1068.2 1270.7,1067.4 1270.9,1067.5 1271.1,1063.9 1271.3,1063.8 1271.6,1063.4 1271.8,1062.7 1272.0,1062.6 1272.2,1061.3 1272.5,1060.9 1272.8,1061.5 1273.0,1060.2 1273.2,1058.6 1273.5,1060.0 1273.8,1060.5 1274.0,1059.2 1274.2,1057.8 1274.4,1058.6 1274.6,1057.1 1274.9,1056.4 1275.1,1056.5 1275.3,1056.9 1275.5,1055.5 1275.8,1054.8 1276.0,1052.6 1276.2,1052.7 1276.5,1050.4 1276.8,1049.9 1277.0,1047.6 1277.2,1046.8 1277.5,1045.4 1277.8,1044.1 1278.0,1042.0 1278.2,1042.6 1278.5,1040.6 1278.8,1037.9 1279.0,1035.6 1279.2,1036.1 1279.5,1034.5 1279.8,1035.0 1280.0,1035.1 1280.2,1033.5 1280.5,1034.0 1280.8,1033.2 1281.0,1034.1 1281.2,1033.7 1281.5,1034.4 1281.8,1034.4 1282.0,1033.3 1282.2,1035.5 1282.5,1037.9 1282.8,1038.9 1283.0,1041.8 1283.2,1041.2 1283.5,1043.5 1283.8,1043.8 1284.0,1045.3 1284.2,1046.8 1284.5,1049.2 1284.7,1050.7 1284.9,1049.7 1285.1,1053.1 1285.4,1054.5 1285.6,1055.7 1285.8,1055.3 1286.0,1057.7 1286.2,1059.0 1286.5,1058.4 1286.7,1059.1 1286.9,1062.3 1287.2,1060.7 1287.4,1061.5 1287.6,1061.0 1287.8,1062.6 1288.1,1064.7 1288.3,1064.6 1288.5,1064.3 1288.8,1065.5 1289.0,1066.1 1289.2,1066.7 1289.4,1065.9 1289.7,1067.2 1289.9,1066.9 1290.1,1067.3 1290.3,1067.5 1290.6,1067.9 1290.8,1069.1 1291.0,1067.9 1291.2,1069.7 1291.5,1071.3 1291.7,1069.2 1291.9,1069.7 1292.2,1070.0 1292.4,1071.2 1292.6,1069.3 1292.9,1070.8 1293.1,1070.4 1293.3,1072.0 1293.6,1070.6 1293.8,1072.2 1294.0,1070.4 1294.3,1071.4 1294.5,1070.5 1294.7,1070.6 1295.0,1069.8 1295.2,1070.1 1295.4,1071.2 1295.7,1069.5 1295.9,1071.2 1296.1,1070.4 1296.3,1069.2 1296.6,1068.7 1296.8,1068.6 1297.0,1067.6 1297.3,1068.2 1297.5,1067.6 1297.7,1065.3 1297.9,1065.9 1298.2,1065.4 1298.4,1064.2 1298.6,1063.6 1298.8,1062.5 1299.1,1061.3 1299.3,1061.6 1299.5,1061.1 1299.8,1059.1 1300.0,1059.4 1300.2,1057.2 1300.5,1058.4 1300.8,1056.2 1301.0,1056.2 1301.2,1056.3 1301.5,1055.0 1301.8,1055.3 1302.0,1055.9 1302.2,1054.5 1302.5,1055.1 1302.8,1055.5 1303.0,1054.5 1303.2,1055.4 1303.5,1055.3 1303.8,1056.3 1304.0,1057.2 1304.2,1058.1 1304.5,1059.3 1304.8,1058.8 1305.0,1061.2 1305.2,1062.7 1305.5,1064.9 1305.8,1064.0 1306.0,1065.6 1306.2,1068.1 1306.5,1068.5 1306.7,1070.2 1306.9,1070.4 1307.1,1071.0 1307.4,1072.3 1307.6,1074.2 1307.8,1074.8 1308.0,1075.4 1308.2,1076.4 1308.5,1077.5 1308.7,1077.8 1308.9,1078.1 1309.2,1079.0 1309.4,1079.2 1309.6,1079.0 1309.8,1080.8 1310.1,1081.5 1310.3,1082.2 1310.5,1081.9 1310.8,1081.8 1311.0,1082.9 1311.2,1082.6 1311.4,1082.0 1311.7,1083.4 1311.9,1083.0 1312.1,1083.7 1312.4,1083.6 1312.6,1084.5 1312.8,1084.7 1313.1,1084.7 1313.3,1085.3 1313.5,1084.5 1313.8,1086.3 1314.0,1084.1 1314.2,1085.6 1314.4,1085.8 1314.7,1085.1 1314.9,1085.5 1315.1,1084.9 1315.4,1085.4 1315.6,1085.9 1315.8,1085.1 1316.1,1084.8 1316.3,1085.8 1316.5,1085.6 1316.8,1085.6 1317.0,1086.2 1317.2,1085.4 1317.5,1086.6 1317.7,1086.5 1317.9,1085.7 1318.2,1085.3 1318.4,1085.4 1318.6,1085.3 1318.8,1084.7 1319.1,1084.7 1319.3,1085.1 1319.5,1084.3 1319.8,1084.3 1320.0,1084.3 1320.2,1083.8 1320.5,1084.3 1320.7,1083.3 1320.9,1084.4 1321.2,1084.1 1321.4,1083.6 1321.6,1083.9 1321.8,1083.9 1322.1,1082.9 1322.3,1082.9 1322.5,1082.5 1322.8,1082.5 1323.0,1082.3 1323.2,1082.5 1323.5,1082.6 1323.7,1083.5 1323.9,1082.3 1324.2,1082.6 1324.4,1081.8 1324.6,1082.8 1324.9,1081.9 1325.1,1081.6 1325.3,1081.5 1325.6,1081.5 1325.8,1081.2 1326.0,1081.4 1326.2,1082.3 1326.5,1081.0 1326.7,1080.1 1326.9,1079.1 1327.2,1079.8 1327.4,1079.0 1327.6,1078.8 1327.8,1079.0 1328.1,1078.7 1328.3,1078.5 1328.5,1078.5 1328.8,1076.9 1329.0,1076.4 1329.2,1075.6 1329.4,1074.8 1329.6,1074.3 1329.9,1073.5 1330.1,1073.8 1330.3,1072.0 1330.5,1073.4 1330.8,1069.9 1331.0,1069.7 1331.2,1065.9 1331.5,1064.5 1331.8,1061.8 1332.0,1060.5 1332.2,1058.8 1332.5,1056.0 1332.8,1053.1 1333.0,1050.1 1333.2,1047.5 1333.5,1044.8 1333.8,1042.2 1334.0,1040.0 1334.2,1038.9 1334.5,1035.6 1334.8,1032.4 1335.0,1032.1 1335.2,1031.4 1335.5,1027.7 1335.8,1028.9 1336.0,1027.3 1336.2,1027.4 1336.5,1028.0 1336.8,1027.7 1337.0,1027.2 1337.2,1027.4 1337.5,1028.0 1337.8,1027.5 1338.0,1027.8 1338.2,1027.3 1338.5,1028.3 1338.8,1031.0 1339.0,1031.1 1339.2,1032.4 1339.5,1034.7 1339.8,1037.7 1340.0,1040.6 1340.2,1043.1 1340.5,1046.8 1340.8,1049.0 1341.0,1051.9 1341.2,1056.3 1341.5,1057.8 1341.8,1061.8 1342.0,1064.7 1342.2,1067.5 1342.5,1067.2 1342.8,1068.5 1343.0,1069.2 1343.2,1071.0 1343.5,1068.1 1343.8,1067.6 1344.0,1064.3 1344.2,1064.4 1344.5,1063.3 1344.8,1061.5 1345.0,1059.7 1345.2,1056.2 1345.5,1056.1 1345.8,1054.2 1346.0,1054.0 1346.2,1051.7 1346.5,1051.4 1346.8,1051.5 1347.0,1050.5 1347.2,1048.5 1347.5,1048.6 1347.8,1047.1 1348.0,1049.5 1348.2,1048.3 1348.5,1047.5 1348.8,1049.0 1349.0,1048.3 1349.2,1048.4 1349.5,1049.8 1349.8,1047.7 1350.0,1048.9 1350.2,1050.8 1350.5,1051.4 1350.8,1053.2 1351.0,1052.7 1351.2,1054.1 1351.5,1056.1 1351.8,1054.8 1352.0,1055.8 1352.2,1057.5 1352.5,1058.9 1352.8,1059.3 1353.0,1061.4 1353.2,1061.6 1353.4,1064.0 1353.7,1064.5 1353.9,1065.6 1354.1,1066.2 1354.3,1067.2 1354.6,1066.9 1354.8,1068.8 1355.0,1068.8 1355.2,1071.4 1355.4,1070.3 1355.7,1071.0 1355.9,1071.9 1356.1,1074.2 1356.3,1072.6 1356.6,1074.9 1356.8,1074.5 1357.0,1076.6 1357.2,1075.0 1357.5,1075.0 1357.8,1075.5 1358.0,1075.3 1358.2,1075.4 1358.5,1076.5 1358.8,1075.9 1359.0,1075.3 1359.2,1073.6 1359.5,1072.3 1359.8,1071.3 1360.0,1069.4 1360.2,1066.0 1360.5,1065.5 1360.8,1060.7 1361.0,1061.3 1361.2,1059.2 1361.5,1055.4 1361.8,1056.0 1362.0,1052.2 1362.2,1053.3 1362.5,1050.9 1362.8,1049.7 1363.0,1048.6 1363.2,1048.1 1363.5,1049.0 1363.8,1048.2 1364.0,1048.1 1364.2,1048.0 1364.5,1049.2 1364.8,1050.0 1365.0,1050.6 1365.2,1053.0 1365.5,1054.4 1365.8,1054.7 1366.0,1058.2 1366.2,1060.3 1366.5,1061.3 1366.8,1064.2 1367.0,1063.4 1367.2,1067.5 1367.5,1067.7 1367.8,1070.0 1368.0,1070.8 1368.2,1074.6 1368.5,1074.4 1368.8,1076.6 1369.0,1076.2 1369.2,1077.8 1369.5,1079.2 1369.8,1079.7 1370.0,1080.3 1370.2,1082.4 1370.5,1081.6 1370.7,1082.5 1370.9,1082.4 1371.2,1082.3 1371.4,1082.8 1371.6,1082.6 1371.8,1082.4 1372.1,1082.8 1372.3,1082.4 1372.5,1082.8 1372.7,1082.7 1372.9,1081.5 1373.2,1080.9 1373.4,1079.9 1373.6,1080.5 1373.8,1079.7 1374.1,1078.9 1374.3,1078.2 1374.5,1077.0 1374.7,1076.8 1375.0,1076.3 1375.2,1074.7 1375.4,1074.2 1375.6,1074.0 1375.9,1074.6 1376.1,1072.9 1376.3,1071.1 1376.5,1072.2 1376.8,1071.3 1377.0,1070.5 1377.2,1069.1 1377.5,1068.9 1377.7,1070.0 1377.9,1068.8 1378.2,1069.4 1378.4,1065.8 1378.6,1065.5 1378.8,1065.8 1379.1,1065.0 1379.3,1064.7 1379.5,1065.2 1379.8,1065.2 1380.0,1062.7 1380.2,1063.9 1380.5,1063.8 1380.7,1063.1 1380.9,1063.6 1381.2,1063.2 1381.4,1061.5 1381.6,1062.0 1381.9,1061.8 1382.1,1060.4 1382.3,1060.9 1382.6,1061.5 1382.8,1060.8 1383.0,1060.3 1383.2,1061.9 1383.5,1060.4 1383.7,1060.6 1383.9,1059.6 1384.2,1060.7 1384.4,1059.5 1384.6,1059.5 1384.8,1059.6 1385.0,1059.8 1385.3,1060.0 1385.5,1059.5 1385.7,1059.7 1386.0,1060.7 1386.2,1059.7 1386.4,1061.5 1386.6,1061.1 1386.9,1062.0 1387.1,1060.6 1387.3,1062.1 1387.5,1062.5 1387.8,1062.4 1388.0,1062.4 1388.2,1063.1 1388.5,1062.7 1388.7,1065.9 1388.9,1065.7 1389.1,1066.9 1389.4,1068.9 1389.6,1067.9 1389.8,1070.2 1390.0,1072.1 1390.3,1072.7 1390.5,1073.6 1390.7,1073.7 1391.0,1074.8 1391.2,1074.1 1391.4,1075.2 1391.6,1076.5 1391.9,1075.9 1392.1,1076.8 1392.3,1077.1 1392.5,1077.1 1392.8,1077.1 1393.0,1078.2 1393.2,1078.0 1393.5,1077.7 1393.7,1078.0 1393.9,1078.0 1394.1,1078.0 1394.4,1077.6 1394.6,1076.4 1394.8,1077.8 1395.0,1076.9 1395.3,1076.9 1395.5,1075.4 1395.7,1076.9 1396.0,1077.7 1396.2,1076.6 1396.4,1076.9 1396.6,1075.9 1396.9,1076.3 1397.1,1076.2 1397.3,1076.7 1397.5,1076.3 1397.8,1076.4 1398.0,1075.7 1398.2,1076.0 1398.5,1077.1 1398.7,1079.1 1398.9,1077.5 1399.1,1078.8 1399.4,1079.8 1399.6,1079.0 1399.8,1078.9 1400.0,1080.6 1400.3,1080.8 1400.5,1080.7 1400.7,1082.2 1401.0,1081.8 1401.2,1081.4 1401.4,1080.7 1401.6,1082.3 1401.9,1082.3 1402.1,1082.2 1402.3,1082.7 1402.5,1081.3 1402.8,1081.4 1403.0,1082.5 1403.2,1082.3 1403.4,1082.1 1403.7,1081.9 1403.9,1082.8 1404.1,1082.4 1404.3,1082.8 1404.6,1081.7 1404.8,1082.5 1405.0,1082.7 1405.2,1082.7 1405.5,1080.8 1405.7,1081.3 1405.9,1080.7 1406.2,1080.8 1406.4,1080.3 1406.6,1080.3 1406.8,1080.2 1407.1,1079.5 1407.3,1079.0 1407.5,1079.2 1407.8,1079.2 1408.0,1078.0 1408.2,1077.0 1408.5,1078.1 1408.7,1077.1 1408.9,1077.4 1409.1,1075.2 1409.4,1074.8 1409.6,1074.4 1409.8,1073.9 1410.0,1072.5 1410.3,1073.5 1410.5,1071.5 1410.7,1070.5 1411.0,1071.8 1411.2,1070.8 1411.4,1071.3 1411.6,1070.0 1411.9,1069.5 1412.1,1068.7 1412.3,1068.9 1412.5,1069.2 1412.8,1070.6 1413.0,1069.2 1413.2,1068.0 1413.5,1069.0 1413.7,1067.9 1413.9,1066.1 1414.1,1065.8 1414.4,1065.6 1414.6,1066.0 1414.8,1066.0 1415.0,1065.2 1415.3,1065.0 1415.5,1064.3 1415.7,1064.7 1415.9,1064.7 1416.2,1063.0 1416.4,1064.3 1416.6,1062.3 1416.8,1062.3 1417.1,1063.3 1417.3,1062.1 1417.5,1061.3 1417.8,1059.6 1418.0,1060.8 1418.2,1060.2 1418.5,1060.1 1418.8,1060.8 1419.0,1059.6 1419.2,1059.5 1419.5,1061.2 1419.7,1060.2 1419.9,1060.7 1420.2,1060.7 1420.4,1061.3 1420.6,1062.6 1420.8,1062.1 1421.0,1061.6 1421.3,1062.1 1421.5,1063.9 1421.7,1064.0 1422.0,1063.7 1422.2,1064.8 1422.4,1065.6 1422.6,1066.6 1422.9,1066.1 1423.1,1067.5 1423.3,1067.2 1423.5,1068.2 1423.8,1069.2 1424.0,1070.9 1424.2,1070.4 1424.5,1072.0 1424.7,1071.6 1424.9,1072.7 1425.1,1072.2 1425.4,1071.5 1425.6,1071.8 1425.8,1073.4 1426.0,1075.2 1426.3,1074.4 1426.5,1074.7 1426.7,1075.7 1427.0,1075.4 1427.2,1075.8 1427.4,1076.5 1427.6,1077.0 1427.9,1076.7 1428.1,1076.9 1428.3,1078.7 1428.5,1077.5 1428.8,1077.9 1429.0,1078.6 1429.2,1078.9 1429.5,1079.4 1429.7,1080.4 1429.9,1080.4 1430.1,1079.9 1430.4,1080.2 1430.6,1080.9 1430.8,1080.5 1431.0,1080.9 1431.3,1080.4 1431.5,1081.5 1431.7,1081.3 1432.0,1080.6 1432.2,1081.7 1432.4,1083.0 1432.6,1082.0 1432.9,1081.5 1433.1,1082.8 1433.3,1082.4 1433.5,1082.4 1433.8,1083.3 1434.0,1083.0 1434.2,1083.5 1434.5,1081.7 1434.7,1081.7 1434.9,1081.7 1435.1,1081.7 1435.4,1080.7 1435.6,1081.4 1435.8,1080.2 1436.0,1080.5 1436.3,1080.5 1436.5,1080.7 1436.7,1080.4 1437.0,1079.5 1437.2,1079.9 1437.4,1079.6 1437.6,1079.1 1437.9,1078.9 1438.1,1078.3 1438.3,1079.4 1438.5,1078.9 1438.8,1077.9 1439.0,1078.3 1439.2,1076.5 1439.5,1076.3 1439.7,1075.9 1439.9,1076.0 1440.1,1075.0 1440.4,1074.2 1440.6,1073.3 1440.8,1073.1 1441.0,1074.0 1441.3,1073.3 1441.5,1071.6 1441.7,1073.1 1442.0,1070.8 1442.2,1070.1 1442.4,1069.7 1442.6,1069.1 1442.9,1068.1 1443.1,1067.7 1443.3,1067.6 1443.5,1067.0 1443.8,1065.2 1444.0,1064.9 1444.2,1063.3 1444.4,1062.5 1444.7,1061.6 1444.9,1060.3 1445.1,1059.9 1445.3,1057.6 1445.6,1057.5 1445.8,1056.7 1446.0,1054.7 1446.2,1053.8 1446.5,1053.7 1446.8,1052.0 1447.0,1051.2 1447.2,1050.7 1447.5,1048.8 1447.8,1049.3 1448.0,1048.9 1448.2,1049.2 1448.5,1048.8 1448.8,1048.6 1449.0,1048.9 1449.2,1049.0 1449.5,1048.5 1449.7,1048.6 1449.9,1048.5 1450.2,1050.3 1450.4,1049.4 1450.6,1050.4 1450.8,1048.5 1451.1,1050.0 1451.3,1049.4 1451.5,1049.6 1451.8,1052.7 1452.0,1052.5 1452.2,1054.2 1452.5,1056.1 1452.8,1058.1 1453.0,1060.0 1453.2,1061.2 1453.5,1062.6 1453.8,1062.8 1454.0,1064.6 1454.2,1064.9 1454.5,1065.4 1454.8,1064.2 1455.0,1064.6 1455.2,1062.6 1455.5,1062.9 1455.8,1061.5 1456.0,1060.3 1456.2,1060.5 1456.5,1059.8 1456.8,1058.8 1457.0,1058.7 1457.2,1057.2 1457.5,1055.9 1457.8,1055.8 1458.0,1056.5 1458.2,1054.1 1458.4,1053.2 1458.7,1054.5 1458.9,1053.5 1459.1,1055.3 1459.3,1054.1 1459.6,1053.1 1459.8,1053.6 1460.0,1052.7 1460.2,1054.1 1460.4,1054.6 1460.7,1055.0 1460.9,1055.0 1461.1,1054.3 1461.3,1055.5 1461.6,1055.1 1461.8,1053.8 1462.0,1056.1 1462.2,1054.6 1462.5,1055.2 1462.7,1054.8 1462.9,1055.7 1463.1,1055.0 1463.4,1056.1 1463.6,1056.7 1463.8,1056.8 1464.0,1057.8 1464.3,1059.0 1464.5,1058.5 1464.7,1059.5 1465.0,1060.5 1465.2,1059.7 1465.4,1061.7 1465.6,1061.0 1465.9,1061.4 1466.1,1062.2 1466.3,1063.4 1466.5,1061.9 1466.8,1064.0 1467.0,1063.4 1467.2,1064.3 1467.5,1063.9 1467.7,1063.3 1467.9,1066.4 1468.1,1066.6 1468.4,1065.7 1468.6,1066.3 1468.8,1066.5 1469.0,1067.8 1469.3,1069.7 1469.5,1068.7 1469.7,1067.6 1470.0,1069.3 1470.2,1068.1 1470.4,1067.7 1470.6,1069.0 1470.9,1068.7 1471.1,1068.9 1471.3,1069.2 1471.5,1069.4 1471.8,1067.3 1472.0,1068.9 1472.2,1068.9 1472.4,1068.3 1472.7,1066.1 1472.9,1064.9 1473.1,1064.8 1473.3,1065.2 1473.6,1064.1 1473.8,1064.2 1474.0,1062.9 1474.2,1061.8 1474.5,1061.7 1474.8,1062.2 1475.0,1062.8 1475.2,1063.0 1475.5,1061.0 1475.8,1061.8 1476.0,1062.0 1476.2,1061.7 1476.4,1062.2 1476.6,1064.8 1476.9,1063.8 1477.1,1064.6 1477.3,1065.5 1477.5,1066.0 1477.8,1066.7 1478.0,1066.1 1478.2,1066.8 1478.4,1067.7 1478.7,1068.2 1478.9,1067.8 1479.1,1067.6 1479.4,1069.8 1479.6,1070.2 1479.8,1070.6 1480.0,1070.3 1480.3,1069.6 1480.5,1071.0 1480.7,1072.8 1481.0,1071.9 1481.2,1072.1 1481.4,1071.1 1481.6,1072.0 1481.9,1073.3 1482.1,1073.1 1482.3,1073.0 1482.5,1074.1 1482.8,1074.0 1483.0,1074.1 1483.2,1073.9 1483.5,1074.5 1483.7,1075.1 1483.9,1074.9 1484.1,1074.1 1484.4,1075.0 1484.6,1075.2 1484.8,1075.8 1485.0,1076.6 1485.3,1076.0 1485.5,1076.0 1485.7,1076.9 1486.0,1077.0 1486.2,1076.4 1486.4,1077.4 1486.6,1077.5 1486.9,1077.8 1487.1,1076.9 1487.3,1076.9 1487.5,1077.4 1487.8,1077.5 1488.0,1079.3 1488.2,1079.7 1488.5,1078.7 1488.7,1080.7 1488.9,1079.4 1489.1,1080.0 1489.4,1082.1 1489.6,1080.4 1489.8,1081.9 1490.0,1082.3 1490.3,1082.8 1490.5,1082.9 1490.7,1083.0 1491.0,1084.1 1491.2,1083.5 1491.4,1083.9 1491.6,1084.4 1491.9,1084.4 1492.1,1084.8 1492.3,1085.9 1492.5,1086.5 1492.8,1086.2 1493.0,1086.2 1493.2,1086.3 1493.5,1086.6 1493.7,1086.9 1493.9,1087.2 1494.1,1087.7 1494.4,1087.9 1494.6,1088.9 1494.8,1087.9 1495.0,1088.7 1495.3,1089.6 1495.5,1089.3 1495.7,1089.4 1496.0,1090.1 1496.2,1089.9 1496.4,1089.6 1496.6,1090.4 1496.9,1090.8 1497.1,1089.8 1497.3,1091.2 1497.5,1090.1 1497.8,1091.4 1498.0,1090.6 1498.2,1091.5 1498.5,1091.4 1498.7,1092.0 1498.9,1091.6 1499.2,1091.5 1499.4,1091.4 1499.6,1092.0 1499.9,1091.8 1500.1,1092.5 1500.3,1092.4 1500.6,1092.9 1500.8,1092.7 1501.0,1092.5 1501.2,1092.5 1501.5,1092.8 1501.7,1092.9 1501.9,1091.8 1502.1,1092.7 1502.4,1092.3 1502.6,1092.7 1502.8,1092.9 1503.0,1091.6 1503.2,1092.4 1503.5,1093.0 1503.7,1091.6 1503.9,1092.6 1504.1,1092.5 1504.3,1092.2 1504.6,1093.0 1504.8,1093.0 1505.0,1092.5 1505.2,1093.1 1505.4,1093.1 1505.7,1092.4 1505.9,1092.6 1506.1,1092.6 1506.3,1092.9 1506.5,1092.4 1506.8,1092.3 1507.0,1091.9 1507.2,1092.1 1507.4,1092.5 1507.6,1091.6 1507.9,1091.5 1508.1,1091.0 1508.3,1092.7 1508.5,1091.1 1508.8,1091.0 1509.0,1090.9 1509.2,1091.7 1509.4,1091.2 1509.6,1089.9 1509.9,1091.0 1510.1,1091.8 1510.3,1090.7 1510.5,1090.7 1510.7,1091.9 1511.0,1090.4 1511.2,1090.3 1511.4,1090.7 1511.6,1091.6 1511.8,1090.5 1512.1,1089.3 1512.3,1090.0 1512.5,1089.9 1512.7,1090.3 1512.9,1089.7 1513.2,1089.9 1513.4,1089.1 1513.6,1089.0 1513.8,1089.6 1514.0,1090.4 1514.3,1088.9 1514.5,1088.5 1514.7,1089.9 1514.9,1089.4 1515.1,1089.6 1515.4,1089.0 1515.6,1089.1 1515.8,1088.9 1516.0,1088.8 1516.2,1089.7 1516.5,1088.5 1516.7,1088.4 1516.9,1088.5 1517.1,1088.3 1517.4,1089.2 1517.6,1088.2 1517.8,1088.4 1518.0,1087.4 1518.2,1088.3 1518.5,1088.2 1518.7,1088.2 1518.9,1086.9 1519.1,1087.3 1519.3,1086.2 1519.6,1088.3 1519.8,1087.3 1520.0,1088.2 1520.2,1088.5 1520.5,1088.2 1520.7,1087.5 1520.9,1088.0 1521.1,1088.7 1521.4,1087.5 1521.6,1089.4 1521.8,1089.7 1522.0,1089.6 1522.3,1089.2 1522.5,1089.7 1522.7,1088.8 1523.0,1089.3 1523.2,1089.7 1523.4,1089.7 1523.7,1091.1 1523.9,1090.6 1524.1,1089.2 1524.3,1091.2 1524.6,1091.0 1524.8,1090.7 1525.0,1090.6 1525.3,1092.2 1525.5,1091.4 1525.7,1091.4 1526.0,1090.5 1526.2,1091.0 1526.4,1091.7 1526.7,1091.3 1526.9,1091.0 1527.1,1091.1 1527.4,1090.5 1527.6,1090.0 1527.8,1091.5 1528.1,1090.5 1528.3,1090.5 1528.5,1091.4 1528.8,1091.7 1529.0,1091.0 1529.2,1091.7 1529.4,1091.0 1529.7,1089.6 1529.9,1091.7 1530.1,1090.2 1530.4,1091.5 1530.6,1090.4 1530.8,1090.4 1531.1,1090.1 1531.3,1089.8 1531.5,1090.5 1531.8,1091.0 1532.0,1090.7 1532.2,1089.5 1532.5,1089.9 1532.7,1090.0 1532.9,1089.6 1533.2,1088.4 1533.4,1090.0 1533.6,1088.3 1533.8,1088.0 1534.1,1088.4 1534.3,1088.2 1534.5,1087.6 1534.8,1087.0 1535.0,1086.9 1535.2,1087.3 1535.5,1086.0 1535.7,1087.4 1535.9,1087.0 1536.2,1086.5 1536.4,1086.2 1536.6,1085.4 1536.8,1085.4 1537.1,1085.9 1537.3,1084.9 1537.5,1085.9 1537.8,1085.3 1538.0,1084.9 1538.2,1084.2 1538.5,1083.5 1538.7,1083.7 1538.9,1083.0 1539.1,1083.2 1539.4,1082.9 1539.6,1082.6 1539.8,1083.3 1540.1,1081.9 1540.3,1081.8 1540.5,1082.7 1540.8,1081.9 1541.0,1082.1 1541.2,1081.4 1541.4,1082.0 1541.6,1082.5 1541.9,1081.8 1542.1,1082.0 1542.3,1082.5 1542.5,1082.1 1542.8,1082.5 1543.0,1081.4 1543.2,1081.5 1543.4,1082.2 1543.7,1083.5 1543.9,1083.3 1544.1,1082.9 1544.3,1085.4 1544.5,1085.5 1544.8,1084.8 1545.0,1085.1 1545.2,1085.4 1545.5,1086.5 1545.7,1086.7 1545.9,1086.8 1546.1,1087.7 1546.4,1086.8 1546.6,1086.9 1546.8,1087.9 1547.0,1088.1 1547.3,1088.5 1547.5,1089.0 1547.7,1087.9 1548.0,1089.6 1548.2,1087.8 1548.4,1088.9 1548.7,1088.9 1548.9,1089.1 1549.1,1088.7 1549.3,1088.2 1549.6,1088.5 1549.8,1087.8 1550.0,1088.5 1550.3,1088.4 1550.5,1087.5 1550.7,1089.7 1551.0,1088.2 1551.2,1088.9 1551.4,1089.3 1551.7,1088.6 1551.9,1088.4 1552.1,1088.0 1552.4,1088.3 1552.6,1088.3 1552.8,1088.6 1553.1,1089.1 1553.3,1088.8 1553.5,1089.5 1553.8,1089.0 1554.0,1088.9 1554.2,1087.4 1554.4,1088.7 1554.7,1088.9 1554.9,1088.0 1555.1,1088.7 1555.4,1088.4 1555.6,1088.7 1555.8,1088.7 1556.1,1088.6 1556.3,1088.7 1556.5,1089.0 1556.8,1088.9 1557.0,1088.4 1557.2,1088.9 1557.5,1088.1 1557.7,1087.9 1557.9,1088.3 1558.1,1088.0 1558.4,1087.9 1558.6,1086.2 1558.8,1086.3 1559.0,1086.0 1559.3,1085.4 1559.5,1084.9 1559.7,1084.9 1559.9,1084.6 1560.2,1084.6 1560.4,1082.5 1560.6,1082.5 1560.8,1081.2 1561.1,1081.0 1561.3,1079.2 1561.5,1081.3 1561.8,1078.5 1562.0,1079.0 1562.2,1077.3 1562.5,1077.7 1562.8,1076.7 1563.0,1075.5 1563.2,1075.6 1563.5,1076.1 1563.8,1076.1 1564.0,1074.9 1564.2,1076.5 1564.5,1075.9 1564.8,1075.3 1565.0,1077.0 1565.2,1075.8 1565.5,1076.7 1565.7,1077.7 1565.9,1077.0 1566.1,1077.2 1566.4,1078.1 1566.6,1077.5 1566.8,1078.1 1567.0,1078.2 1567.3,1078.3 1567.5,1079.2 1567.7,1079.2 1568.0,1080.1 1568.2,1079.7 1568.4,1078.8 1568.6,1080.1 1568.9,1080.0 1569.1,1080.2 1569.3,1081.2 1569.5,1081.1 1569.8,1080.1 1570.0,1082.5 1570.2,1081.2 1570.5,1080.3 1570.7,1081.1 1570.9,1081.5 1571.2,1080.6 1571.4,1080.7 1571.6,1080.2 1571.8,1081.4 1572.1,1080.9 1572.3,1082.2 1572.5,1081.4 1572.8,1081.4 1573.0,1080.9 1573.2,1082.1 1573.5,1080.9 1573.7,1082.1 1573.9,1082.5 1574.1,1081.9 1574.4,1081.9 1574.6,1083.5 1574.8,1084.1 1575.0,1083.5 1575.3,1084.6 1575.5,1084.0 1575.7,1083.7 1576.0,1083.7 1576.2,1083.3 1576.4,1084.6 1576.7,1083.9 1576.9,1083.9 1577.1,1084.6 1577.4,1084.7 1577.6,1084.1 1577.8,1084.8 1578.1,1084.7 1578.3,1084.9 1578.5,1084.8 1578.8,1084.8 1579.0,1083.5 1579.2,1084.5 1579.4,1085.4 1579.7,1084.4 1579.9,1084.6 1580.1,1084.8 1580.4,1083.8 1580.6,1084.3 1580.8,1084.0 1581.1,1084.3 1581.3,1084.3 1581.5,1083.9 1581.8,1083.6 1582.0,1084.1 1582.2,1083.4 1582.4,1082.3 1582.7,1083.7 1582.9,1083.0 1583.1,1082.2 1583.4,1082.3 1583.6,1081.5 1583.8,1082.0 1584.0,1080.8 1584.3,1082.1 1584.5,1081.5 1584.7,1080.4 1585.0,1081.1 1585.2,1079.7 1585.4,1080.0 1585.6,1079.5 1585.9,1080.3 1586.1,1080.1 1586.3,1078.6 1586.5,1079.3 1586.8,1079.3 1587.0,1078.5 1587.2,1080.1 1587.5,1077.5 1587.7,1079.1 1587.9,1079.1 1588.1,1077.7 1588.4,1077.1 1588.6,1078.4 1588.8,1075.9 1589.0,1077.3 1589.3,1076.3 1589.5,1077.0 1589.7,1076.7 1589.9,1076.2 1590.2,1077.4 1590.4,1077.9 1590.6,1076.3 1590.8,1077.6 1591.0,1077.3 1591.3,1076.8 1591.5,1076.9 1591.7,1077.6 1591.9,1078.0 1592.1,1077.2 1592.4,1075.8 1592.6,1077.9 1592.8,1077.7 1593.0,1076.3 1593.2,1077.2 1593.5,1077.7 1593.8,1077.7 1594.0,1078.3 1594.2,1077.8 1594.5,1078.9 1594.8,1077.2 1595.0,1079.4 1595.2,1079.3 1595.4,1080.0 1595.7,1081.0 1595.9,1081.8 1596.1,1080.9 1596.3,1081.9 1596.6,1081.8 1596.8,1082.9 1597.0,1083.0 1597.2,1083.1 1597.5,1084.7 1597.7,1084.7 1597.9,1084.8 1598.2,1085.9 1598.4,1084.6 1598.6,1086.1 1598.9,1087.1 1599.1,1086.4 1599.3,1086.5 1599.6,1086.9 1599.8,1088.3 1600.0,1088.6 1600.3,1088.6 1600.5,1089.2 1600.7,1088.6 1601.0,1088.9 1601.2,1089.8 1601.4,1089.0 1601.7,1089.8 1601.9,1089.9 1602.1,1089.6 1602.3,1090.4 1602.6,1089.8 1602.8,1090.3 1603.0,1089.8 1603.3,1090.4 1603.5,1090.8 1603.7,1091.5 1603.9,1091.3 1604.2,1090.7 1604.4,1091.3 1604.6,1092.6 1604.8,1091.5 1605.0,1091.8 1605.3,1090.5 1605.5,1091.4 1605.7,1092.3 1605.9,1091.0 1606.1,1091.3 1606.4,1091.4 1606.6,1091.8 1606.8,1092.2 1607.0,1091.1 1607.2,1092.3 1607.5,1090.6 1607.7,1091.3 1607.9,1091.8 1608.1,1090.9 1608.4,1091.0 1608.6,1091.0 1608.8,1092.0 1609.0,1090.5 1609.2,1091.4 1609.5,1091.8 1609.7,1090.5 1609.9,1090.2 1610.1,1090.5 1610.3,1089.8 1610.6,1090.0 1610.8,1089.5 1611.0,1089.2 1611.2,1089.1 1611.5,1090.4 1611.7,1089.5 1611.9,1089.2 1612.2,1090.3 1612.4,1089.7 1612.6,1089.5 1612.8,1089.3 1613.1,1089.6 1613.3,1089.4 1613.5,1089.3 1613.8,1089.4 1614.0,1089.9 1614.2,1089.4 1614.5,1090.3 1614.7,1090.2 1614.9,1089.2 1615.2,1089.3 1615.4,1089.2 1615.6,1089.6 1615.9,1090.4 1616.1,1089.9 1616.3,1089.9 1616.6,1090.3 1616.8,1089.2 1617.0,1090.6 1617.2,1090.4 1617.5,1090.9 1617.7,1090.5 1617.9,1091.3 1618.1,1091.4 1618.4,1090.8 1618.6,1091.3 1618.8,1090.6 1619.0,1090.8 1619.2,1090.7 1619.5,1091.2 1619.7,1090.8 1619.9,1091.0 1620.1,1091.5 1620.3,1091.0 1620.6,1092.1 1620.8,1091.4 1621.0,1091.8 1621.2,1091.9 1621.4,1092.6 1621.7,1092.4 1621.9,1092.1 1622.1,1092.0 1622.3,1092.8 1622.5,1092.3 1622.8,1091.9 1623.0,1092.6 1623.2,1092.9 1623.4,1092.6 1623.6,1092.7 1623.9,1093.5 1624.1,1092.5 1624.3,1093.2 1624.5,1093.7 1624.8,1093.8 1625.0,1092.3 1625.2,1093.1 1625.4,1092.9 1625.6,1093.9 1625.9,1093.3 1626.1,1093.1 1626.3,1093.2 1626.5,1092.8 1626.7,1091.9 1627.0,1093.5 1627.2,1091.5 1627.4,1092.7 1627.6,1092.6 1627.8,1092.2 1628.1,1092.6 1628.3,1092.0 1628.5,1092.4 1628.7,1092.0 1628.9,1091.5 1629.2,1092.3 1629.4,1091.5 1629.6,1092.1 1629.8,1091.2 1630.0,1091.8 1630.3,1091.9 1630.5,1092.2 1630.7,1091.0 1630.9,1091.2 1631.1,1091.4 1631.4,1090.9 1631.6,1091.7 1631.8,1092.5 1632.0,1091.6 1632.2,1091.5 1632.5,1090.8 1632.7,1091.5 1632.9,1091.5 1633.2,1092.2 1633.4,1091.0 1633.6,1091.9 1633.9,1091.0 1634.1,1091.1 1634.3,1091.0 1634.6,1091.4 1634.8,1090.5 1635.0,1091.0 1635.3,1092.0 1635.5,1090.3 1635.7,1091.3 1636.0,1090.9 1636.2,1090.0 1636.4,1089.4 1636.6,1090.1 1636.9,1089.0 1637.1,1089.0 1637.3,1088.4 1637.5,1087.5 1637.8,1088.4 1638.0,1087.8 1638.2,1086.4 1638.5,1087.0 1638.7,1085.1 1638.9,1084.5 1639.1,1085.1 1639.4,1083.8 1639.6,1083.5 1639.8,1083.9 1640.0,1081.7 1640.3,1082.2 1640.5,1081.0 1640.7,1080.9 1641.0,1080.4 1641.2,1079.7 1641.4,1079.9 1641.6,1078.9 1641.9,1079.2 1642.1,1078.2 1642.3,1078.3 1642.5,1078.2 1642.8,1076.9 1643.0,1077.4 1643.2,1077.9 1643.5,1077.5 1643.8,1077.9 1644.0,1076.7 1644.2,1077.7 1644.5,1077.5 1644.8,1075.7 1645.0,1077.5 1645.2,1078.4 1645.4,1078.1 1645.6,1078.5 1645.9,1078.7 1646.1,1079.0 1646.3,1078.7 1646.5,1079.2 1646.8,1078.6 1647.0,1081.8 1647.2,1081.0 1647.5,1081.7 1647.8,1082.5 1648.0,1082.9 1648.2,1083.1 1648.5,1083.8"/>
<polyline shape-rendering="crispEdges" fill="none" stroke="#f00" stroke-width="4.2" stroke-linejoin="round" stroke-linecap="round" points="340.0,868.8 339.5,862.7 339.8,853.6 340.0,850.4 340.2,848.0 340.5,844.2 340.8,845.1 341.0,844.8 341.2,846.4 341.5,848.3 341.8,851.3 342.0,846.8 342.2,851.2 342.5,847.4 342.8,845.3 343.0,842.4 343.2,837.1 343.5,832.6 343.8,839.3 344.0,837.6 344.2,838.9 344.5,837.8 344.8,830.9 345.0,830.4 345.2,831.4 345.5,836.6 345.8,830.2 346.0,831.1 346.2,834.2 346.5,830.5 346.8,830.4 347.0,836.1 347.2,840.6 347.5,845.6 347.8,837.3 348.0,848.8 348.2,844.4 348.4,847.8 348.7,850.5 348.9,851.7 349.1,857.8 349.3,861.5 349.6,860.5 349.8,857.8 350.0,864.2 350.2,865.0 350.5,868.4 350.8,866.6 351.0,858.6 351.2,863.7 351.5,866.5 351.8,873.1 352.0,868.3 352.2,873.6 352.5,871.0 352.8,864.2 353.0,870.4 353.2,871.9 353.5,870.3 353.8,860.3 354.0,868.5 354.2,862.7 354.5,854.5 354.8,860.9 355.0,853.1 355.2,855.4 355.5,867.7 355.8,871.8 356.0,863.9 356.2,859.8 356.5,867.4 356.8,860.1 357.0,854.0 357.2,847.2 357.5,864.1 357.8,848.9 358.0,848.2 358.2,857.4 358.5,861.3 358.8,857.1 359.0,866.8 359.2,860.6 359.5,861.4 359.8,861.9 360.0,856.2 360.2,859.5 360.5,869.4 360.8,852.5 361.0,857.3 361.2,858.4 361.5,852.3 361.8,854.1 362.0,845.0 362.2,850.7 362.5,852.4 362.7,857.0 362.9,855.4 363.2,846.7 363.4,843.2 363.6,857.5 363.8,851.8 364.1,836.5 364.3,843.8 364.5,840.0 364.8,840.5 365.0,833.5 365.2,839.3 365.5,837.7 365.8,838.1 366.0,843.9 366.2,838.4 366.5,829.0 366.8,824.5 367.0,829.3 367.2,836.9 367.5,834.1 367.8,824.0 368.0,831.6 368.2,825.5 368.5,817.6 368.8,821.4 369.0,816.4 369.2,813.3 369.5,809.3 369.8,805.2 370.0,801.9 370.2,793.4 370.5,790.3 370.8,785.0 371.0,779.9 371.2,773.0 371.5,772.0 371.8,766.3 372.0,760.4 372.2,753.0 372.5,747.9 372.8,740.6 373.0,740.8 373.2,731.9 373.5,731.1 373.8,727.0 374.0,728.7 374.2,728.9 374.5,734.8 374.8,739.3 375.0,747.6 375.2,756.4 375.5,764.8 375.8,778.0 376.0,790.4 376.2,802.8 376.5,815.2 376.8,826.0 377.0,837.6 377.2,841.9 377.5,848.5 377.8,854.5 378.0,856.6 378.2,863.9 378.5,861.2 378.8,875.1 379.0,868.2 379.2,874.9 379.5,864.1 379.8,877.0 380.0,867.7 380.2,875.4 380.5,875.4 380.7,879.3 380.9,878.3 381.2,877.3 381.4,874.7 381.6,884.7 381.8,873.2 382.1,875.5 382.3,873.2 382.5,876.1 382.8,869.9 383.0,871.6 383.2,875.1 383.5,869.0 383.8,873.1 384.0,867.1 384.2,875.6 384.5,866.7 384.8,874.8 385.0,867.4 385.2,863.0 385.5,867.1 385.8,867.2 386.0,868.0 386.2,866.3 386.5,862.7 386.8,851.3 387.0,860.9 387.2,854.8 387.5,856.4 387.8,860.0 388.0,848.9 388.2,858.6 388.5,863.2 388.8,852.8 389.0,847.0 389.2,854.6 389.5,847.1 389.8,850.5 390.0,850.3 390.2,834.3 390.5,842.0 390.8,830.0 391.0,832.3 391.2,837.4 391.5,825.4 391.8,827.1 392.0,825.1 392.2,825.1 392.5,822.3 392.8,819.7 393.0,813.8 393.2,809.2 393.5,807.9 393.8,800.9 394.0,797.0 394.2,795.7 394.5,788.1 394.8,782.0 395.0,778.2 395.2,770.9 395.5,764.4 395.8,752.3 396.0,740.5 396.2,728.2 396.5,714.9 396.8,698.5 397.0,681.8 397.2,665.0 397.5,639.8 397.8,615.0 398.0,565.0 398.2,540.0 398.5,514.8 398.8,501.4 399.0,488.3 399.2,474.9 399.5,475.7 399.8,474.1 400.0,473.5 400.2,479.8 400.5,478.0 400.8,474.8 401.0,494.9 401.2,515.0 401.5,565.0 401.8,627.5 402.0,690.0 402.2,715.0 402.5,740.0 402.8,758.6 403.0,777.6 403.2,793.7 403.5,809.9 403.8,819.7 404.0,829.4 404.2,839.5 404.5,850.2 404.8,844.1 405.0,845.8 405.2,850.8 405.5,853.8 405.8,847.7 406.0,851.7 406.2,855.2 406.5,859.9 406.8,857.6 407.0,866.3 407.2,858.4 407.5,859.4 407.8,851.9 408.0,856.4 408.2,857.7 408.5,851.6 408.8,848.7 409.0,842.8 409.2,841.0 409.5,838.3 409.8,837.9 410.0,842.8 410.2,838.4 410.5,839.2 410.8,840.2 411.0,833.7 411.2,833.0 411.5,841.8 411.8,836.5 412.0,833.6 412.2,837.8 412.5,842.7 412.8,841.0 413.0,856.9 413.2,852.2 413.5,858.5 413.8,849.9 414.0,858.4 414.2,861.1 414.5,857.7 414.8,864.3 415.0,864.8 415.2,868.5 415.5,862.7 415.8,872.9 416.0,870.9 416.2,869.2 416.5,863.8 416.8,874.5 417.0,871.0 417.2,880.4 417.5,862.1 417.8,869.9 418.0,866.1 418.2,860.3 418.5,856.7 418.8,854.6 419.0,847.4 419.2,848.0 419.5,840.6 419.8,835.5 420.0,832.4 420.2,824.1 420.5,819.7 420.8,814.2 421.0,809.5 421.2,799.3 421.5,788.8 421.8,777.5 422.0,764.9 422.2,752.6 422.5,739.9 422.8,723.3 423.0,706.7 423.2,689.9 423.5,677.3 423.8,665.0 424.0,652.5 424.2,653.4 424.5,642.4 424.8,642.5 425.0,641.2 425.2,642.9 425.5,650.4 425.8,652.3 426.0,671.4 426.2,690.1 426.5,714.9 426.8,740.1 427.0,764.9 427.2,790.0 427.5,808.6 427.8,827.6 428.0,840.2 428.2,852.6 428.5,864.9 428.8,861.4 429.0,871.1 429.2,868.9 429.5,876.8 429.8,868.4 430.0,879.3 430.2,881.2 430.5,869.8 430.8,876.0 431.0,880.1 431.2,881.6 431.5,877.6 431.8,886.5 432.0,882.4 432.2,888.2 432.5,881.4 432.8,885.3 433.0,894.6 433.2,885.0 433.5,893.4 433.8,900.9 434.0,898.3 434.2,889.3 434.5,905.0 434.8,893.1 435.0,899.9 435.2,900.7 435.5,895.9 435.8,900.8 436.0,888.5 436.2,899.9 436.5,901.7 436.8,901.1 437.0,904.6 437.2,910.0 437.5,911.0 437.8,904.9 438.0,911.1 438.2,913.1 438.5,909.1 438.8,910.7 439.0,897.7 439.2,899.7 439.5,906.4 439.8,897.1 440.0,905.6 440.2,906.5 440.5,896.8 440.8,895.5 441.0,899.2 441.2,900.5 441.5,903.5 441.8,899.5 442.0,901.2 442.2,897.3 442.5,903.2 442.8,899.1 443.0,907.0 443.2,906.2 443.5,896.7 443.8,905.4 444.0,898.2 444.2,905.8 444.5,896.1 444.8,904.8 445.0,902.8 445.2,905.7 445.5,897.6 445.8,895.4 446.0,899.5 446.2,887.8 446.5,892.9 446.8,891.5 447.0,892.5 447.2,885.6 447.5,885.0 447.8,886.7 448.0,902.3 448.2,896.2 448.5,902.1 448.8,900.8 449.0,902.2 449.2,910.5 449.5,897.3 449.8,907.9 450.0,907.5 450.2,908.9 450.5,908.0 450.8,908.8 451.0,910.7 451.2,920.3 451.5,913.7 451.8,913.2 452.0,912.9 452.2,914.7 452.5,914.9 452.8,910.3 453.0,908.2 453.2,909.1 453.5,902.4 453.8,905.4 454.0,910.6 454.2,899.7 454.5,897.8 454.8,893.9 455.0,899.7 455.2,901.6 455.5,896.6 455.8,896.5 456.0,902.5 456.2,897.1 456.5,898.7 456.8,892.8 457.0,898.9 457.2,895.9 457.5,890.1 457.8,886.8 458.0,899.6 458.2,882.1 458.5,881.3 458.8,873.6 459.0,885.4 459.2,880.3 459.5,877.5 459.8,870.1 460.0,873.0 460.2,867.2 460.5,862.9 460.8,863.6 461.0,863.4 461.2,858.7 461.5,854.4 461.8,858.1 462.0,854.5 462.2,850.1 462.5,853.8 462.8,851.2 463.0,849.0 463.2,854.6 463.5,855.6 463.8,856.7 464.0,851.5 464.2,863.5 464.5,864.4 464.8,859.3 465.0,870.5 465.2,867.4 465.5,864.7 465.8,871.8 466.0,868.5 466.2,882.2 466.5,873.7 466.8,888.7 467.0,880.6 467.2,886.4 467.5,895.2 467.8,893.3 468.0,886.9 468.2,895.7 468.5,890.8 468.8,903.7 469.0,898.3 469.2,904.0 469.5,905.5 469.8,901.6 470.0,910.9 470.2,918.3 470.5,908.9 470.8,911.8 471.0,917.1 471.2,921.9 471.5,914.9 471.8,920.4 472.0,922.3 472.2,926.2 472.5,920.2 472.8,933.5 473.0,932.7 473.2,920.5 473.5,923.4 473.8,928.5 474.0,925.2 474.2,926.0 474.5,928.4 474.8,926.0 475.0,926.9 475.2,928.8 475.5,925.3 475.8,927.0 476.0,928.5 476.2,927.6 476.5,922.5 476.8,927.7 477.0,915.6 477.2,918.2 477.5,919.5 477.8,912.2 478.0,914.0 478.2,908.0 478.5,909.7 478.8,914.8 479.0,917.9 479.2,919.6 479.5,922.9 479.8,923.8 480.0,924.4 480.2,921.9 480.5,923.3 480.8,923.4 481.0,922.7 481.2,918.1 481.5,926.8 481.8,925.9 482.0,922.3 482.2,919.2 482.5,925.0 482.8,920.8 483.0,921.7 483.2,925.8 483.5,922.4 483.8,925.9 484.0,924.5 484.2,929.6 484.5,929.4 484.7,931.0 484.9,930.4 485.1,930.5 485.4,931.2 485.6,933.3 485.8,927.3 486.0,927.0 486.2,932.1 486.5,932.0 486.8,930.0 487.0,935.9 487.2,931.7 487.5,934.2 487.8,929.4 488.0,923.5 488.2,923.4 488.4,932.3 488.7,928.3 488.9,926.2 489.1,932.5 489.3,934.0 489.6,928.9 489.8,932.0 490.0,926.0 490.2,923.9 490.4,921.6 490.7,932.1 490.9,922.6 491.1,927.2 491.3,929.2 491.6,931.4 491.8,922.7 492.0,929.0 492.2,927.6 492.5,936.6 492.8,931.3 493.0,930.4 493.2,939.6 493.5,934.7 493.8,937.7 494.0,937.1 494.2,936.5 494.5,940.7 494.8,936.6 495.0,935.4 495.2,939.0 495.5,944.5 495.7,941.6 495.9,947.0 496.2,946.3 496.4,945.1 496.6,948.6 496.8,946.7 497.1,947.0 497.3,945.5 497.5,946.5 497.8,945.9 498.0,948.9 498.2,950.0 498.5,947.6 498.8,944.0 499.0,942.0 499.2,942.6 499.5,939.1 499.8,940.3 500.0,938.6 500.2,938.9 500.5,930.1 500.8,938.4 501.0,940.8 501.2,934.8 501.5,944.7 501.8,939.1 502.0,936.7 502.2,943.4 502.5,935.0 502.8,947.3 503.0,935.4 503.2,941.0 503.5,942.6 503.8,939.8 504.0,936.9 504.2,932.9 504.5,933.9 504.8,934.2 505.0,935.9 505.2,922.9 505.5,931.6 505.8,923.8 506.0,924.1 506.2,924.5 506.5,920.0 506.8,922.2 507.0,911.1 507.2,916.7 507.5,910.4 507.8,908.2 508.0,905.3 508.2,899.0 508.5,899.3 508.8,898.9 509.0,890.0 509.2,885.7 509.5,886.6 509.8,882.4 510.0,872.5 510.2,870.7 510.5,865.6 510.8,862.7 511.0,858.0 511.2,852.1 511.5,848.8 511.8,845.2 512.0,852.4 512.2,845.6 512.5,851.6 512.8,853.8 513.0,859.9 513.2,860.8 513.5,864.2 513.8,865.5 514.0,871.7 514.2,877.6 514.5,879.6 514.8,884.9 515.0,884.2 515.2,890.8 515.5,891.1 515.8,893.0 516.0,896.4 516.2,904.3 516.5,905.8 516.8,907.0 517.0,908.9 517.2,915.5 517.5,913.2 517.8,918.6 518.0,914.7 518.2,910.6 518.5,911.4 518.8,908.1 519.0,908.1 519.2,910.4 519.5,913.0 519.8,916.0 520.0,917.0 520.2,919.9 520.5,925.5 520.8,921.2 521.0,918.7 521.2,936.1 521.5,932.5 521.8,935.1 522.0,940.7 522.2,942.9 522.5,946.1 522.8,946.1 523.0,947.1 523.2,947.7 523.5,947.3 523.8,949.0 524.0,941.0 524.2,955.1 524.5,949.3 524.8,946.5 525.0,953.7 525.2,947.1 525.5,950.2 525.8,945.6 526.0,944.1 526.2,951.1 526.5,946.1 526.8,938.6 527.0,944.4 527.2,943.5 527.5,937.7 527.8,938.9 528.0,938.8 528.2,936.1 528.5,932.0 528.8,930.3 529.0,931.0 529.2,923.2 529.5,918.9 529.8,916.4 530.0,925.1 530.2,908.4 530.5,910.0 530.8,900.0 531.0,904.7 531.2,901.6 531.5,901.1 531.8,903.7 532.0,905.8 532.2,899.6 532.5,898.9 532.8,898.6 533.0,898.2 533.2,898.0 533.5,898.3 533.8,901.7 534.0,906.2 534.2,906.8 534.5,915.1 534.8,907.2 535.0,915.3 535.2,921.5 535.5,915.7 535.8,915.9 536.0,932.7 536.2,930.9 536.5,931.9 536.8,936.7 537.0,931.3 537.2,933.4 537.5,945.4 537.8,941.4 538.0,936.5 538.2,942.7 538.5,949.6 538.8,941.6 539.0,940.9 539.2,939.6 539.5,947.4 539.7,948.2 539.9,946.9 540.1,947.7 540.4,949.2 540.6,948.6 540.8,949.4 541.0,955.0 541.2,952.5 541.5,954.8 541.7,947.7 541.9,951.5 542.1,958.4 542.4,956.3 542.6,959.9 542.8,952.5 543.0,960.0 543.2,956.8 543.5,958.5 543.8,956.2 544.0,955.3 544.2,954.8 544.5,957.7 544.8,961.3 545.0,954.5 545.2,956.3 545.5,955.3 545.7,956.1 545.9,961.2 546.1,958.0 546.4,956.6 546.6,962.1 546.8,961.3 547.0,961.6 547.3,961.3 547.5,959.3 547.7,963.8 548.0,959.4 548.2,962.2 548.4,962.1 548.6,965.3 548.9,961.3 549.1,964.5 549.3,956.7 549.5,962.6 549.8,962.9 550.0,962.7 550.2,956.2 550.5,964.9 550.7,960.8 550.9,960.7 551.1,967.8 551.4,962.4 551.6,966.1 551.8,958.0 552.0,965.6 552.3,964.1 552.5,964.6 552.7,960.8 553.0,965.0 553.2,963.4 553.4,968.3 553.6,962.6 553.9,959.4 554.1,967.7 554.3,961.2 554.5,964.0 554.8,967.1 555.0,970.1 555.2,966.7 555.5,967.3 555.7,965.8 555.9,965.7 556.1,965.3 556.4,966.6 556.6,962.9 556.8,966.5 557.0,969.5 557.3,966.5 557.5,965.7 557.7,968.4 558.0,963.4 558.2,965.4 558.4,972.9 558.6,968.4 558.9,968.2 559.1,965.4 559.3,963.5 559.5,962.2 559.8,965.7 560.0,969.5 560.2,965.3 560.5,968.0 560.7,964.5 560.9,965.7 561.1,966.5 561.4,973.2 561.6,965.6 561.8,962.4 562.0,967.9 562.3,965.0 562.5,966.7 562.7,962.6 562.9,967.5 563.2,962.5 563.4,965.7 563.6,963.2 563.8,962.0 564.0,966.0 564.3,965.3 564.5,957.7 564.7,966.0 564.9,966.2 565.1,964.1 565.4,964.5 565.6,964.2 565.8,964.1 566.0,962.0 566.2,966.2 566.5,966.9 566.7,960.6 566.9,963.5 567.2,960.5 567.4,962.0 567.6,966.5 567.8,963.7 568.1,964.4 568.3,962.7 568.5,971.1 568.8,967.6 569.0,965.3 569.2,964.8 569.4,969.6 569.7,968.0 569.9,965.4 570.1,964.0 570.3,961.2 570.6,968.8 570.8,970.0 571.0,972.1 571.2,965.9 571.5,968.0 571.7,959.6 571.9,967.9 572.1,963.9 572.4,964.0 572.6,964.3 572.8,964.4 573.0,965.8 573.2,969.3 573.5,965.8 573.7,967.2 573.9,968.1 574.1,974.8 574.3,971.4 574.6,967.6 574.8,972.0 575.0,974.9 575.2,969.7 575.5,972.4 575.7,973.5 575.9,966.3 576.1,971.0 576.4,970.3 576.6,973.2 576.8,974.8 577.0,969.6 577.3,966.7 577.5,969.8 577.7,971.4 578.0,969.6 578.2,972.3 578.4,968.3 578.6,973.4 578.9,974.1 579.1,977.9 579.3,971.8 579.5,975.2 579.8,970.4 580.0,970.5 580.2,970.4 580.5,972.5 580.7,969.3 580.9,968.0 581.1,979.8 581.4,972.7 581.6,973.7 581.8,974.4 582.0,972.8 582.3,973.6 582.5,977.6 582.7,975.3 583.0,977.9 583.2,971.5 583.4,976.4 583.6,972.6 583.9,971.7 584.1,977.6 584.3,976.4 584.5,977.9 584.8,977.9 585.0,970.7 585.2,977.6 585.5,981.3 585.7,976.2 585.9,978.3 586.1,979.5 586.4,980.3 586.6,968.0 586.8,974.0 587.0,974.3 587.3,973.8 587.5,977.5 587.7,970.6 588.0,967.0 588.2,974.6 588.4,972.9 588.6,976.5 588.9,976.5 589.1,974.2 589.3,976.9 589.5,969.1 589.8,972.5 590.0,968.6 590.2,977.9 590.5,971.7 590.7,975.3 590.9,973.8 591.1,974.6 591.4,975.4 591.6,975.7 591.8,974.7 592.0,972.8 592.3,974.6 592.5,967.0 592.7,969.9 593.0,976.7 593.2,974.1 593.4,968.4 593.6,968.8 593.9,969.0 594.1,971.4 594.3,975.0 594.5,972.4 594.8,974.7 595.0,968.7 595.2,972.3 595.5,973.2 595.7,974.0 595.9,975.0 596.1,973.4 596.4,975.5 596.6,976.8 596.8,974.8 597.0,970.1 597.3,971.7 597.5,971.3 597.7,978.3 598.0,976.2 598.2,974.3 598.4,972.5 598.6,972.6 598.9,978.6 599.1,974.1 599.3,972.9 599.5,972.5 599.8,976.8 600.0,969.7 600.2,973.7 600.5,977.3 600.7,978.1 600.9,977.8 601.1,975.6 601.4,979.0 601.6,981.6 601.8,974.9 602.0,975.2 602.3,976.8 602.5,978.4 602.7,977.0 603.0,976.9 603.2,972.7 603.4,981.7 603.6,976.6 603.9,979.9 604.1,978.7 604.3,982.3 604.5,977.3 604.8,977.9 605.0,981.5 605.2,981.7 605.5,980.3 605.7,983.0 605.9,980.8 606.1,981.4 606.4,979.4 606.6,982.8 606.8,985.5 607.0,982.9 607.3,983.3 607.5,986.3 607.7,982.8 608.0,982.4 608.2,984.7 608.4,989.1 608.6,983.8 608.9,984.9 609.1,986.2 609.3,984.4 609.5,984.8 609.8,989.4 610.0,981.7 610.2,987.5 610.5,988.7 610.7,989.5 610.9,986.8 611.1,987.4 611.4,984.7 611.6,981.6 611.8,986.7 612.0,986.6 612.3,987.2 612.5,989.6 612.7,992.8 613.0,987.5 613.2,990.7 613.4,986.6 613.6,987.0 613.9,983.5 614.1,986.7 614.3,984.4 614.5,986.6 614.8,982.4 615.0,989.0 615.2,982.1 615.5,987.4 615.7,980.8 615.9,986.3 616.1,987.0 616.4,988.6 616.6,990.5 616.8,983.3 617.0,986.3 617.3,986.1 617.5,986.9 617.7,990.0 618.0,985.3 618.2,984.2 618.4,985.4 618.6,989.4 618.9,985.1 619.1,982.4 619.3,986.1 619.5,990.4 619.8,991.6 620.0,985.7 620.2,985.9 620.5,989.7 620.7,990.5 620.9,987.9 621.1,988.2 621.4,990.2 621.6,984.2 621.8,992.2 622.0,985.8 622.3,983.6 622.5,992.1 622.7,989.0 623.0,991.1 623.2,985.1 623.4,990.0 623.6,990.1 623.9,990.0 624.1,990.0 624.3,989.5 624.5,989.6 624.8,986.8 625.0,995.2 625.2,988.8 625.5,986.9 625.7,991.1 625.9,989.8 626.1,988.6 626.4,997.5 626.6,991.8 626.8,986.2 627.0,989.7 627.3,990.1 627.5,991.0 627.7,992.9 628.0,992.7 628.2,996.4 628.4,990.6 628.6,991.0 628.9,994.7 629.1,995.2 629.3,991.5 629.5,990.9 629.8,995.4 630.0,994.2 630.2,995.6 630.5,995.6 630.7,994.3 630.9,993.5 631.1,993.6 631.4,993.3 631.6,990.1 631.8,994.9 632.0,995.8 632.3,995.6 632.5,992.1 632.7,993.4 633.0,997.0 633.2,997.0 633.4,992.0 633.6,990.7 633.9,995.0 634.1,990.8 634.3,999.6 634.5,994.5 634.8,996.7 635.0,990.3 635.2,995.5 635.5,995.8 635.7,991.5 635.9,1000.2 636.1,995.6 636.4,996.8 636.6,995.1 636.8,996.5 637.0,997.8 637.3,997.1 637.5,997.3 637.7,992.3 638.0,996.4 638.2,993.4 638.4,997.4 638.6,994.9 638.9,992.5 639.1,1001.1 639.3,996.5 639.5,996.4 639.8,997.4 640.0,997.0 640.2,999.1 640.5,1001.4 640.7,996.3 640.9,998.9 641.1,998.9 641.4,993.9 641.6,998.8 641.8,999.4 642.0,996.6 642.3,996.1 642.5,994.3 642.7,999.3 643.0,995.0 643.2,997.1 643.4,993.2 643.6,995.8 643.9,992.2 644.1,994.3 644.3,998.2 644.5,993.4 644.8,993.5 645.0,994.2 645.2,994.8 645.5,993.0 645.7,996.3 645.9,994.3 646.1,997.5 646.4,996.8 646.6,996.2 646.8,996.4 647.0,996.7 647.3,990.9 647.5,1000.6 647.7,990.9 648.0,998.9 648.2,993.2 648.4,989.8 648.6,991.5 648.9,989.9 649.1,995.6 649.3,994.2 649.5,1001.7 649.8,995.2 650.0,992.9 650.2,998.2 650.4,1001.5 650.7,992.6 650.9,992.4 651.1,994.3 651.3,991.2 651.5,992.4 651.8,998.5 652.0,997.1 652.2,997.0 652.4,994.4 652.6,997.4 652.9,989.6 653.1,997.6 653.3,990.1 653.5,991.4 653.8,994.8 654.0,991.2 654.2,995.1 654.4,995.6 654.6,997.9 654.9,995.3 655.1,996.2 655.3,995.6 655.5,996.4 655.7,996.3 656.0,997.2 656.2,999.0 656.4,1000.9 656.6,999.1 656.8,992.5 657.1,999.8 657.3,995.0 657.5,997.2 657.7,1001.3 658.0,993.8 658.2,998.2 658.4,1000.5 658.6,999.9 658.9,998.9 659.1,996.6 659.3,1005.0 659.5,996.8 659.8,998.5 660.0,1002.2 660.2,1000.8 660.5,1002.4 660.7,1003.8 660.9,998.0 661.1,1002.0 661.4,999.0 661.6,1001.1 661.8,1000.6 662.0,998.9 662.3,1001.2 662.5,998.9 662.7,1007.6 663.0,1007.6 663.2,1001.5 663.4,997.6 663.6,995.2 663.9,997.1 664.1,1004.7 664.3,998.6 664.5,1000.7 664.8,1000.5 665.0,1000.5 665.2,1000.7 665.5,1001.0 665.7,1006.0 665.9,1002.9 666.1,1007.7 666.4,1003.2 666.6,1003.1 666.8,1007.8 667.0,1001.0 667.3,1006.2 667.5,1000.5 667.7,1005.9 668.0,1003.5 668.2,1004.5 668.4,1002.2 668.6,1009.3 668.9,1005.2 669.1,1001.9 669.3,1009.0 669.5,1002.0 669.8,1005.8 670.0,1006.4 670.2,1004.4 670.5,1006.2 670.7,1003.5 670.9,1005.9 671.1,1002.8 671.4,1003.5 671.6,1003.9 671.8,1005.8 672.0,1004.3 672.3,1009.1 672.5,1003.5 672.7,1011.2 673.0,1005.6 673.2,1005.5 673.4,1005.2 673.6,1008.2 673.9,1004.4 674.1,1007.7 674.3,1005.4 674.5,1001.9 674.8,1005.8 675.0,1010.7 675.2,1003.6 675.5,1008.2 675.7,1003.2 675.9,1009.0 676.1,1003.4 676.4,1004.6 676.6,1006.5 676.8,1006.9 677.0,1005.8 677.3,1010.9 677.5,1008.5 677.7,1005.0 678.0,1007.4 678.2,1006.6 678.4,1006.9 678.6,1005.1 678.9,1004.6 679.1,1005.8 679.3,1002.9 679.5,1005.1 679.8,1011.0 680.0,1004.0 680.2,999.9 680.5,1004.4 680.7,1003.1 680.9,1001.8 681.1,1004.2 681.4,1003.3 681.6,1006.1 681.8,1007.7 682.0,999.8 682.3,1003.0 682.5,999.5 682.7,1000.5 682.9,1003.6 683.2,1005.3 683.4,1002.7 683.6,1009.0 683.8,1000.1 684.0,1004.4 684.3,1005.0 684.5,1002.6 684.7,1004.7 684.9,1000.9 685.1,1002.4 685.4,1005.4 685.6,1003.1 685.8,1006.4 686.0,1006.9 686.2,1009.3 686.5,1007.5 686.7,1005.0 686.9,1004.5 687.1,1007.8 687.4,1005.2 687.6,1012.2 687.8,1006.8 688.0,1006.1 688.2,1004.9 688.5,1007.0 688.7,1006.6 688.9,1008.4 689.1,1005.8 689.3,1006.3 689.6,1007.3 689.8,1006.8 690.0,1005.4 690.2,1007.6 690.5,1007.2 690.7,1006.9 690.9,1008.1 691.1,1004.4 691.4,1007.2 691.6,1008.5 691.8,1007.1 692.0,1006.4 692.3,1004.9 692.5,1005.4 692.7,1002.9 693.0,1011.5 693.2,1007.1 693.4,1007.1 693.6,1008.1 693.9,1005.8 694.1,1006.2 694.3,1005.7 694.5,1002.9 694.8,999.7 695.0,1006.6 695.2,1007.2 695.5,1005.1 695.7,1002.6 695.9,1003.9 696.1,1004.1 696.4,1004.1 696.6,1001.3 696.8,1002.2 697.0,994.3 697.3,1000.7 697.5,999.7 697.7,994.0 697.9,996.0 698.2,996.9 698.4,998.0 698.6,996.3 698.8,996.6 699.1,992.7 699.3,992.0 699.5,992.8 699.8,988.4 700.0,986.7 700.2,990.4 700.5,987.2 700.8,986.9 701.0,989.1 701.2,978.0 701.5,981.7 701.8,982.2 702.0,976.7 702.2,979.3 702.5,971.7 702.8,966.7 703.0,960.9 703.2,955.3 703.5,949.3 703.8,943.7 704.0,936.9 704.2,930.6 704.5,925.1 704.8,910.0 705.0,895.0 705.3,880.0 705.6,810.0 705.9,777.5 706.1,745.0 706.4,712.5 706.6,680.0 706.8,652.0 707.0,624.0 707.3,596.0 707.5,568.0 707.7,540.0 707.8,270.0 708.0,165.0 708.3,60.0 708.5,53.2 708.8,46.3 709.0,39.5 709.3,46.3 709.5,53.2 709.8,60.0 710.0,104.0 710.3,148.0 710.5,192.0 710.8,236.0 711.0,280.0 711.2,410.0 711.5,540.0 711.8,605.0 712.0,670.0 712.2,735.0 712.5,800.0 712.9,925.0 713.2,962.5 713.5,968.1 713.8,975.0 714.0,981.5 714.2,987.9 714.5,989.0 714.7,993.7 714.9,991.0 715.1,991.1 715.4,992.7 715.6,996.3 715.8,990.7 716.0,1002.8 716.2,1001.8 716.5,998.9 716.7,1000.0 716.9,1002.7 717.1,1006.0 717.4,998.3 717.6,1005.3 717.8,1003.9 718.0,1002.0 718.2,1005.0 718.5,1002.1 718.7,1000.9 718.9,1000.6 719.1,1010.8 719.3,1004.8 719.6,1005.5 719.8,1006.5 720.0,1006.3 720.2,1005.0 720.5,1009.6 720.7,1008.6 720.9,1009.4 721.1,1005.1 721.4,1012.0 721.6,1009.7 721.8,1011.7 722.0,1008.2 722.3,1008.6 722.5,1006.4 722.7,1013.3 723.0,1010.9 723.2,1007.4 723.4,1010.4 723.6,1010.6 723.9,1011.2 724.1,1013.4 724.3,1013.8 724.5,1012.5 724.8,1009.2 725.0,1009.7 725.2,1009.7 725.5,1010.0 725.7,1012.6 725.9,1010.1 726.1,1010.9 726.4,1013.0 726.6,1009.9 726.8,1015.6 727.0,1006.0 727.3,1012.3 727.5,1008.4 727.7,1010.8 728.0,1010.1 728.2,1010.0 728.4,1008.1 728.6,1010.5 728.9,1007.7 729.1,1010.2 729.3,1008.1 729.5,1006.8 729.8,1012.5 730.0,1009.5 730.2,1007.2 730.4,1010.0 730.7,1010.2 730.9,1012.2 731.1,1008.6 731.3,1009.2 731.5,1004.6 731.8,1011.5 732.0,1005.1 732.2,1006.3 732.4,1006.3 732.6,1007.5 732.9,1005.2 733.1,1004.6 733.3,1004.6 733.5,1008.0 733.8,1006.6 734.0,1004.2 734.2,1002.6 734.4,997.4 734.6,997.4 734.9,994.1 735.1,1001.0 735.3,989.9 735.5,989.7 735.8,989.6 736.0,988.6 736.2,983.0 736.5,982.6 736.8,986.3 737.0,977.1 737.2,982.9 737.5,979.1 737.8,975.6 738.0,977.2 738.2,975.8 738.5,976.1 738.8,976.0 739.0,975.5 739.2,975.6 739.5,977.1 739.8,977.0 740.0,983.6 740.2,980.8 740.5,983.4 740.8,980.9 741.0,975.9 741.2,981.1 741.4,983.2 741.7,979.9 741.9,986.2 742.1,985.4 742.3,980.3 742.6,989.2 742.8,988.4 743.0,987.7 743.2,986.6 743.5,991.9 743.7,982.4 743.9,987.7 744.2,993.0 744.4,993.9 744.6,991.4 744.9,995.0 745.1,989.4 745.3,988.2 745.6,996.7 745.8,995.0 746.0,991.8 746.2,994.6 746.5,993.8 746.7,993.3 746.9,995.5 747.2,998.4 747.4,992.3 747.6,994.8 747.8,996.8 748.1,996.0 748.3,998.4 748.5,995.6 748.8,998.9 749.0,1003.6 749.2,1002.9 749.5,1005.2 749.8,1008.7 750.0,1013.0 750.2,1009.2 750.5,1011.0 750.7,1015.9 750.9,1016.6 751.2,1014.0 751.4,1016.1 751.6,1018.3 751.8,1020.8 752.1,1022.2 752.3,1025.5 752.5,1028.6 752.8,1029.0 753.0,1027.1 753.2,1028.8 753.5,1028.4 753.7,1028.8 753.9,1032.7 754.2,1031.8 754.4,1026.9 754.6,1031.3 754.9,1033.8 755.1,1028.8 755.3,1033.3 755.6,1036.0 755.8,1028.7 756.0,1031.5 756.2,1030.7 756.5,1033.1 756.7,1032.7 756.9,1034.6 757.1,1031.8 757.4,1030.5 757.6,1030.4 757.8,1032.5 758.0,1027.8 758.2,1028.8 758.5,1027.6 758.7,1027.8 758.9,1030.7 759.1,1026.5 759.3,1029.7 759.6,1025.4 759.8,1024.3 760.0,1023.2 760.2,1031.3 760.4,1025.7 760.7,1028.3 760.9,1024.9 761.1,1025.5 761.3,1023.1 761.5,1027.2 761.8,1025.9 762.0,1022.7 762.2,1025.7 762.4,1026.4 762.6,1026.1 762.9,1024.2 763.1,1025.6 763.3,1025.2 763.5,1022.9 763.8,1018.8 764.0,1020.4 764.2,1025.7 764.4,1020.9 764.6,1022.4 764.9,1022.1 765.1,1021.0 765.3,1026.3 765.5,1021.3 765.7,1025.8 766.0,1022.7 766.2,1021.8 766.4,1022.7 766.6,1019.6 766.8,1023.0 767.1,1023.7 767.3,1022.7 767.5,1022.7 767.7,1020.7 767.9,1023.6 768.2,1020.4 768.4,1020.8 768.6,1020.0 768.8,1024.8 769.0,1021.8 769.3,1020.6 769.5,1023.9 769.7,1020.2 769.9,1018.2 770.1,1021.2 770.4,1021.8 770.6,1022.7 770.8,1016.2 771.0,1018.6 771.2,1022.6 771.5,1019.8 771.7,1016.9 771.9,1011.8 772.1,1014.3 772.4,1011.3 772.6,1009.2 772.8,1010.9 773.0,1006.7 773.2,1007.8 773.5,1006.3 773.8,1001.0 774.0,1000.9 774.2,998.9 774.5,995.9 774.8,988.4 775.0,984.9 775.2,983.0 775.4,979.7 775.7,979.8 775.9,980.8 776.1,978.5 776.3,977.8 776.6,978.9 776.8,971.7 777.0,970.8 777.2,971.2 777.5,970.9 777.8,971.4 778.0,977.6 778.2,981.8 778.5,979.1 778.8,982.6 779.0,987.4 779.2,992.5 779.5,995.4 779.8,1000.7 780.0,1004.2 780.2,1007.9 780.5,1013.4 780.8,1017.5 781.0,1020.8 781.2,1024.4 781.5,1023.6 781.8,1025.7 782.0,1031.5 782.2,1030.4 782.5,1031.7 782.8,1033.7 783.0,1033.9 783.2,1033.9 783.5,1031.0 783.7,1034.6 783.9,1029.5 784.2,1032.3 784.4,1024.9 784.6,1027.6 784.9,1026.3 785.1,1029.3 785.3,1024.7 785.6,1024.0 785.8,1027.6 786.0,1028.8 786.2,1026.8 786.5,1029.5 786.7,1026.5 786.9,1022.0 787.1,1019.6 787.4,1022.5 787.6,1022.0 787.8,1021.1 788.0,1023.2 788.2,1026.4 788.5,1025.1 788.7,1023.3 788.9,1023.7 789.1,1020.6 789.3,1024.8 789.6,1020.1 789.8,1022.5 790.0,1019.6 790.2,1019.3 790.4,1020.9 790.7,1022.0 790.9,1014.1 791.1,1017.4 791.3,1021.1 791.6,1015.6 791.8,1014.7 792.0,1013.2 792.2,1007.7 792.5,1003.0 792.8,997.6 793.0,991.7 793.2,987.6 793.5,979.5 793.8,972.0 794.0,963.0 794.2,955.2 794.5,948.2 794.8,939.9 795.0,933.1 795.2,924.7 795.5,918.0 795.8,912.1 796.0,912.6 796.2,912.4 796.5,911.8 796.8,914.6 797.0,913.3 797.2,922.4 797.5,915.0 797.8,919.3 798.0,924.6 798.2,930.7 798.5,937.9 798.8,943.4 799.0,948.9 799.2,956.4 799.5,963.0 799.8,968.9 800.0,974.7 800.2,975.4 800.5,979.0 800.8,984.8 801.0,990.5 801.2,987.8 801.5,986.9 801.8,986.1 802.0,982.0 802.2,978.1 802.5,974.9 802.8,966.4 803.0,957.5 803.2,948.6 803.5,939.5 803.8,932.1 804.0,923.9 804.2,915.8 804.5,907.2 804.8,906.2 805.0,901.9 805.2,896.5 805.5,890.6 805.8,890.9 806.0,893.9 806.2,880.1 806.5,890.9 806.8,886.7 807.0,887.2 807.2,888.6 807.5,891.4 807.7,886.6 807.9,878.5 808.2,885.5 808.4,883.8 808.6,879.5 808.8,886.1 809.1,876.1 809.3,881.1 809.5,879.1 809.8,873.2 810.0,870.3 810.2,865.3 810.5,861.8 810.8,858.6 811.0,854.4 811.2,853.6 811.5,849.4 811.8,847.6 812.0,844.6 812.2,846.4 812.5,834.7 812.8,834.5 813.0,834.1 813.2,830.0 813.5,825.0 813.8,819.6 814.0,819.5 814.2,810.8 814.5,806.3 814.8,803.7 815.0,795.2 815.2,791.9 815.5,788.2 815.8,780.2 816.0,785.5 816.2,780.9 816.5,772.1 816.8,763.1 817.0,754.9 817.3,742.3 817.6,730.4 817.9,721.8 818.2,712.0 818.6,696.2 819.0,712.6 819.4,737.4 819.8,783.2 820.1,810.0 820.5,836.3 820.8,848.1 821.0,859.8 821.2,874.3 821.5,889.0 821.8,907.0 822.0,925.0 822.2,936.4 822.5,948.4 822.8,960.1 823.0,969.2 823.2,978.6 823.5,988.3 823.8,997.3 824.0,1000.5 824.2,1004.2 824.4,999.9 824.7,1004.0 824.9,1005.5 825.1,1007.1 825.3,1008.0 825.6,1009.4 825.8,1008.6 826.0,1011.0 826.2,1014.1 826.5,1015.7 826.7,1014.2 826.9,1016.0 827.1,1014.5 827.4,1012.8 827.6,1014.2 827.8,1014.8 828.0,1008.6 828.2,1012.8 828.5,1008.3 828.7,1014.3 828.9,1015.4 829.1,1013.6 829.3,1014.5 829.6,1013.3 829.8,1013.9 830.0,1011.6 830.2,1017.2 830.5,1012.7 830.7,1012.3 830.9,1008.2 831.1,1008.8 831.4,1008.4 831.6,1005.1 831.8,1002.3 832.0,1005.6 832.3,999.3 832.5,1000.8 832.7,998.0 832.9,992.1 833.2,993.6 833.4,989.6 833.6,985.3 833.8,985.0 834.1,978.7 834.3,980.0 834.5,975.1 834.8,967.7 835.0,961.0 835.2,953.3 835.5,945.8 835.8,938.9 836.0,935.0 836.2,928.4 836.5,926.2 836.8,922.4 837.0,921.2 837.2,921.6 837.5,918.3 837.8,918.3 838.0,917.5 838.2,919.3 838.5,925.4 838.8,925.7 839.0,923.3 839.2,924.4 839.5,928.3 839.8,933.2 840.0,939.2 840.2,946.9 840.5,950.1 840.8,957.3 841.0,965.3 841.2,973.1 841.5,980.0 841.8,987.6 842.0,993.1 842.2,996.0 842.5,999.8 842.8,1003.7 843.0,1009.0 843.2,1012.1 843.5,1013.5 843.7,1016.1 843.9,1013.1 844.2,1013.2 844.4,1017.8 844.6,1017.6 844.9,1017.9 845.1,1018.8 845.3,1023.9 845.6,1023.7 845.8,1023.5 846.0,1024.8 846.2,1025.7 846.5,1025.1 846.7,1023.4 846.9,1025.9 847.2,1028.7 847.4,1031.4 847.6,1027.0 847.8,1026.9 848.1,1025.6 848.3,1029.5 848.5,1024.3 848.8,1026.3 849.0,1025.7 849.2,1026.9 849.4,1029.2 849.7,1028.3 849.9,1026.9 850.1,1029.2 850.3,1031.5 850.6,1029.0 850.8,1026.0 851.0,1029.8 851.2,1033.0 851.5,1029.7 851.7,1031.0 851.9,1030.1 852.1,1030.2 852.4,1030.1 852.6,1034.4 852.8,1030.6 853.0,1026.6 853.2,1031.2 853.5,1029.2 853.7,1030.6 853.9,1030.0 854.1,1029.0 854.3,1029.4 854.6,1028.4 854.8,1026.6 855.0,1029.1 855.2,1024.6 855.4,1024.5 855.7,1027.2 855.9,1025.7 856.1,1021.6 856.3,1021.2 856.6,1019.6 856.8,1017.0 857.0,1014.7 857.2,1007.9 857.5,1001.8 857.8,994.2 858.0,987.3 858.2,980.9 858.5,973.4 858.8,968.7 859.0,963.0 859.2,959.7 859.5,954.1 859.8,950.8 860.0,944.7 860.2,938.9 860.4,939.0 860.7,932.6 860.9,934.9 861.1,937.9 861.3,932.3 861.6,933.0 861.8,932.6 862.0,932.2 862.2,935.5 862.5,942.6 862.8,939.0 863.0,940.8 863.2,943.7 863.5,953.9 863.8,964.7 864.0,975.1 864.2,984.3 864.5,994.0 864.8,1003.3 865.0,1012.6 865.2,1015.9 865.5,1020.7 865.8,1024.3 866.0,1029.0 866.2,1033.7 866.5,1038.5 866.8,1041.2 867.0,1041.8 867.2,1040.4 867.5,1042.1 867.8,1045.2 868.0,1047.7 868.2,1046.0 868.4,1046.0 868.7,1046.0 868.9,1046.2 869.1,1043.1 869.3,1042.1 869.6,1040.2 869.8,1042.0 870.0,1038.9 870.2,1034.1 870.5,1033.3 870.8,1029.0 871.0,1023.4 871.2,1018.4 871.5,1017.1 871.8,1012.4 872.0,1007.4 872.2,1003.1 872.5,1002.1 872.8,997.0 873.0,994.4 873.2,992.1 873.5,994.7 873.8,990.5 874.0,991.1 874.2,990.0 874.5,995.2 874.8,991.8 875.0,992.4 875.2,997.9 875.5,999.2 875.8,1001.0 876.0,1005.3 876.2,1010.5 876.5,1013.7 876.8,1016.1 877.0,1020.9 877.2,1025.4 877.5,1028.9 877.8,1032.7 878.0,1035.9 878.2,1038.5 878.5,1043.6 878.8,1047.4 879.0,1047.7 879.2,1050.4 879.4,1052.3 879.6,1052.7 879.9,1054.3 880.1,1050.9 880.3,1054.8 880.5,1054.2 880.8,1056.1 881.0,1054.1 881.2,1052.9 881.4,1055.9 881.6,1055.0 881.9,1052.2 882.1,1050.2 882.3,1051.8 882.5,1049.4 882.8,1049.5 883.0,1049.0 883.2,1044.7 883.4,1043.0 883.7,1042.1 883.9,1038.8 884.1,1033.8 884.3,1030.0 884.6,1028.5 884.8,1028.9 885.0,1024.7 885.2,1018.6 885.5,1012.4 885.8,1006.8 886.0,1000.9 886.2,993.8 886.5,991.1 886.8,985.9 887.0,982.3 887.2,977.6 887.5,975.0 887.8,973.4 888.0,979.4 888.2,971.9 888.5,971.5 888.8,979.1 889.0,971.8 889.2,972.0 889.5,975.8 889.8,977.7 890.0,979.1 890.2,982.9 890.5,986.5 890.8,990.3 891.0,993.8 891.2,998.8 891.5,1000.9 891.8,1004.7 892.0,1009.7 892.2,1016.3 892.5,1021.8 892.8,1027.1 893.0,1032.1 893.2,1037.5 893.5,1040.1 893.7,1039.8 893.9,1043.1 894.1,1045.6 894.4,1050.0 894.6,1052.8 894.8,1051.6 895.0,1059.5 895.3,1058.7 895.5,1056.9 895.7,1061.0 896.0,1062.0 896.2,1060.5 896.4,1061.9 896.7,1059.8 896.9,1062.4 897.1,1062.2 897.4,1063.7 897.6,1064.2 897.8,1063.8 898.1,1060.3 898.3,1064.6 898.5,1064.4 898.8,1064.0 899.0,1064.2 899.2,1064.6 899.4,1063.1 899.7,1062.2 899.9,1063.7 900.1,1059.6 900.3,1059.7 900.6,1061.4 900.8,1060.7 901.0,1059.7 901.2,1060.0 901.5,1056.6 901.8,1050.3 902.0,1049.9 902.2,1048.9 902.5,1042.6 902.8,1041.2 903.0,1037.2 903.2,1030.6 903.5,1024.4 903.8,1017.5 904.0,1010.5 904.2,1004.6 904.5,997.3 904.8,992.3 905.0,986.4 905.2,980.3 905.5,975.5 905.8,969.8 906.0,972.7 906.2,964.8 906.5,966.7 906.8,965.2 907.0,968.2 907.2,963.2 907.5,963.6 907.8,966.4 908.0,968.9 908.2,967.5 908.5,966.5 908.8,967.5 909.0,972.8 909.2,976.5 909.5,981.4 909.8,985.8 910.0,990.1 910.2,997.3 910.5,1005.4 910.8,1012.7 911.0,1020.0 911.2,1023.9 911.5,1022.2 911.8,1024.9 912.0,1029.1 912.2,1028.0 912.5,1029.3 912.7,1029.3 913.0,1028.5 913.2,1030.9 913.4,1031.8 913.6,1033.5 913.9,1029.0 914.1,1033.9 914.3,1030.9 914.5,1033.6 914.8,1036.5 915.0,1031.5 915.2,1036.8 915.5,1032.9 915.7,1033.0 915.9,1032.2 916.2,1034.4 916.4,1038.0 916.6,1031.3 916.8,1029.9 917.1,1034.6 917.3,1038.7 917.5,1035.2 917.8,1037.5 918.0,1031.1 918.2,1038.3 918.5,1038.1 918.8,1040.6 919.0,1044.4 919.2,1045.3 919.5,1048.5 919.8,1048.7 920.0,1053.3 920.2,1052.6 920.5,1060.1 920.8,1062.7 921.0,1062.7 921.2,1062.5 921.5,1067.5 921.7,1066.0 921.9,1067.3 922.2,1066.2 922.4,1069.9 922.6,1068.5 922.8,1069.5 923.1,1070.4 923.3,1070.6 923.5,1072.2 923.8,1074.1 924.0,1072.5 924.2,1072.8 924.4,1072.4 924.7,1072.9 924.9,1071.7 925.1,1070.7 925.3,1073.5 925.6,1074.1 925.8,1072.1 926.0,1070.9 926.2,1071.3 926.5,1071.4 926.7,1070.3 926.9,1068.0 927.2,1066.7 927.4,1067.1 927.6,1067.0 927.8,1065.5 928.1,1063.8 928.3,1062.7 928.5,1063.7 928.8,1059.4 929.0,1059.7 929.2,1060.8 929.4,1055.5 929.7,1056.9 929.9,1058.1 930.1,1053.4 930.3,1050.8 930.6,1048.7 930.8,1052.5 931.0,1045.9 931.2,1048.4 931.5,1044.7 931.7,1047.2 931.9,1046.4 932.1,1046.8 932.4,1042.5 932.6,1043.7 932.8,1042.8 933.0,1043.0 933.2,1043.7 933.5,1042.6 933.8,1044.0 934.0,1043.2 934.2,1044.2 934.5,1045.1 934.8,1042.2 935.0,1042.7 935.2,1046.5 935.5,1044.4 935.8,1043.6 936.0,1047.6 936.2,1046.0 936.5,1044.0 936.7,1050.3 937.0,1051.8 937.2,1054.7 937.4,1055.0 937.6,1055.5 937.9,1053.1 938.1,1058.4 938.3,1061.4 938.5,1059.2 938.8,1063.8 939.0,1064.7 939.2,1064.0 939.4,1065.5 939.7,1065.5 939.9,1063.9 940.1,1065.6 940.3,1068.7 940.6,1068.2 940.8,1070.7 941.0,1072.4 941.2,1072.3 941.5,1071.3 941.7,1070.6 941.9,1070.9 942.1,1075.4 942.4,1072.7 942.6,1074.1 942.8,1075.4 943.0,1074.3 943.2,1073.3 943.5,1071.9 943.7,1073.2 943.9,1074.4 944.1,1075.1 944.3,1075.9 944.6,1073.4 944.8,1075.1 945.0,1074.2 945.2,1074.8 945.5,1075.8 945.7,1073.6 945.9,1075.9 946.1,1076.0 946.4,1076.2 946.6,1076.1 946.8,1074.4 947.0,1075.5 947.3,1077.1 947.5,1075.0 947.7,1074.1 948.0,1076.5 948.2,1075.0 948.4,1074.9 948.6,1073.7 948.9,1075.2 949.1,1075.0 949.3,1076.6 949.5,1074.4 949.8,1074.0 950.0,1076.2 950.2,1074.8 950.4,1073.5 950.7,1076.9 950.9,1075.2 951.1,1074.9 951.3,1075.4 951.5,1074.7 951.8,1074.7 952.0,1074.9 952.2,1072.8 952.4,1073.6 952.6,1071.7 952.9,1072.3 953.1,1072.7 953.3,1073.5 953.5,1074.0 953.8,1072.4 954.0,1072.3 954.2,1071.4 954.4,1070.1 954.7,1068.2 954.9,1071.0 955.1,1067.4 955.4,1069.5 955.6,1067.9 955.8,1069.6 956.1,1064.2 956.3,1065.8 956.5,1062.3 956.8,1065.5 957.0,1061.3 957.2,1060.4 957.5,1061.0 957.7,1060.0 957.9,1058.3 958.2,1056.7 958.4,1056.5 958.6,1056.3 958.8,1055.3 959.1,1052.8 959.3,1056.0 959.5,1051.7 959.8,1051.8 960.0,1047.0 960.2,1047.4 960.5,1047.6 960.7,1041.2 960.9,1044.6 961.2,1042.6 961.4,1040.9 961.6,1042.4 961.9,1042.2 962.1,1037.1 962.3,1035.4 962.6,1038.6 962.8,1036.1 963.0,1034.0 963.2,1033.9 963.5,1033.0 963.8,1033.9 964.0,1033.5 964.2,1034.7 964.5,1032.4 964.8,1035.7 965.0,1032.0 965.2,1040.6 965.5,1039.2 965.8,1041.9 966.0,1045.1 966.2,1044.9 966.5,1044.2 966.8,1042.0 967.0,1038.5 967.2,1035.1 967.5,1032.4 967.8,1028.3 968.0,1024.2 968.2,1022.1 968.5,1021.4 968.8,1020.1 969.0,1017.0 969.2,1021.7 969.5,1028.0 969.8,1032.5 970.0,1037.3 970.2,1040.7 970.5,1045.5 970.8,1048.9 971.0,1053.9 971.2,1056.5 971.5,1056.8 971.8,1061.5 972.0,1062.3 972.2,1066.4 972.5,1066.1 972.8,1067.9 973.0,1068.0 973.2,1067.3 973.5,1070.9 973.8,1065.6 974.0,1063.4 974.2,1064.8 974.5,1065.8 974.8,1063.2 975.0,1061.0 975.2,1057.8 975.5,1052.6 975.8,1054.5 976.0,1055.2 976.2,1048.3 976.5,1052.6 976.8,1047.2 977.0,1047.6 977.2,1045.8 977.5,1042.0 977.8,1043.9 978.0,1044.5 978.2,1039.1 978.4,1041.1 978.7,1038.3 978.9,1040.1 979.1,1040.3 979.3,1038.4 979.6,1036.0 979.8,1039.5 980.0,1037.5 980.2,1031.8 980.5,1031.0 980.8,1029.1 981.0,1028.9 981.2,1029.2 981.5,1024.5 981.8,1020.2 982.0,1021.1 982.2,1023.3 982.5,1021.5 982.8,1018.0 983.0,1024.8 983.2,1024.9 983.5,1020.7 983.8,1017.7 984.0,1018.4 984.2,1019.8 984.5,1015.9 984.8,1020.8 985.0,1020.6 985.2,1022.6 985.5,1021.2 985.8,1025.5 986.0,1023.6 986.2,1027.6 986.5,1028.0 986.8,1026.2 987.0,1029.1 987.2,1026.8 987.5,1031.1 987.8,1028.3 988.0,1028.0 988.2,1027.6 988.5,1022.5 988.8,1019.0 989.0,1019.0 989.2,1015.2 989.5,1011.7 989.8,1006.9 990.0,1004.6 990.2,1001.3 990.5,1003.7 990.8,994.2 991.0,993.8 991.2,996.8 991.5,991.3 991.8,983.7 992.0,987.3 992.2,992.3 992.4,986.7 992.6,988.4 992.9,985.3 993.1,981.9 993.3,984.4 993.5,984.3 993.8,983.3 994.0,984.2 994.2,983.6 994.5,981.9 994.8,991.5 995.0,989.9 995.2,999.1 995.5,1007.6 995.8,1016.4 996.0,1025.0 996.2,1029.0 996.5,1033.1 996.8,1037.2 997.0,1040.0 997.2,1030.8 997.5,1021.7 997.8,1012.6 998.0,1003.9 998.2,996.0 998.5,987.1 998.8,985.7 999.0,982.8 999.2,975.7 999.5,970.9 999.8,975.3 1000.0,971.1 1000.2,973.5 1000.5,971.6 1000.8,969.1 1001.0,965.8 1001.2,973.9 1001.5,971.8 1001.8,975.0 1002.0,1012.5 1002.2,1040.0 1002.5,1046.0 1002.8,1051.3 1003.0,1056.6 1003.2,1063.2 1003.5,1063.8 1003.8,1065.5 1004.0,1066.2 1004.2,1071.8 1004.5,1071.5 1004.8,1073.3 1005.0,1072.7 1005.2,1073.3 1005.5,1074.6 1005.8,1074.5 1006.0,1073.7 1006.2,1073.9 1006.5,1075.0 1006.8,1073.9 1007.0,1073.4 1007.2,1070.2 1007.5,1065.5 1007.8,1063.9 1008.0,1063.2 1008.2,1061.5 1008.5,1059.6 1008.8,1057.4 1009.0,1056.4 1009.2,1053.9 1009.5,1053.4 1009.8,1051.0 1010.0,1049.8 1010.2,1052.8 1010.5,1051.4 1010.8,1052.9 1011.0,1048.5 1011.2,1052.9 1011.5,1051.1 1011.8,1055.3 1012.0,1053.1 1012.2,1060.0 1012.5,1060.0 1012.8,1063.0 1013.0,1059.8 1013.2,1063.5 1013.5,1065.5 1013.8,1067.5 1014.0,1072.0 1014.2,1071.9 1014.5,1075.8 1014.7,1076.8 1015.0,1074.9 1015.2,1075.6 1015.4,1078.9 1015.6,1080.9 1015.9,1080.3 1016.1,1079.5 1016.3,1081.5 1016.5,1083.0 1016.8,1082.9 1017.0,1084.1 1017.2,1086.4 1017.5,1083.6 1017.7,1082.6 1017.9,1083.0 1018.2,1081.0 1018.4,1082.5 1018.6,1082.5 1018.8,1082.8 1019.1,1084.2 1019.3,1080.0 1019.5,1084.6 1019.8,1081.3 1020.0,1083.7 1020.2,1082.0 1020.5,1082.0 1020.7,1083.9 1020.9,1082.1 1021.2,1079.1 1021.4,1081.1 1021.6,1079.3 1021.8,1079.9 1022.1,1078.0 1022.3,1080.0 1022.5,1077.0 1022.8,1077.6 1023.0,1076.2 1023.2,1076.3 1023.4,1075.4 1023.7,1073.2 1023.9,1072.4 1024.1,1071.7 1024.3,1070.8 1024.6,1067.9 1024.8,1067.5 1025.0,1065.9 1025.2,1064.8 1025.4,1062.6 1025.7,1061.1 1025.9,1061.6 1026.1,1056.2 1026.3,1056.6 1026.6,1058.2 1026.8,1053.2 1027.0,1050.9 1027.2,1049.7 1027.4,1051.1 1027.7,1052.9 1027.9,1053.2 1028.1,1051.9 1028.3,1050.9 1028.6,1049.7 1028.8,1050.1 1029.0,1049.5 1029.2,1050.2 1029.5,1050.6 1029.8,1053.3 1030.0,1056.5 1030.2,1054.0 1030.5,1057.5 1030.8,1058.9 1031.0,1059.3 1031.2,1063.2 1031.5,1064.8 1031.8,1066.7 1032.0,1070.0 1032.2,1072.2 1032.5,1070.3 1032.8,1075.1 1033.0,1074.1 1033.2,1076.1 1033.5,1076.8 1033.8,1078.9 1034.0,1078.8 1034.2,1079.4 1034.4,1079.2 1034.6,1075.6 1034.9,1079.1 1035.1,1075.2 1035.3,1075.8 1035.5,1075.7 1035.8,1077.1 1036.0,1072.1 1036.2,1073.2 1036.5,1071.8 1036.8,1069.6 1037.0,1071.1 1037.2,1067.5 1037.5,1067.0 1037.8,1066.6 1038.0,1065.2 1038.2,1066.2 1038.5,1061.3 1038.8,1063.0 1039.0,1064.4 1039.2,1064.4 1039.5,1064.9 1039.8,1064.9 1040.0,1064.6 1040.2,1067.9 1040.5,1068.7 1040.8,1068.2 1041.0,1067.8 1041.2,1069.6 1041.4,1069.9 1041.7,1071.5 1041.9,1074.4 1042.1,1075.5 1042.3,1079.3 1042.6,1076.2 1042.8,1077.6 1043.0,1081.4 1043.2,1079.4 1043.4,1081.3 1043.7,1081.1 1043.9,1081.4 1044.1,1081.6 1044.3,1083.0 1044.6,1083.0 1044.8,1081.6 1045.0,1081.7 1045.2,1082.1 1045.5,1081.0 1045.7,1077.6 1045.9,1079.8 1046.1,1081.0 1046.4,1077.2 1046.6,1076.9 1046.8,1075.4 1047.0,1076.7 1047.3,1075.2 1047.5,1073.8 1047.8,1073.0 1048.0,1073.2 1048.2,1066.1 1048.5,1067.8 1048.8,1062.3 1049.0,1061.3 1049.2,1059.8 1049.5,1057.8 1049.7,1057.5 1049.9,1060.8 1050.2,1057.2 1050.4,1055.5 1050.6,1057.1 1050.8,1055.7 1051.0,1053.8 1051.3,1053.2 1051.5,1053.0 1051.8,1053.5 1052.0,1053.2 1052.2,1053.4 1052.5,1055.8 1052.8,1053.0 1053.0,1055.9 1053.2,1059.5 1053.5,1059.7 1053.8,1062.9 1054.0,1066.7 1054.2,1066.3 1054.5,1069.6 1054.8,1072.3 1055.0,1074.5 1055.2,1076.9 1055.5,1078.3 1055.8,1075.9 1056.0,1078.4 1056.2,1082.7 1056.5,1080.3 1056.7,1082.2 1056.9,1083.6 1057.2,1083.9 1057.4,1083.4 1057.6,1085.9 1057.8,1083.7 1058.1,1086.1 1058.3,1086.6 1058.5,1085.3 1058.8,1086.8 1059.0,1084.4 1059.2,1085.7 1059.4,1083.6 1059.7,1081.3 1059.9,1083.8 1060.1,1083.4 1060.3,1083.3 1060.6,1082.6 1060.8,1081.3 1061.0,1082.8 1061.2,1080.1 1061.5,1081.2 1061.7,1077.4 1061.9,1076.2 1062.2,1076.1 1062.4,1075.2 1062.6,1072.6 1062.8,1074.0 1063.1,1072.6 1063.3,1069.3 1063.5,1071.2 1063.8,1068.0 1064.0,1067.8 1064.2,1063.8 1064.5,1062.7 1064.8,1061.1 1065.0,1059.0 1065.2,1056.7 1065.5,1058.6 1065.8,1055.3 1066.0,1055.9 1066.2,1057.5 1066.5,1055.2 1066.8,1057.0 1067.0,1056.8 1067.2,1055.7 1067.5,1058.8 1067.8,1059.0 1068.0,1061.3 1068.2,1061.4 1068.5,1061.8 1068.7,1062.3 1068.9,1065.1 1069.2,1066.6 1069.4,1069.0 1069.6,1070.0 1069.8,1070.7 1070.0,1072.7 1070.3,1075.9 1070.5,1073.9 1070.7,1078.0 1070.9,1077.2 1071.2,1076.2 1071.4,1076.4 1071.6,1078.0 1071.8,1079.5 1072.1,1080.1 1072.3,1079.7 1072.5,1081.1 1072.7,1081.4 1072.9,1080.6 1073.2,1080.5 1073.4,1079.3 1073.6,1079.0 1073.8,1080.7 1074.1,1075.9 1074.3,1077.4 1074.5,1077.8 1074.8,1075.2 1075.0,1075.0 1075.2,1076.1 1075.5,1075.7 1075.8,1075.5 1076.0,1075.3 1076.2,1076.2 1076.5,1076.5 1076.8,1078.0 1077.0,1077.2 1077.2,1078.8 1077.5,1078.1 1077.8,1079.1 1078.0,1079.5 1078.2,1079.7 1078.4,1082.3 1078.7,1081.8 1078.9,1084.3 1079.1,1086.2 1079.3,1085.6 1079.6,1086.0 1079.8,1085.3 1080.0,1087.2 1080.2,1086.7 1080.5,1086.1 1080.7,1087.1 1080.9,1088.2 1081.1,1088.5 1081.4,1089.1 1081.6,1089.5 1081.8,1089.6 1082.0,1088.6 1082.3,1088.9 1082.5,1090.3 1082.7,1090.4 1083.0,1089.9 1083.2,1087.6 1083.4,1087.0 1083.6,1086.5 1083.9,1089.1 1084.1,1086.9 1084.3,1087.7 1084.5,1087.7 1084.8,1086.6 1085.0,1086.5 1085.2,1085.4 1085.5,1085.0 1085.7,1083.7 1085.9,1084.7 1086.1,1083.8 1086.4,1085.0 1086.6,1083.3 1086.8,1083.1 1087.0,1082.4 1087.3,1082.5 1087.5,1083.2 1087.7,1082.5 1088.0,1082.2 1088.2,1080.0 1088.4,1079.3 1088.6,1079.7 1088.9,1080.6 1089.1,1079.8 1089.3,1079.8 1089.6,1080.7 1089.8,1080.1 1090.0,1081.0 1090.2,1079.4 1090.5,1081.2 1090.7,1079.0 1090.9,1081.6 1091.2,1082.0 1091.4,1083.9 1091.6,1084.1 1091.8,1082.6 1092.0,1085.7 1092.3,1084.0 1092.5,1083.3 1092.7,1085.3 1093.0,1085.2 1093.2,1087.7 1093.4,1086.7 1093.6,1085.4 1093.9,1084.0 1094.1,1087.6 1094.3,1086.4 1094.5,1085.7 1094.8,1085.0 1095.0,1086.5 1095.2,1086.0 1095.5,1084.8 1095.7,1087.1 1095.9,1083.1 1096.1,1086.4 1096.4,1085.3 1096.6,1087.0 1096.8,1083.6 1097.0,1083.2 1097.3,1086.6 1097.5,1083.8 1097.7,1085.3 1098.0,1086.8 1098.2,1086.2 1098.4,1086.0 1098.6,1086.5 1098.9,1086.4 1099.1,1087.6 1099.3,1085.6 1099.5,1086.7 1099.8,1086.6 1100.0,1089.0 1100.2,1087.0 1100.5,1087.8 1100.7,1087.2 1100.9,1088.6 1101.2,1090.4 1101.4,1088.2 1101.6,1089.2 1101.8,1090.3 1102.1,1089.2 1102.3,1088.0 1102.5,1089.0 1102.8,1091.4 1103.0,1092.1 1103.2,1093.2 1103.5,1091.3 1103.7,1092.4 1103.9,1091.2 1104.2,1090.5 1104.4,1090.3 1104.6,1089.9 1104.9,1088.4 1105.1,1088.6 1105.3,1089.2 1105.6,1089.5 1105.8,1089.4 1106.0,1087.5 1106.2,1088.3 1106.5,1087.5 1106.7,1088.5 1106.9,1087.1 1107.2,1087.5 1107.4,1085.5 1107.6,1085.2 1107.8,1087.0 1108.1,1084.6 1108.3,1084.2 1108.5,1083.7 1108.8,1084.5 1109.0,1084.3 1109.2,1083.0 1109.4,1082.5 1109.7,1081.7 1109.9,1081.6 1110.1,1081.5 1110.3,1078.6 1110.6,1079.5 1110.8,1079.2 1111.0,1079.0 1111.2,1077.4 1111.5,1077.4 1111.7,1079.0 1111.9,1077.1 1112.1,1076.0 1112.4,1077.9 1112.6,1077.7 1112.8,1078.2 1113.0,1075.5 1113.2,1074.0 1113.5,1077.7 1113.8,1076.3 1114.0,1075.3 1114.2,1072.8 1114.5,1075.0 1114.8,1074.9 1115.0,1074.5 1115.2,1075.9 1115.4,1074.7 1115.7,1076.4 1115.9,1074.9 1116.1,1075.6 1116.3,1075.1 1116.6,1075.5 1116.8,1077.9 1117.0,1075.0 1117.2,1077.7 1117.4,1078.0 1117.7,1077.6 1117.9,1077.9 1118.1,1079.7 1118.3,1078.8 1118.6,1080.1 1118.8,1081.1 1119.0,1080.8 1119.2,1079.9 1119.5,1082.0 1119.7,1082.2 1119.9,1082.8 1120.1,1083.4 1120.3,1082.0 1120.6,1084.5 1120.8,1086.7 1121.0,1084.7 1121.2,1086.4 1121.5,1085.8 1121.7,1085.9 1121.9,1088.1 1122.1,1086.6 1122.4,1087.2 1122.6,1088.1 1122.8,1089.0 1123.0,1087.9 1123.2,1089.4 1123.5,1088.4 1123.7,1086.0 1123.9,1089.1 1124.2,1086.9 1124.4,1085.3 1124.6,1087.1 1124.9,1084.8 1125.1,1082.8 1125.3,1085.6 1125.6,1083.5 1125.8,1082.9 1126.0,1083.5 1126.2,1082.6 1126.5,1081.4 1126.7,1082.9 1126.9,1082.2 1127.1,1077.9 1127.4,1075.4 1127.6,1075.8 1127.8,1078.2 1128.0,1072.5 1128.2,1074.2 1128.5,1074.5 1128.7,1073.2 1128.9,1074.4 1129.2,1074.0 1129.4,1071.6 1129.6,1072.2 1129.8,1070.7 1130.0,1071.4 1130.3,1070.5 1130.5,1068.8 1130.8,1069.2 1131.0,1069.2 1131.2,1069.6 1131.5,1069.4 1131.8,1070.1 1132.0,1070.3 1132.2,1070.2 1132.5,1072.4 1132.8,1069.0 1133.0,1072.0 1133.2,1072.6 1133.5,1074.6 1133.8,1075.1 1134.0,1079.7 1134.2,1080.7 1134.5,1081.4 1134.8,1084.0 1135.0,1088.7 1135.2,1088.8 1135.5,1088.8 1135.7,1088.6 1135.9,1089.1 1136.1,1091.9 1136.4,1091.5 1136.6,1092.3 1136.8,1091.5 1137.0,1092.9 1137.3,1091.9 1137.5,1092.3 1137.7,1095.0 1138.0,1093.3 1138.2,1095.3 1138.4,1096.1 1138.6,1094.1 1138.9,1094.6 1139.1,1093.9 1139.3,1093.8 1139.5,1096.2 1139.8,1094.5 1140.0,1095.1 1140.2,1093.8 1140.5,1095.5 1140.7,1095.0 1140.9,1095.0 1141.1,1093.5 1141.4,1093.3 1141.6,1094.1 1141.8,1093.4 1142.0,1093.2 1142.3,1093.5 1142.5,1095.6 1142.7,1094.4 1143.0,1095.2 1143.2,1093.2 1143.4,1093.4 1143.6,1093.6 1143.9,1095.5 1144.1,1093.9 1144.3,1092.7 1144.5,1092.7 1144.8,1093.1 1145.0,1092.7 1145.2,1093.0 1145.5,1092.1 1145.7,1093.1 1145.9,1093.3 1146.1,1091.6 1146.4,1092.7 1146.6,1093.9 1146.8,1092.3 1147.0,1092.3 1147.3,1090.9 1147.5,1092.3 1147.7,1091.4 1148.0,1091.6 1148.2,1089.8 1148.4,1087.9 1148.6,1088.1 1148.9,1088.7 1149.1,1087.6 1149.3,1086.5 1149.5,1087.9 1149.8,1085.8 1150.0,1085.3 1150.2,1083.7 1150.5,1082.3 1150.7,1085.0 1150.9,1083.6 1151.1,1083.1 1151.4,1081.4 1151.6,1079.5 1151.8,1081.3 1152.0,1080.8 1152.3,1079.8 1152.5,1078.1 1152.7,1079.7 1153.0,1077.0 1153.2,1076.1 1153.4,1078.3 1153.6,1076.1 1153.9,1078.2 1154.1,1077.7 1154.3,1076.3 1154.5,1076.6 1154.8,1077.3 1155.0,1076.0 1155.2,1077.0 1155.4,1076.0 1155.7,1076.1 1155.9,1078.0 1156.1,1076.8 1156.3,1079.2 1156.6,1076.9 1156.8,1079.2 1157.0,1078.5 1157.2,1077.7 1157.5,1079.0 1157.8,1078.1 1158.0,1081.3 1158.2,1079.2 1158.5,1083.2 1158.8,1082.4 1159.0,1082.3 1159.2,1081.4 1159.4,1085.6 1159.7,1084.8 1159.9,1085.5 1160.1,1086.0 1160.3,1087.6 1160.6,1087.9 1160.8,1089.9 1161.0,1088.8 1161.2,1092.4 1161.5,1089.2 1161.7,1090.3 1161.9,1090.7 1162.2,1091.0 1162.4,1091.2 1162.6,1091.0 1162.8,1092.1 1163.1,1092.5 1163.3,1091.5 1163.5,1093.3 1163.8,1093.3 1164.0,1094.7 1164.2,1094.2 1164.4,1093.7 1164.6,1092.9 1164.9,1094.6 1165.1,1094.9 1165.3,1094.9 1165.5,1095.4 1165.7,1094.1 1166.0,1094.1 1166.2,1095.1 1166.4,1094.1 1166.6,1095.5 1166.8,1094.2 1167.1,1095.7 1167.3,1093.9 1167.5,1094.0 1167.7,1095.2 1167.9,1094.3 1168.2,1095.9 1168.4,1095.0 1168.6,1094.3 1168.8,1094.9 1169.0,1093.7 1169.3,1094.7 1169.5,1093.9 1169.7,1094.0 1169.9,1094.3 1170.2,1094.6 1170.4,1095.1 1170.6,1095.1 1170.8,1095.7 1171.0,1096.1 1171.3,1096.0 1171.5,1096.2 1171.7,1094.4 1171.9,1093.1 1172.1,1093.0 1172.4,1094.2 1172.6,1093.5 1172.8,1094.4 1173.0,1093.2 1173.2,1094.4 1173.5,1094.1 1173.7,1092.4 1173.9,1095.7 1174.2,1091.9 1174.4,1093.2 1174.6,1094.5 1174.9,1093.0 1175.1,1093.6 1175.3,1093.4 1175.6,1092.9 1175.8,1092.7 1176.0,1094.9 1176.2,1094.0 1176.5,1093.0 1176.7,1094.6 1176.9,1093.0 1177.1,1094.6 1177.4,1093.2 1177.6,1094.3 1177.8,1092.8 1178.0,1092.4 1178.2,1093.0 1178.5,1095.1 1178.7,1096.1 1178.9,1095.4 1179.1,1095.6 1179.3,1094.2 1179.6,1096.0 1179.8,1097.1 1180.0,1095.6 1180.2,1095.1 1180.4,1095.5 1180.7,1096.6 1180.9,1096.3 1181.1,1098.5 1181.3,1097.8 1181.5,1097.4 1181.8,1097.7 1182.0,1097.0 1182.2,1096.4 1182.4,1097.2 1182.6,1097.2 1182.9,1097.1 1183.1,1097.9 1183.3,1097.6 1183.5,1097.3 1183.8,1099.1 1184.0,1097.8 1184.2,1098.3 1184.4,1097.1 1184.6,1099.3 1184.9,1097.1 1185.1,1098.6 1185.3,1096.8 1185.5,1097.6 1185.7,1096.3 1186.0,1096.7 1186.2,1096.4 1186.4,1097.0 1186.6,1097.2 1186.8,1098.1 1187.1,1095.8 1187.3,1097.5 1187.5,1097.5 1187.7,1095.3 1187.9,1095.9 1188.2,1095.8 1188.4,1096.2 1188.6,1096.0 1188.8,1094.0 1189.0,1097.7 1189.3,1096.7 1189.5,1094.9 1189.7,1095.7 1189.9,1095.6 1190.1,1095.7 1190.4,1095.5 1190.6,1093.7 1190.8,1095.0 1191.0,1094.8 1191.2,1095.7 1191.5,1094.1 1191.7,1095.6 1191.9,1093.7 1192.1,1095.4 1192.4,1096.3 1192.6,1093.7 1192.8,1095.0 1193.0,1094.7 1193.2,1094.7 1193.5,1095.8 1193.7,1095.2 1193.9,1096.6 1194.1,1095.3 1194.3,1095.8 1194.6,1095.8 1194.8,1095.5 1195.0,1095.0 1195.2,1095.2 1195.5,1095.7 1195.7,1095.8 1195.9,1093.4 1196.2,1094.2 1196.4,1094.8 1196.6,1095.4 1196.8,1093.0 1197.1,1093.5 1197.3,1093.3 1197.5,1092.9 1197.8,1092.2 1198.0,1091.9 1198.2,1090.7 1198.4,1091.9 1198.7,1089.8 1198.9,1090.4 1199.1,1086.8 1199.3,1087.9 1199.6,1087.2 1199.8,1083.5 1200.0,1083.5 1200.2,1084.1 1200.5,1080.0 1200.8,1078.0 1201.0,1076.0 1201.2,1074.4 1201.5,1073.4 1201.8,1070.0 1202.0,1064.3 1202.2,1058.4 1202.5,1052.9 1202.8,1047.5 1203.0,1042.2 1203.2,1036.9 1203.5,1030.0 1203.8,1023.9 1204.0,1016.5 1204.2,1010.3 1204.5,1004.1 1204.8,998.1 1205.0,994.8 1205.2,990.0 1205.5,984.8 1205.8,980.1 1206.0,977.2 1206.2,980.3 1206.5,982.4 1206.8,979.3 1207.0,977.3 1207.2,976.2 1207.5,978.9 1207.8,980.9 1208.0,981.9 1208.2,978.9 1208.5,980.4 1208.8,987.2 1209.0,993.6 1209.2,999.6 1209.5,1005.7 1209.8,1012.4 1210.0,1023.2 1210.2,1034.2 1210.5,1045.0 1210.8,1049.7 1211.0,1054.2 1211.2,1060.4 1211.5,1065.6 1211.8,1069.7 1212.0,1070.3 1212.2,1072.4 1212.4,1075.1 1212.6,1076.8 1212.9,1076.7 1213.1,1075.6 1213.3,1080.2 1213.5,1082.6 1213.8,1083.0 1214.0,1083.9 1214.2,1083.1 1214.4,1085.8 1214.7,1086.1 1214.9,1087.3 1215.1,1085.0 1215.3,1086.9 1215.6,1085.8 1215.8,1087.8 1216.0,1088.0 1216.2,1089.3 1216.5,1087.0 1216.7,1088.4 1216.9,1090.3 1217.1,1089.7 1217.4,1089.6 1217.6,1088.3 1217.8,1088.4 1218.0,1090.1 1218.2,1089.2 1218.5,1090.5 1218.7,1090.3 1218.9,1089.9 1219.1,1089.1 1219.3,1091.5 1219.6,1090.0 1219.8,1091.5 1220.0,1089.6 1220.2,1090.0 1220.5,1089.1 1220.7,1089.6 1220.9,1089.3 1221.2,1087.3 1221.4,1088.1 1221.6,1088.0 1221.8,1087.3 1222.1,1086.1 1222.3,1086.9 1222.5,1085.0 1222.8,1085.4 1223.0,1085.0 1223.2,1084.1 1223.5,1084.0 1223.7,1084.6 1223.9,1083.5 1224.1,1083.1 1224.4,1081.9 1224.6,1081.7 1224.8,1080.7 1225.0,1081.7 1225.3,1081.7 1225.5,1081.8 1225.7,1078.8 1226.0,1082.0 1226.2,1080.4 1226.4,1081.9 1226.6,1080.4 1226.8,1079.6 1227.1,1082.5 1227.3,1077.6 1227.5,1080.1 1227.8,1078.7 1228.0,1081.1 1228.2,1080.1 1228.4,1081.2 1228.7,1081.8 1228.9,1083.0 1229.1,1080.1 1229.3,1084.9 1229.6,1084.3 1229.8,1083.3 1230.0,1085.0 1230.2,1085.1 1230.5,1085.8 1230.7,1086.2 1230.9,1086.0 1231.2,1089.9 1231.4,1088.8 1231.6,1091.8 1231.8,1090.0 1232.0,1090.5 1232.3,1092.2 1232.5,1094.2 1232.7,1093.2 1233.0,1092.3 1233.2,1093.3 1233.4,1095.3 1233.6,1092.3 1233.9,1093.9 1234.1,1093.7 1234.3,1093.7 1234.5,1094.5 1234.8,1094.3 1235.0,1094.1 1235.2,1093.3 1235.5,1094.5 1235.7,1092.9 1235.9,1091.5 1236.2,1094.0 1236.4,1094.0 1236.6,1091.5 1236.8,1090.6 1237.1,1092.1 1237.3,1092.1 1237.5,1092.0 1237.8,1091.7 1238.0,1092.7 1238.2,1091.2 1238.5,1091.2 1238.7,1091.0 1238.9,1092.5 1239.1,1091.3 1239.4,1092.6 1239.6,1091.7 1239.8,1092.7 1240.0,1093.6 1240.3,1091.8 1240.5,1092.8 1240.7,1092.2 1241.0,1091.1 1241.2,1092.3 1241.4,1090.3 1241.7,1090.1 1241.9,1090.7 1242.1,1090.6 1242.4,1092.0 1242.6,1091.5 1242.8,1090.2 1243.1,1090.2 1243.3,1090.4 1243.5,1090.5 1243.8,1089.8 1244.0,1090.9 1244.2,1089.7 1244.4,1090.7 1244.6,1090.0 1244.9,1088.4 1245.1,1088.2 1245.3,1090.8 1245.5,1088.9 1245.7,1088.0 1246.0,1090.4 1246.2,1088.2 1246.4,1090.5 1246.6,1088.8 1246.8,1089.4 1247.1,1088.6 1247.3,1087.1 1247.5,1087.0 1247.7,1087.2 1247.9,1091.0 1248.2,1088.6 1248.4,1086.9 1248.6,1089.7 1248.8,1087.6 1249.0,1085.7 1249.3,1089.7 1249.5,1089.1 1249.7,1087.7 1249.9,1089.3 1250.1,1088.2 1250.4,1087.4 1250.6,1086.8 1250.8,1088.1 1251.0,1087.7 1251.2,1087.4 1251.5,1086.5 1251.7,1085.9 1251.9,1088.5 1252.2,1085.1 1252.4,1088.6 1252.6,1086.6 1252.9,1087.3 1253.1,1084.7 1253.3,1088.0 1253.6,1087.1 1253.8,1086.6 1254.0,1087.1 1254.3,1087.0 1254.5,1085.6 1254.7,1087.5 1255.0,1082.6 1255.2,1083.9 1255.4,1082.2 1255.6,1084.0 1255.8,1082.2 1256.1,1080.3 1256.3,1080.2 1256.5,1080.8 1256.8,1081.1 1257.0,1079.9 1257.2,1076.8 1257.5,1073.9 1257.8,1072.6 1258.0,1068.2 1258.2,1068.0 1258.5,1066.1 1258.8,1067.3 1259.0,1064.4 1259.2,1062.3 1259.5,1063.1 1259.8,1060.1 1260.0,1060.6 1260.2,1061.0 1260.5,1060.0 1260.8,1057.6 1261.0,1058.1 1261.2,1057.5 1261.5,1057.8 1261.8,1057.6 1262.0,1061.1 1262.2,1060.4 1262.5,1062.0 1262.8,1065.1 1263.0,1062.8 1263.2,1066.7 1263.4,1065.9 1263.7,1065.6 1263.9,1066.7 1264.1,1067.4 1264.3,1069.7 1264.5,1069.9 1264.8,1071.6 1265.0,1073.4 1265.2,1074.5 1265.5,1073.8 1265.7,1071.3 1265.9,1074.7 1266.1,1074.1 1266.4,1073.7 1266.6,1072.7 1266.8,1074.3 1267.0,1073.3 1267.3,1074.3 1267.5,1074.7 1267.7,1076.7 1268.0,1077.4 1268.2,1075.2 1268.4,1074.9 1268.6,1072.5 1268.9,1074.0 1269.1,1070.9 1269.3,1072.2 1269.5,1072.7 1269.8,1070.4 1270.0,1069.6 1270.2,1071.1 1270.4,1067.8 1270.7,1066.1 1270.9,1066.3 1271.1,1065.7 1271.3,1063.9 1271.6,1063.0 1271.8,1064.2 1272.0,1061.0 1272.2,1061.6 1272.5,1062.5 1272.8,1060.3 1273.0,1060.0 1273.2,1060.3 1273.5,1060.3 1273.8,1059.0 1274.0,1058.0 1274.2,1054.7 1274.4,1055.8 1274.6,1054.7 1274.9,1056.8 1275.1,1056.8 1275.3,1056.8 1275.5,1055.2 1275.8,1053.5 1276.0,1055.2 1276.2,1051.9 1276.5,1050.5 1276.8,1048.5 1277.0,1042.6 1277.2,1046.5 1277.5,1043.2 1277.8,1041.5 1278.0,1040.4 1278.2,1034.4 1278.5,1031.2 1278.8,1031.3 1279.0,1028.8 1279.2,1030.4 1279.5,1024.1 1279.8,1025.7 1280.0,1025.7 1280.2,1025.4 1280.5,1022.6 1280.8,1025.0 1281.0,1022.5 1281.2,1024.6 1281.5,1024.2 1281.8,1025.9 1282.0,1030.6 1282.2,1030.2 1282.5,1029.2 1282.8,1032.8 1283.0,1033.3 1283.2,1033.2 1283.5,1039.4 1283.8,1042.1 1284.0,1046.4 1284.2,1046.5 1284.5,1048.1 1284.7,1049.9 1284.9,1052.3 1285.1,1051.8 1285.4,1054.8 1285.6,1057.4 1285.8,1058.4 1286.0,1058.4 1286.2,1057.8 1286.5,1060.3 1286.7,1062.0 1286.9,1061.8 1287.2,1060.2 1287.4,1061.8 1287.6,1065.7 1287.8,1065.3 1288.1,1065.3 1288.3,1067.7 1288.5,1067.6 1288.8,1066.4 1289.0,1069.9 1289.2,1067.1 1289.4,1069.1 1289.7,1071.0 1289.9,1068.2 1290.1,1070.3 1290.3,1066.6 1290.6,1071.7 1290.8,1071.0 1291.0,1069.3 1291.2,1072.4 1291.5,1071.9 1291.7,1072.7 1291.9,1071.8 1292.2,1071.3 1292.4,1071.2 1292.6,1071.6 1292.9,1072.1 1293.1,1071.7 1293.3,1071.8 1293.6,1072.7 1293.8,1074.4 1294.0,1071.6 1294.3,1073.7 1294.5,1072.7 1294.7,1072.6 1295.0,1073.5 1295.2,1072.6 1295.4,1071.0 1295.7,1071.5 1295.9,1069.7 1296.1,1069.9 1296.3,1070.3 1296.6,1070.6 1296.8,1071.3 1297.0,1067.7 1297.3,1069.3 1297.5,1069.8 1297.7,1068.3 1297.9,1066.1 1298.2,1065.2 1298.4,1063.4 1298.6,1061.2 1298.8,1060.4 1299.1,1061.2 1299.3,1057.5 1299.5,1056.7 1299.8,1057.9 1300.0,1053.9 1300.2,1055.4 1300.5,1052.6 1300.8,1052.6 1301.0,1051.7 1301.2,1056.1 1301.5,1051.1 1301.7,1052.3 1301.9,1051.3 1302.1,1053.3 1302.4,1052.9 1302.6,1052.8 1302.8,1051.9 1303.0,1051.3 1303.2,1051.0 1303.5,1054.2 1303.8,1055.6 1304.0,1053.9 1304.2,1054.5 1304.5,1058.9 1304.8,1059.7 1305.0,1058.7 1305.2,1062.4 1305.5,1062.7 1305.8,1065.8 1306.0,1068.4 1306.2,1069.9 1306.5,1068.9 1306.7,1074.3 1306.9,1074.1 1307.1,1076.1 1307.4,1076.1 1307.6,1076.1 1307.8,1075.5 1308.0,1078.6 1308.2,1079.9 1308.5,1081.7 1308.7,1080.3 1308.9,1081.4 1309.2,1081.3 1309.4,1081.1 1309.6,1082.4 1309.8,1083.0 1310.1,1085.1 1310.3,1086.6 1310.5,1087.0 1310.8,1086.9 1311.0,1089.2 1311.2,1086.6 1311.4,1089.9 1311.7,1088.6 1311.9,1086.9 1312.1,1089.7 1312.4,1087.9 1312.6,1090.5 1312.8,1090.7 1313.1,1091.7 1313.3,1090.6 1313.5,1090.5 1313.8,1090.4 1314.0,1091.9 1314.2,1092.5 1314.4,1091.9 1314.7,1094.3 1314.9,1091.8 1315.1,1092.2 1315.4,1093.2 1315.6,1091.4 1315.8,1092.5 1316.1,1091.9 1316.3,1093.0 1316.5,1093.2 1316.8,1091.4 1317.0,1093.3 1317.2,1091.9 1317.5,1092.8 1317.7,1092.4 1317.9,1094.6 1318.2,1091.4 1318.4,1093.4 1318.6,1091.6 1318.8,1091.3 1319.1,1091.4 1319.3,1092.5 1319.5,1092.4 1319.8,1091.7 1320.0,1090.7 1320.2,1090.4 1320.5,1090.8 1320.7,1091.1 1320.9,1089.1 1321.2,1089.6 1321.4,1090.8 1321.6,1090.0 1321.8,1089.3 1322.1,1088.1 1322.3,1088.8 1322.5,1087.8 1322.8,1088.0 1323.0,1088.1 1323.2,1088.6 1323.5,1086.6 1323.7,1086.3 1323.9,1086.5 1324.2,1085.8 1324.4,1085.7 1324.6,1086.2 1324.9,1086.3 1325.1,1087.4 1325.3,1085.6 1325.6,1085.2 1325.8,1085.6 1326.0,1084.5 1326.2,1085.6 1326.5,1084.9 1326.7,1083.6 1326.9,1082.6 1327.2,1082.9 1327.4,1083.0 1327.6,1082.0 1327.8,1079.6 1328.1,1078.9 1328.3,1078.4 1328.5,1082.0 1328.8,1080.6 1329.0,1080.1 1329.2,1079.7 1329.4,1078.9 1329.6,1075.4 1329.9,1074.1 1330.1,1076.0 1330.3,1075.8 1330.5,1074.0 1330.8,1072.5 1331.0,1071.2 1331.2,1067.0 1331.5,1061.5 1331.8,1063.4 1332.0,1061.0 1332.2,1057.3 1332.5,1055.0 1332.8,1051.3 1333.0,1047.6 1333.2,1044.6 1333.5,1039.7 1333.8,1036.6 1334.0,1033.5 1334.2,1028.4 1334.5,1029.0 1334.8,1027.8 1335.0,1023.7 1335.2,1022.5 1335.5,1021.2 1335.8,1021.6 1336.0,1018.6 1336.2,1017.5 1336.5,1017.4 1336.8,1018.5 1337.0,1017.2 1337.2,1018.2 1337.5,1017.6 1337.8,1019.4 1338.0,1017.7 1338.2,1018.9 1338.5,1020.3 1338.8,1025.4 1339.0,1025.7 1339.2,1028.5 1339.5,1031.1 1339.8,1034.9 1340.0,1038.0 1340.2,1042.6 1340.5,1045.9 1340.8,1050.9 1341.0,1053.1 1341.2,1057.9 1341.5,1062.3 1341.8,1066.2 1342.0,1069.9 1342.2,1072.6 1342.5,1070.4 1342.8,1072.8 1343.0,1075.2 1343.2,1074.6 1343.5,1072.5 1343.8,1073.8 1344.0,1070.4 1344.2,1067.9 1344.5,1061.4 1344.7,1060.8 1344.9,1059.1 1345.2,1060.1 1345.4,1055.2 1345.6,1056.8 1345.8,1051.8 1346.1,1050.3 1346.3,1049.7 1346.5,1046.7 1346.7,1046.3 1347.0,1046.0 1347.2,1046.4 1347.4,1048.0 1347.6,1046.6 1347.8,1047.1 1348.1,1046.8 1348.3,1041.3 1348.5,1044.6 1348.8,1044.8 1349.0,1045.2 1349.2,1042.8 1349.5,1041.9 1349.8,1045.0 1350.0,1043.4 1350.2,1046.4 1350.5,1046.7 1350.8,1051.4 1351.0,1050.6 1351.2,1049.7 1351.5,1051.5 1351.8,1053.7 1352.0,1056.1 1352.2,1059.0 1352.5,1059.5 1352.8,1059.1 1353.0,1062.4 1353.2,1063.7 1353.4,1065.9 1353.7,1065.3 1353.9,1066.2 1354.1,1069.7 1354.3,1069.3 1354.6,1071.7 1354.8,1071.7 1355.0,1073.5 1355.2,1073.0 1355.5,1077.1 1355.8,1077.4 1356.0,1074.9 1356.2,1077.3 1356.5,1078.9 1356.8,1082.2 1357.0,1080.8 1357.2,1081.2 1357.5,1078.2 1357.8,1078.3 1358.0,1078.4 1358.2,1077.0 1358.5,1073.9 1358.8,1073.7 1359.0,1072.0 1359.2,1068.9 1359.5,1068.8 1359.8,1064.9 1360.0,1061.7 1360.2,1059.9 1360.5,1057.1 1360.8,1058.0 1361.0,1052.2 1361.2,1052.0 1361.5,1052.3 1361.8,1046.6 1362.0,1046.4 1362.2,1047.4 1362.5,1043.8 1362.8,1044.2 1363.0,1046.4 1363.2,1044.0 1363.5,1044.1 1363.8,1043.8 1364.0,1043.8 1364.2,1044.3 1364.5,1044.6 1364.8,1047.3 1365.0,1048.1 1365.2,1050.4 1365.5,1051.7 1365.8,1054.1 1366.0,1058.4 1366.2,1058.9 1366.5,1061.8 1366.8,1063.7 1367.0,1068.5 1367.2,1066.8 1367.5,1073.3 1367.8,1075.5 1368.0,1075.7 1368.2,1078.6 1368.5,1081.2 1368.8,1080.2 1369.0,1082.8 1369.2,1084.6 1369.5,1085.4 1369.8,1086.3 1370.0,1085.9 1370.2,1089.2 1370.5,1089.9 1370.8,1088.6 1371.0,1090.3 1371.2,1087.6 1371.5,1090.7 1371.7,1090.2 1372.0,1088.8 1372.2,1089.3 1372.4,1089.7 1372.6,1086.1 1372.8,1088.5 1373.1,1086.0 1373.3,1083.0 1373.5,1084.9 1373.8,1083.9 1374.0,1081.7 1374.2,1082.3 1374.4,1082.2 1374.7,1078.6 1374.9,1080.2 1375.1,1077.9 1375.4,1076.5 1375.6,1076.5 1375.8,1076.6 1376.0,1074.6 1376.3,1075.6 1376.5,1074.0 1376.7,1074.8 1377.0,1071.2 1377.2,1070.5 1377.4,1071.5 1377.7,1070.7 1377.9,1070.6 1378.1,1067.8 1378.4,1070.4 1378.6,1067.5 1378.8,1067.1 1379.1,1066.0 1379.3,1067.2 1379.5,1066.8 1379.8,1065.2 1380.0,1066.3 1380.2,1064.0 1380.5,1063.8 1380.7,1062.9 1380.9,1064.2 1381.2,1061.9 1381.4,1062.6 1381.6,1064.1 1381.8,1062.4 1382.1,1061.9 1382.3,1063.2 1382.5,1058.9 1382.8,1060.6 1383.0,1059.8 1383.2,1058.9 1383.5,1059.8 1383.7,1060.5 1383.9,1058.5 1384.1,1058.6 1384.4,1059.7 1384.6,1058.9 1384.8,1058.8 1385.0,1058.6 1385.2,1058.5 1385.5,1060.8 1385.7,1060.4 1385.9,1060.5 1386.2,1058.6 1386.4,1059.0 1386.6,1059.6 1386.9,1061.6 1387.1,1059.4 1387.3,1063.2 1387.5,1063.7 1387.8,1064.7 1388.0,1064.9 1388.2,1063.1 1388.4,1066.9 1388.7,1067.6 1388.9,1071.7 1389.1,1072.4 1389.3,1072.3 1389.6,1074.2 1389.8,1076.3 1390.0,1078.0 1390.2,1078.6 1390.5,1079.3 1390.7,1079.9 1390.9,1082.0 1391.1,1082.6 1391.4,1082.4 1391.6,1083.0 1391.8,1085.1 1392.0,1086.3 1392.3,1086.6 1392.5,1089.2 1392.7,1086.5 1393.0,1086.0 1393.2,1085.1 1393.4,1084.6 1393.6,1084.6 1393.9,1083.5 1394.1,1085.6 1394.3,1085.8 1394.5,1081.5 1394.8,1083.1 1395.0,1081.4 1395.2,1082.5 1395.5,1083.8 1395.7,1083.4 1395.9,1081.0 1396.1,1081.5 1396.4,1082.3 1396.6,1082.5 1396.8,1081.1 1397.0,1080.7 1397.3,1083.2 1397.5,1081.0 1397.7,1083.8 1398.0,1081.2 1398.2,1084.3 1398.4,1083.7 1398.6,1084.6 1398.9,1084.8 1399.1,1085.6 1399.3,1084.5 1399.5,1085.2 1399.8,1086.5 1400.0,1087.1 1400.2,1088.0 1400.5,1089.0 1400.7,1089.7 1400.9,1088.3 1401.1,1088.0 1401.4,1088.7 1401.6,1088.2 1401.8,1089.4 1402.0,1088.5 1402.3,1089.6 1402.5,1092.4 1402.7,1089.0 1403.0,1089.6 1403.2,1090.6 1403.4,1090.1 1403.6,1090.6 1403.8,1088.9 1404.1,1088.6 1404.3,1091.1 1404.5,1092.8 1404.8,1089.9 1405.0,1089.3 1405.2,1089.1 1405.4,1089.4 1405.7,1089.2 1405.9,1086.9 1406.1,1088.8 1406.4,1085.3 1406.6,1086.0 1406.8,1086.4 1407.0,1084.5 1407.3,1085.4 1407.5,1085.8 1407.7,1081.5 1408.0,1082.4 1408.2,1081.8 1408.4,1082.8 1408.6,1081.4 1408.9,1079.2 1409.1,1079.1 1409.3,1078.5 1409.5,1078.3 1409.8,1076.6 1410.0,1077.1 1410.2,1077.9 1410.5,1077.4 1410.7,1076.8 1410.9,1073.5 1411.1,1075.1 1411.4,1072.4 1411.6,1073.5 1411.8,1074.7 1412.0,1073.6 1412.3,1075.1 1412.5,1073.0 1412.7,1076.2 1413.0,1075.0 1413.2,1070.2 1413.4,1073.5 1413.6,1073.7 1413.9,1074.6 1414.1,1072.1 1414.3,1073.2 1414.5,1070.1 1414.8,1072.6 1415.0,1072.4 1415.2,1070.8 1415.5,1069.7 1415.7,1068.0 1415.9,1066.4 1416.1,1070.3 1416.4,1068.2 1416.6,1068.4 1416.8,1066.3 1417.0,1066.9 1417.3,1067.2 1417.5,1065.7 1417.8,1065.6 1418.0,1066.9 1418.2,1067.5 1418.5,1068.3 1418.8,1066.1 1419.0,1066.0 1419.2,1065.5 1419.5,1067.8 1419.7,1068.1 1419.9,1067.5 1420.1,1069.1 1420.4,1068.5 1420.6,1070.9 1420.8,1069.2 1421.0,1071.5 1421.2,1070.1 1421.5,1068.7 1421.7,1072.3 1421.9,1073.8 1422.2,1074.1 1422.4,1075.1 1422.6,1076.7 1422.8,1076.1 1423.1,1075.4 1423.3,1074.8 1423.5,1077.7 1423.8,1080.3 1424.0,1080.8 1424.2,1078.7 1424.4,1078.2 1424.7,1078.8 1424.9,1080.3 1425.1,1081.3 1425.3,1080.4 1425.6,1081.0 1425.8,1081.7 1426.0,1081.7 1426.2,1083.0 1426.5,1083.3 1426.7,1085.7 1426.9,1086.1 1427.2,1084.9 1427.4,1084.6 1427.6,1086.8 1427.8,1085.2 1428.1,1085.8 1428.3,1086.8 1428.5,1087.1 1428.8,1088.5 1429.0,1089.3 1429.2,1087.7 1429.4,1091.3 1429.7,1089.9 1429.9,1088.8 1430.1,1089.3 1430.3,1092.0 1430.6,1092.5 1430.8,1092.1 1431.0,1092.9 1431.2,1091.2 1431.5,1092.8 1431.7,1091.9 1431.9,1093.9 1432.2,1092.6 1432.4,1093.6 1432.6,1094.1 1432.8,1094.2 1433.1,1093.1 1433.3,1095.0 1433.5,1094.0 1433.8,1095.4 1434.0,1094.5 1434.2,1093.1 1434.4,1094.1 1434.7,1094.2 1434.9,1093.2 1435.1,1092.4 1435.3,1092.9 1435.6,1094.3 1435.8,1090.4 1436.0,1091.9 1436.2,1091.8 1436.5,1091.6 1436.7,1089.5 1436.9,1091.5 1437.2,1089.5 1437.4,1087.2 1437.6,1087.1 1437.8,1089.1 1438.1,1085.0 1438.3,1087.0 1438.5,1085.0 1438.8,1085.0 1439.0,1084.8 1439.2,1083.1 1439.4,1083.6 1439.7,1083.1 1439.9,1081.3 1440.1,1081.8 1440.3,1081.7 1440.6,1080.7 1440.8,1081.3 1441.0,1079.6 1441.2,1077.8 1441.5,1080.2 1441.7,1077.7 1441.9,1075.3 1442.2,1077.5 1442.4,1074.8 1442.6,1074.5 1442.8,1072.6 1443.1,1072.9 1443.3,1071.3 1443.5,1068.2 1443.8,1069.4 1444.0,1067.9 1444.2,1063.0 1444.4,1062.7 1444.6,1062.8 1444.9,1056.9 1445.1,1058.8 1445.3,1057.0 1445.5,1056.9 1445.8,1053.6 1446.0,1053.1 1446.2,1049.2 1446.4,1050.3 1446.6,1052.5 1446.9,1046.6 1447.1,1044.4 1447.3,1043.1 1447.5,1044.0 1447.8,1044.0 1448.0,1044.2 1448.2,1042.9 1448.4,1042.9 1448.7,1043.9 1448.9,1043.3 1449.1,1043.1 1449.3,1046.8 1449.5,1043.9 1449.8,1044.7 1450.0,1042.8 1450.2,1044.0 1450.5,1044.5 1450.8,1044.3 1451.0,1047.1 1451.2,1045.1 1451.5,1046.6 1451.8,1049.5 1452.0,1050.3 1452.2,1054.7 1452.5,1057.6 1452.8,1062.4 1453.0,1064.8 1453.2,1066.9 1453.5,1069.1 1453.8,1070.8 1454.0,1073.7 1454.2,1075.2 1454.5,1076.6 1454.8,1072.3 1455.0,1073.8 1455.2,1075.0 1455.5,1070.8 1455.8,1072.1 1456.0,1069.2 1456.2,1067.5 1456.5,1062.7 1456.8,1060.1 1457.0,1059.4 1457.2,1056.5 1457.5,1055.6 1457.7,1056.2 1457.9,1051.2 1458.2,1052.7 1458.4,1052.7 1458.6,1052.5 1458.9,1052.7 1459.1,1054.1 1459.3,1050.8 1459.5,1050.2 1459.8,1052.3 1460.0,1049.7 1460.2,1056.0 1460.5,1054.8 1460.8,1054.7 1461.0,1056.9 1461.2,1055.4 1461.5,1056.1 1461.8,1056.2 1462.0,1056.4 1462.2,1059.5 1462.5,1062.2 1462.7,1060.4 1463.0,1063.2 1463.2,1063.7 1463.4,1062.6 1463.6,1064.6 1463.9,1061.1 1464.1,1065.6 1464.3,1065.2 1464.5,1068.5 1464.8,1064.2 1465.0,1068.4 1465.2,1068.7 1465.5,1069.7 1465.7,1070.6 1465.9,1068.7 1466.1,1070.9 1466.4,1070.4 1466.6,1072.3 1466.8,1070.9 1467.0,1072.1 1467.3,1075.3 1467.5,1076.3 1467.7,1078.3 1467.9,1077.6 1468.2,1076.4 1468.4,1078.4 1468.6,1079.7 1468.8,1081.1 1469.1,1081.2 1469.3,1082.4 1469.5,1083.1 1469.8,1083.3 1470.0,1082.5 1470.2,1084.2 1470.5,1082.7 1470.8,1082.8 1471.0,1084.3 1471.2,1083.3 1471.5,1081.4 1471.8,1080.3 1472.0,1077.5 1472.2,1077.7 1472.5,1073.6 1472.8,1074.6 1473.0,1069.2 1473.2,1069.9 1473.5,1072.0 1473.7,1070.3 1473.9,1070.2 1474.1,1071.1 1474.4,1067.0 1474.6,1070.4 1474.8,1066.3 1475.0,1070.0 1475.3,1067.1 1475.5,1068.9 1475.8,1068.7 1476.0,1067.6 1476.2,1064.9 1476.5,1070.4 1476.8,1068.4 1477.0,1067.8 1477.2,1069.1 1477.5,1069.2 1477.8,1072.4 1478.0,1073.8 1478.2,1073.1 1478.5,1078.0 1478.8,1077.5 1479.0,1079.0 1479.2,1078.9 1479.4,1079.2 1479.7,1076.9 1479.9,1077.5 1480.1,1079.7 1480.3,1078.8 1480.6,1079.7 1480.8,1079.7 1481.0,1079.2 1481.2,1081.3 1481.5,1079.5 1481.7,1078.5 1481.9,1078.1 1482.2,1083.7 1482.4,1079.9 1482.6,1080.1 1482.8,1082.1 1483.1,1081.2 1483.3,1084.3 1483.5,1082.7 1483.8,1082.0 1484.0,1081.4 1484.2,1083.7 1484.4,1084.8 1484.7,1084.0 1484.9,1087.3 1485.1,1085.7 1485.3,1085.9 1485.6,1086.8 1485.8,1086.2 1486.0,1087.6 1486.2,1089.6 1486.5,1088.2 1486.7,1088.7 1486.9,1090.3 1487.2,1090.1 1487.4,1090.3 1487.6,1090.3 1487.8,1092.3 1488.1,1092.3 1488.3,1094.2 1488.5,1092.4 1488.8,1094.6 1489.0,1094.6 1489.2,1095.7 1489.4,1094.7 1489.7,1095.2 1489.9,1095.4 1490.1,1095.3 1490.3,1096.4 1490.6,1096.8 1490.8,1096.8 1491.0,1097.8 1491.2,1098.0 1491.5,1098.0 1491.7,1096.6 1491.9,1098.9 1492.2,1099.2 1492.4,1099.0 1492.6,1098.5 1492.8,1097.7 1493.1,1100.0 1493.3,1099.8 1493.5,1101.8 1493.8,1099.7 1494.0,1099.3 1494.2,1099.8 1494.4,1100.2 1494.6,1099.5 1494.9,1099.5 1495.1,1101.5 1495.3,1101.0 1495.5,1102.2 1495.8,1103.4 1496.0,1100.7 1496.2,1100.7 1496.4,1102.7 1496.7,1102.2 1496.9,1101.6 1497.1,1102.8 1497.3,1102.6 1497.6,1102.7 1497.8,1101.0 1498.0,1103.8 1498.2,1104.9 1498.5,1102.6 1498.7,1102.8 1498.9,1102.8 1499.2,1102.1 1499.4,1102.7 1499.6,1102.4 1499.9,1102.3 1500.1,1104.2 1500.3,1102.8 1500.6,1102.2 1500.8,1102.6 1501.0,1101.3 1501.2,1103.0 1501.5,1102.1 1501.7,1104.3 1501.9,1101.8 1502.1,1105.1 1502.4,1103.3 1502.6,1102.0 1502.8,1102.6 1503.0,1102.7 1503.2,1102.7 1503.5,1103.0 1503.7,1103.9 1503.9,1105.3 1504.1,1104.0 1504.3,1103.9 1504.6,1102.7 1504.8,1102.9 1505.0,1102.9 1505.2,1105.1 1505.4,1102.4 1505.7,1103.4 1505.9,1102.9 1506.1,1104.0 1506.3,1102.3 1506.5,1102.7 1506.8,1101.9 1507.0,1101.4 1507.2,1101.5 1507.4,1101.6 1507.6,1102.2 1507.9,1100.0 1508.1,1099.6 1508.3,1101.2 1508.5,1099.9 1508.8,1099.6 1509.0,1100.6 1509.2,1099.9 1509.4,1100.7 1509.6,1100.7 1509.9,1100.2 1510.1,1099.8 1510.3,1099.8 1510.5,1099.7 1510.7,1099.1 1511.0,1098.1 1511.2,1098.5 1511.4,1098.1 1511.6,1098.6 1511.8,1098.6 1512.1,1097.1 1512.3,1099.3 1512.5,1097.7 1512.7,1099.3 1512.9,1099.0 1513.2,1099.1 1513.4,1098.3 1513.6,1099.0 1513.8,1097.0 1514.0,1098.3 1514.3,1099.2 1514.5,1100.0 1514.7,1098.0 1514.9,1099.2 1515.1,1099.8 1515.4,1098.7 1515.6,1098.2 1515.8,1098.3 1516.0,1097.9 1516.2,1098.9 1516.5,1097.3 1516.7,1099.6 1516.9,1098.7 1517.1,1100.2 1517.4,1098.8 1517.6,1097.5 1517.8,1099.4 1518.0,1098.8 1518.2,1098.0 1518.5,1097.3 1518.7,1098.4 1518.9,1098.5 1519.1,1098.3 1519.3,1099.8 1519.6,1097.7 1519.8,1098.1 1520.0,1100.0 1520.2,1098.2 1520.4,1099.2 1520.7,1099.5 1520.9,1100.2 1521.1,1101.0 1521.3,1098.7 1521.5,1099.6 1521.8,1100.2 1522.0,1101.3 1522.2,1099.7 1522.4,1100.4 1522.6,1100.9 1522.9,1101.1 1523.1,1100.8 1523.3,1100.6 1523.5,1102.4 1523.8,1100.8 1524.0,1100.6 1524.2,1102.2 1524.4,1099.9 1524.7,1102.8 1524.9,1100.0 1525.1,1101.0 1525.3,1100.9 1525.6,1101.1 1525.8,1099.4 1526.0,1100.0 1526.2,1099.5 1526.5,1098.4 1526.7,1098.3 1526.9,1098.6 1527.1,1097.8 1527.4,1097.6 1527.6,1095.8 1527.8,1096.2 1528.0,1095.0 1528.2,1094.1 1528.5,1093.5 1528.8,1092.0 1529.0,1090.5 1529.2,1089.0 1529.5,1087.5 1529.8,1076.9 1530.1,1066.2 1530.4,1076.9 1530.8,1087.5 1531.0,1089.4 1531.2,1091.2 1531.5,1093.1 1531.8,1095.4 1532.0,1095.5 1532.2,1094.7 1532.4,1095.4 1532.6,1096.4 1532.9,1095.4 1533.1,1096.7 1533.3,1095.3 1533.5,1095.4 1533.8,1097.3 1534.0,1096.0 1534.2,1095.7 1534.4,1096.9 1534.7,1096.7 1534.9,1097.7 1535.1,1098.1 1535.3,1096.6 1535.6,1097.4 1535.8,1096.8 1536.0,1098.5 1536.2,1098.0 1536.5,1095.6 1536.7,1095.9 1536.9,1095.3 1537.2,1096.1 1537.4,1095.5 1537.6,1094.2 1537.8,1094.6 1538.1,1094.1 1538.3,1093.5 1538.5,1093.3 1538.8,1091.8 1539.0,1091.6 1539.2,1092.8 1539.4,1089.2 1539.6,1089.9 1539.9,1088.4 1540.1,1089.0 1540.3,1089.0 1540.5,1087.6 1540.8,1085.9 1541.0,1086.9 1541.2,1086.0 1541.5,1086.1 1541.8,1088.1 1542.0,1086.5 1542.2,1085.6 1542.5,1085.3 1542.8,1086.0 1543.0,1086.1 1543.2,1088.2 1543.5,1086.7 1543.8,1090.3 1544.0,1089.9 1544.2,1089.3 1544.5,1091.5 1544.7,1092.8 1544.9,1092.8 1545.1,1094.0 1545.4,1093.7 1545.6,1095.0 1545.8,1098.1 1546.0,1097.5 1546.2,1096.5 1546.5,1098.4 1546.7,1097.2 1546.9,1099.1 1547.2,1098.3 1547.4,1098.5 1547.6,1100.6 1547.8,1100.2 1548.1,1100.3 1548.3,1101.6 1548.5,1100.5 1548.8,1102.3 1549.0,1101.8 1549.2,1100.7 1549.4,1100.7 1549.7,1100.5 1549.9,1100.7 1550.1,1098.4 1550.3,1101.6 1550.6,1100.5 1550.8,1100.4 1551.0,1098.6 1551.2,1098.9 1551.5,1099.9 1551.7,1097.3 1551.9,1097.5 1552.2,1098.7 1552.4,1098.7 1552.6,1098.5 1552.8,1098.7 1553.1,1098.0 1553.3,1098.4 1553.5,1098.8 1553.8,1098.0 1554.0,1099.0 1554.2,1099.3 1554.4,1099.5 1554.7,1098.3 1554.9,1099.5 1555.1,1100.8 1555.3,1099.7 1555.6,1100.4 1555.8,1101.1 1556.0,1101.6 1556.2,1101.4 1556.5,1099.4 1556.7,1099.6 1556.9,1100.1 1557.2,1099.3 1557.4,1098.5 1557.6,1097.3 1557.8,1097.9 1558.1,1096.5 1558.3,1097.5 1558.5,1096.2 1558.8,1097.6 1559.0,1095.3 1559.2,1095.8 1559.4,1096.2 1559.7,1095.8 1559.9,1091.7 1560.1,1094.5 1560.3,1095.4 1560.6,1093.1 1560.8,1093.5 1561.0,1091.5 1561.2,1092.3 1561.5,1089.4 1561.8,1090.5 1562.0,1086.3 1562.2,1085.5 1562.5,1085.3 1562.8,1083.8 1563.0,1081.3 1563.2,1083.7 1563.4,1084.0 1563.7,1081.7 1563.9,1082.5 1564.1,1083.5 1564.3,1081.5 1564.6,1081.3 1564.8,1083.7 1565.0,1081.0 1565.2,1081.3 1565.4,1083.2 1565.7,1081.0 1565.9,1082.7 1566.1,1082.6 1566.3,1083.2 1566.6,1086.5 1566.8,1086.2 1567.0,1084.8 1567.2,1086.5 1567.5,1086.9 1567.7,1085.9 1567.9,1086.9 1568.1,1088.4 1568.3,1087.9 1568.6,1088.1 1568.8,1088.3 1569.0,1089.0 1569.2,1090.1 1569.5,1090.5 1569.7,1089.8 1569.9,1090.4 1570.2,1089.4 1570.4,1089.9 1570.6,1090.9 1570.8,1093.2 1571.1,1092.3 1571.3,1090.9 1571.5,1091.3 1571.8,1091.0 1572.0,1091.7 1572.2,1092.5 1572.4,1093.4 1572.7,1092.5 1572.9,1095.0 1573.1,1094.8 1573.3,1095.5 1573.6,1094.2 1573.8,1096.8 1574.0,1096.1 1574.2,1097.0 1574.5,1096.4 1574.7,1095.6 1574.9,1095.5 1575.2,1096.2 1575.4,1097.2 1575.6,1098.4 1575.9,1096.7 1576.1,1097.0 1576.3,1097.4 1576.6,1097.0 1576.8,1098.9 1577.0,1099.7 1577.3,1098.4 1577.5,1098.2 1577.7,1099.1 1578.0,1098.5 1578.2,1097.8 1578.4,1096.9 1578.7,1095.5 1578.9,1098.4 1579.1,1098.0 1579.3,1095.5 1579.6,1096.6 1579.8,1094.9 1580.0,1094.8 1580.3,1095.5 1580.5,1095.0 1580.7,1095.0 1581.0,1093.2 1581.2,1093.9 1581.4,1092.4 1581.6,1091.7 1581.9,1093.9 1582.1,1091.3 1582.3,1093.0 1582.5,1090.7 1582.8,1092.2 1583.0,1093.2 1583.2,1090.9 1583.5,1090.2 1583.7,1091.6 1583.9,1091.0 1584.2,1092.5 1584.4,1094.7 1584.6,1091.4 1584.9,1093.9 1585.1,1092.3 1585.3,1093.6 1585.6,1091.8 1585.8,1092.1 1586.0,1092.5 1586.2,1094.3 1586.5,1094.0 1586.7,1090.0 1586.9,1093.4 1587.2,1091.7 1587.4,1090.0 1587.6,1090.0 1587.8,1091.4 1588.1,1088.6 1588.3,1090.2 1588.5,1089.0 1588.8,1088.4 1589.0,1087.6 1589.2,1088.1 1589.4,1087.9 1589.7,1087.4 1589.9,1087.5 1590.1,1089.5 1590.3,1088.1 1590.6,1089.1 1590.8,1088.2 1591.0,1087.3 1591.2,1089.4 1591.5,1090.2 1591.7,1088.9 1591.9,1088.1 1592.1,1090.6 1592.4,1088.5 1592.6,1088.3 1592.8,1087.0 1593.0,1089.0 1593.2,1089.2 1593.5,1089.1 1593.8,1086.6 1594.0,1089.1 1594.2,1088.1 1594.5,1088.5 1594.8,1089.7 1595.0,1089.3 1595.2,1090.6 1595.4,1092.3 1595.7,1091.6 1595.9,1091.7 1596.1,1093.0 1596.3,1093.1 1596.6,1095.3 1596.8,1096.0 1597.0,1097.0 1597.2,1097.5 1597.5,1096.0 1597.7,1096.1 1597.9,1097.6 1598.2,1098.1 1598.4,1099.1 1598.6,1099.9 1598.8,1098.6 1599.1,1099.0 1599.3,1100.2 1599.5,1101.3 1599.8,1100.9 1600.0,1101.2 1600.2,1102.1 1600.4,1101.8 1600.7,1103.2 1600.9,1101.7 1601.1,1101.7 1601.3,1103.5 1601.6,1103.8 1601.8,1102.2 1602.0,1104.9 1602.2,1103.1 1602.5,1102.6 1602.7,1103.5 1602.9,1103.6 1603.1,1104.0 1603.4,1104.3 1603.6,1104.5 1603.8,1105.7 1604.0,1103.9 1604.2,1105.0 1604.5,1104.4 1604.7,1104.7 1604.9,1105.5 1605.1,1104.1 1605.3,1105.7 1605.6,1105.3 1605.8,1104.5 1606.0,1105.4 1606.2,1105.6 1606.4,1104.7 1606.7,1104.5 1606.9,1105.9 1607.1,1104.8 1607.3,1103.3 1607.5,1104.0 1607.8,1104.2 1608.0,1103.6 1608.2,1102.4 1608.4,1103.4 1608.6,1103.7 1608.9,1103.3 1609.1,1102.8 1609.3,1102.7 1609.5,1103.3 1609.8,1101.8 1610.0,1101.6 1610.2,1102.7 1610.4,1101.9 1610.6,1101.2 1610.9,1100.6 1611.1,1101.1 1611.3,1101.4 1611.5,1100.8 1611.7,1100.6 1612.0,1101.5 1612.2,1100.9 1612.4,1099.5 1612.6,1100.8 1612.8,1102.2 1613.1,1100.5 1613.3,1099.5 1613.5,1098.9 1613.7,1098.8 1613.9,1099.6 1614.2,1099.8 1614.4,1100.1 1614.6,1100.5 1614.8,1100.2 1615.0,1100.6 1615.3,1100.2 1615.5,1100.7 1615.7,1101.8 1615.9,1099.3 1616.1,1100.6 1616.4,1101.3 1616.6,1100.9 1616.8,1100.0 1617.0,1100.3 1617.2,1099.9 1617.5,1102.2 1617.7,1101.3 1617.9,1100.5 1618.1,1100.0 1618.4,1101.8 1618.6,1101.3 1618.8,1102.1 1619.0,1102.1 1619.2,1102.7 1619.5,1101.7 1619.7,1103.7 1619.9,1101.4 1620.1,1103.5 1620.3,1103.6 1620.6,1102.4 1620.8,1103.1 1621.0,1104.1 1621.2,1103.6 1621.4,1104.8 1621.7,1105.6 1621.9,1104.1 1622.1,1106.0 1622.3,1104.2 1622.5,1104.4 1622.8,1105.4 1623.0,1105.6 1623.2,1103.9 1623.4,1104.5 1623.6,1106.0 1623.9,1104.6 1624.1,1105.4 1624.3,1105.9 1624.5,1105.4 1624.8,1106.3 1625.0,1105.3 1625.2,1105.3 1625.4,1105.3 1625.6,1104.9 1625.9,1104.9 1626.1,1105.2 1626.3,1105.5 1626.5,1104.3 1626.7,1105.4 1627.0,1104.8 1627.2,1103.9 1627.4,1103.8 1627.6,1103.9 1627.8,1103.7 1628.1,1102.8 1628.3,1103.3 1628.5,1101.9 1628.7,1103.2 1628.9,1104.7 1629.2,1102.8 1629.4,1103.9 1629.6,1103.1 1629.8,1103.9 1630.0,1103.5 1630.3,1104.2 1630.5,1102.0 1630.7,1103.6 1630.9,1102.9 1631.1,1102.9 1631.4,1103.9 1631.6,1102.3 1631.8,1102.4 1632.0,1101.3 1632.2,1103.0 1632.5,1102.5 1632.7,1101.7 1632.9,1101.3 1633.1,1102.9 1633.4,1102.9 1633.6,1100.8 1633.8,1102.0 1634.0,1103.5 1634.2,1101.9 1634.5,1101.6 1634.7,1102.5 1634.9,1102.6 1635.1,1101.1 1635.3,1101.1 1635.6,1101.1 1635.8,1102.0 1636.0,1101.6 1636.2,1099.5 1636.5,1100.6 1636.7,1099.2 1636.9,1099.6 1637.1,1100.1 1637.4,1099.2 1637.6,1098.2 1637.8,1097.8 1638.0,1097.5 1638.3,1099.1 1638.5,1096.7 1638.7,1097.6 1638.9,1096.8 1639.2,1096.5 1639.4,1096.0 1639.6,1092.7 1639.8,1091.5 1640.1,1092.2 1640.3,1091.9 1640.5,1090.8 1640.8,1090.8 1641.0,1089.8 1641.2,1087.3 1641.5,1086.2 1641.8,1085.9 1642.0,1087.1 1642.2,1085.1 1642.5,1082.6 1642.7,1085.9 1642.9,1084.1 1643.1,1082.0 1643.4,1083.0 1643.6,1082.7 1643.8,1084.5 1644.0,1083.4 1644.2,1085.0 1644.5,1085.8 1644.8,1086.2 1645.0,1088.9 1645.2,1088.7 1645.5,1090.0"/>
<g font-family="&quot;Liberation Sans&quot;, Arial, sans-serif" font-size="58" fill="#000"><text x="231.4" y="1211" text-anchor="middle" font-size="58.8">0</text><text x="447.5" y="1211" text-anchor="middle" font-size="58.8">10</text><text x="663.7" y="1211" text-anchor="middle" font-size="58.8">20</text><text x="879.8" y="1211" text-anchor="middle" font-size="58.8">30</text><text x="1096.0" y="1211" text-anchor="middle" font-size="58.8">40</text><text x="1312.1" y="1211" text-anchor="middle" font-size="58.8">50</text><text x="1528.3" y="1211" text-anchor="middle" font-size="58.8">60</text><text x="1744.4" y="1211" text-anchor="middle" font-size="58.8">70</text><text x="201" y="1148.2" text-anchor="end">0.0</text><text x="201" y="929.9" text-anchor="end">0.2</text><text x="201" y="711.7" text-anchor="end">0.4</text><text x="201" y="493.4" text-anchor="end">0.6</text><text x="201" y="275.2" text-anchor="end">0.8</text><text x="201" y="56.9" text-anchor="end">1.0</text></g>
<path d="M1100 291H1236" stroke="#000" stroke-width="4" fill="none" shape-rendering="crispEdges"/>
<path d="M1100 364H1236" stroke="#f00" stroke-width="4" fill="none" shape-rendering="crispEdges"/>
<g font-family="&quot;Liberation Sans&quot;, Arial, sans-serif" font-size="60" fill="#000"><text x="1268.8" y="311">fresh</text><text x="1267.6" y="384">used</text></g>
<text x="839.5" y="1332" font-family="&quot;Liberation Sans&quot;, Arial, sans-serif" font-size="68.3" fill="#000">angle / 2</text>
<text transform="translate(1097.8 1332) scale(1.25 1)" font-family="&quot;Liberation Serif&quot;, &quot;Times New Roman&quot;, serif" font-size="68" fill="#000">θ</text>
<text transform="translate(68 581.5) rotate(-90)" text-anchor="middle" font-family="&quot;Liberation Sans&quot;, Arial, sans-serif" font-size="68.2" fill="#000">normalise counts</text>
</svg>
</body>
</html>
